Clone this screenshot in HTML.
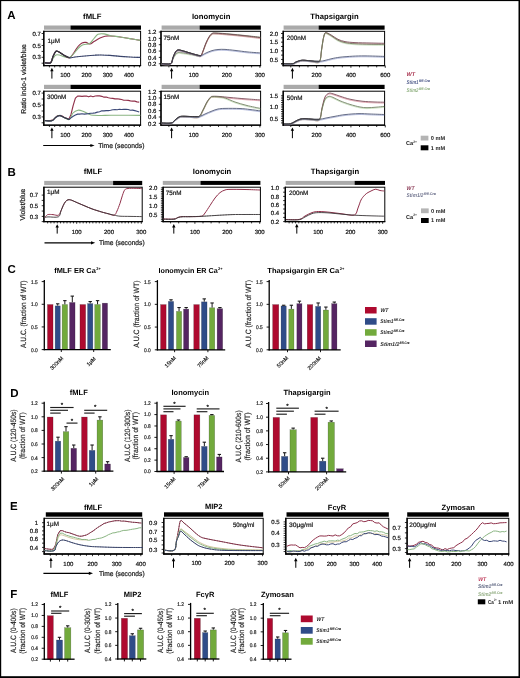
<!DOCTYPE html>
<html><head><meta charset="utf-8"><title>Figure</title>
<style>
html,body{margin:0;padding:0;background:#fff;}
body{width:520px;height:678px;overflow:hidden;}
svg{display:block;will-change:transform;text-rendering:geometricPrecision;font-family:"Liberation Sans", sans-serif;}
</style></head><body>
<svg width="520" height="678" viewBox="0 0 520 678" font-family="'Liberation Sans', sans-serif">
<rect x="0" y="0" width="520" height="678" fill="#fff"/>
<text x="11.50" y="18.74" font-size="11.5" text-anchor="middle" font-weight="bold" font-style="normal" fill="#000">A</text>
<text x="92.30" y="18.97" font-size="7.7" text-anchor="middle" font-weight="bold" font-style="normal" fill="#000">fMLF</text>
<text x="211.20" y="18.97" font-size="7.7" text-anchor="middle" font-weight="bold" font-style="normal" fill="#000">Ionomycin</text>
<text x="334.50" y="19.07" font-size="7.7" text-anchor="middle" font-weight="bold" font-style="normal" fill="#000">Thapsigargin</text>
<rect x="44.00" y="25.50" width="26.50" height="4.20" fill="#aaaaaa"/>
<rect x="70.50" y="25.50" width="70.50" height="4.20" fill="#000"/>
<rect x="43.80" y="31.30" width="96.80" height="34.30" fill="none" stroke="#000" stroke-width="1"/>
<line x1="43.80" y1="30.80" x2="43.80" y2="66.20" stroke="#000" stroke-width="1.3"/>
<line x1="43.20" y1="65.60" x2="141.10" y2="65.60" stroke="#000" stroke-width="1.3"/>
<line x1="41.60" y1="33.50" x2="43.80" y2="33.50" stroke="#000" stroke-width="0.8"/>
<text x="40.80" y="35.66" font-size="6.0" text-anchor="end" font-weight="normal" font-style="normal" fill="#1a1a1a" stroke="#1a1a1a" stroke-width="0.22">0.7</text>
<line x1="41.60" y1="39.40" x2="43.80" y2="39.40" stroke="#000" stroke-width="0.8"/>
<line x1="41.60" y1="45.45" x2="43.80" y2="45.45" stroke="#000" stroke-width="0.8"/>
<text x="40.80" y="47.61" font-size="6.0" text-anchor="end" font-weight="normal" font-style="normal" fill="#1a1a1a" stroke="#1a1a1a" stroke-width="0.22">0.5</text>
<line x1="41.60" y1="51.40" x2="43.80" y2="51.40" stroke="#000" stroke-width="0.8"/>
<line x1="41.60" y1="57.30" x2="43.80" y2="57.30" stroke="#000" stroke-width="0.8"/>
<text x="40.80" y="59.46" font-size="6.0" text-anchor="end" font-weight="normal" font-style="normal" fill="#1a1a1a" stroke="#1a1a1a" stroke-width="0.22">0.3</text>
<line x1="41.60" y1="63.20" x2="43.80" y2="63.20" stroke="#000" stroke-width="0.8"/>
<line x1="65.30" y1="65.60" x2="65.30" y2="67.80" stroke="#000" stroke-width="0.8"/>
<text x="65.30" y="77.36" font-size="6.0" text-anchor="middle" font-weight="normal" font-style="normal" fill="#1a1a1a" stroke="#1a1a1a" stroke-width="0.22">100</text>
<line x1="86.50" y1="65.60" x2="86.50" y2="67.80" stroke="#000" stroke-width="0.8"/>
<text x="86.50" y="77.36" font-size="6.0" text-anchor="middle" font-weight="normal" font-style="normal" fill="#1a1a1a" stroke="#1a1a1a" stroke-width="0.22">200</text>
<line x1="107.70" y1="65.60" x2="107.70" y2="67.80" stroke="#000" stroke-width="0.8"/>
<text x="107.70" y="77.36" font-size="6.0" text-anchor="middle" font-weight="normal" font-style="normal" fill="#1a1a1a" stroke="#1a1a1a" stroke-width="0.22">300</text>
<line x1="128.90" y1="65.60" x2="128.90" y2="67.80" stroke="#000" stroke-width="0.8"/>
<text x="128.90" y="77.36" font-size="6.0" text-anchor="middle" font-weight="normal" font-style="normal" fill="#1a1a1a" stroke="#1a1a1a" stroke-width="0.22">400</text>
<line x1="49.40" y1="65.60" x2="49.40" y2="67.40" stroke="#000" stroke-width="0.8"/>
<line x1="54.70" y1="65.60" x2="54.70" y2="67.40" stroke="#000" stroke-width="0.8"/>
<line x1="60.00" y1="65.60" x2="60.00" y2="67.40" stroke="#000" stroke-width="0.8"/>
<line x1="70.60" y1="65.60" x2="70.60" y2="67.40" stroke="#000" stroke-width="0.8"/>
<line x1="75.90" y1="65.60" x2="75.90" y2="67.40" stroke="#000" stroke-width="0.8"/>
<line x1="81.20" y1="65.60" x2="81.20" y2="67.40" stroke="#000" stroke-width="0.8"/>
<line x1="91.80" y1="65.60" x2="91.80" y2="67.40" stroke="#000" stroke-width="0.8"/>
<line x1="97.10" y1="65.60" x2="97.10" y2="67.40" stroke="#000" stroke-width="0.8"/>
<line x1="102.40" y1="65.60" x2="102.40" y2="67.40" stroke="#000" stroke-width="0.8"/>
<line x1="113.00" y1="65.60" x2="113.00" y2="67.40" stroke="#000" stroke-width="0.8"/>
<line x1="118.30" y1="65.60" x2="118.30" y2="67.40" stroke="#000" stroke-width="0.8"/>
<line x1="123.60" y1="65.60" x2="123.60" y2="67.40" stroke="#000" stroke-width="0.8"/>
<line x1="134.20" y1="65.60" x2="134.20" y2="67.40" stroke="#000" stroke-width="0.8"/>
<line x1="139.50" y1="65.60" x2="139.50" y2="67.40" stroke="#000" stroke-width="0.8"/>
<line x1="51.90" y1="69.80" x2="51.90" y2="78.60" stroke="#000" stroke-width="1.0"/>
<path d="M51.90 67.80 L50.20 71.20 L53.60 71.20 Z" fill="#000"/>
<rect x="161.60" y="25.50" width="38.00" height="4.20" fill="#aaaaaa"/>
<rect x="199.60" y="25.50" width="61.20" height="4.20" fill="#000"/>
<rect x="161.00" y="31.30" width="99.60" height="34.30" fill="none" stroke="#000" stroke-width="1"/>
<line x1="161.00" y1="30.80" x2="161.00" y2="66.20" stroke="#000" stroke-width="1.3"/>
<line x1="160.40" y1="65.60" x2="261.10" y2="65.60" stroke="#000" stroke-width="1.3"/>
<line x1="158.80" y1="32.00" x2="161.00" y2="32.00" stroke="#000" stroke-width="0.8"/>
<text x="156.40" y="34.16" font-size="6.0" text-anchor="end" font-weight="normal" font-style="normal" fill="#1a1a1a" stroke="#1a1a1a" stroke-width="0.22">1.2</text>
<line x1="158.80" y1="38.35" x2="161.00" y2="38.35" stroke="#000" stroke-width="0.8"/>
<text x="156.40" y="40.51" font-size="6.0" text-anchor="end" font-weight="normal" font-style="normal" fill="#1a1a1a" stroke="#1a1a1a" stroke-width="0.22">1.0</text>
<line x1="158.80" y1="44.70" x2="161.00" y2="44.70" stroke="#000" stroke-width="0.8"/>
<text x="156.40" y="46.86" font-size="6.0" text-anchor="end" font-weight="normal" font-style="normal" fill="#1a1a1a" stroke="#1a1a1a" stroke-width="0.22">0.8</text>
<line x1="158.80" y1="51.05" x2="161.00" y2="51.05" stroke="#000" stroke-width="0.8"/>
<text x="156.40" y="53.21" font-size="6.0" text-anchor="end" font-weight="normal" font-style="normal" fill="#1a1a1a" stroke="#1a1a1a" stroke-width="0.22">0.6</text>
<line x1="158.80" y1="57.40" x2="161.00" y2="57.40" stroke="#000" stroke-width="0.8"/>
<text x="156.40" y="59.56" font-size="6.0" text-anchor="end" font-weight="normal" font-style="normal" fill="#1a1a1a" stroke="#1a1a1a" stroke-width="0.22">0.4</text>
<line x1="158.80" y1="63.75" x2="161.00" y2="63.75" stroke="#000" stroke-width="0.8"/>
<text x="156.40" y="65.91" font-size="6.0" text-anchor="end" font-weight="normal" font-style="normal" fill="#1a1a1a" stroke="#1a1a1a" stroke-width="0.22">0.2</text>
<line x1="193.70" y1="65.60" x2="193.70" y2="67.80" stroke="#000" stroke-width="0.8"/>
<text x="193.70" y="77.36" font-size="6.0" text-anchor="middle" font-weight="normal" font-style="normal" fill="#1a1a1a" stroke="#1a1a1a" stroke-width="0.22">100</text>
<line x1="226.80" y1="65.60" x2="226.80" y2="67.80" stroke="#000" stroke-width="0.8"/>
<text x="226.80" y="77.36" font-size="6.0" text-anchor="middle" font-weight="normal" font-style="normal" fill="#1a1a1a" stroke="#1a1a1a" stroke-width="0.22">200</text>
<line x1="259.90" y1="65.60" x2="259.90" y2="67.80" stroke="#000" stroke-width="0.8"/>
<text x="259.90" y="77.36" font-size="6.0" text-anchor="middle" font-weight="normal" font-style="normal" fill="#1a1a1a" stroke="#1a1a1a" stroke-width="0.22">300</text>
<line x1="168.88" y1="65.60" x2="168.88" y2="67.40" stroke="#000" stroke-width="0.8"/>
<line x1="177.15" y1="65.60" x2="177.15" y2="67.40" stroke="#000" stroke-width="0.8"/>
<line x1="185.43" y1="65.60" x2="185.43" y2="67.40" stroke="#000" stroke-width="0.8"/>
<line x1="201.97" y1="65.60" x2="201.97" y2="67.40" stroke="#000" stroke-width="0.8"/>
<line x1="210.25" y1="65.60" x2="210.25" y2="67.40" stroke="#000" stroke-width="0.8"/>
<line x1="218.53" y1="65.60" x2="218.53" y2="67.40" stroke="#000" stroke-width="0.8"/>
<line x1="235.07" y1="65.60" x2="235.07" y2="67.40" stroke="#000" stroke-width="0.8"/>
<line x1="243.35" y1="65.60" x2="243.35" y2="67.40" stroke="#000" stroke-width="0.8"/>
<line x1="251.62" y1="65.60" x2="251.62" y2="67.40" stroke="#000" stroke-width="0.8"/>
<line x1="171.60" y1="69.80" x2="171.60" y2="78.60" stroke="#000" stroke-width="1.0"/>
<path d="M171.60 67.80 L169.90 71.20 L173.30 71.20 Z" fill="#000"/>
<rect x="283.60" y="25.50" width="35.00" height="4.20" fill="#aaaaaa"/>
<rect x="318.60" y="25.50" width="66.00" height="4.20" fill="#000"/>
<rect x="283.20" y="31.30" width="101.40" height="34.30" fill="none" stroke="#000" stroke-width="1"/>
<line x1="283.20" y1="30.80" x2="283.20" y2="66.20" stroke="#000" stroke-width="1.3"/>
<line x1="282.60" y1="65.60" x2="385.10" y2="65.60" stroke="#000" stroke-width="1.3"/>
<line x1="281.00" y1="33.50" x2="283.20" y2="33.50" stroke="#000" stroke-width="0.8"/>
<text x="278.20" y="35.66" font-size="6.0" text-anchor="end" font-weight="normal" font-style="normal" fill="#1a1a1a" stroke="#1a1a1a" stroke-width="0.22">2.0</text>
<line x1="281.00" y1="42.15" x2="283.20" y2="42.15" stroke="#000" stroke-width="0.8"/>
<text x="278.20" y="44.31" font-size="6.0" text-anchor="end" font-weight="normal" font-style="normal" fill="#1a1a1a" stroke="#1a1a1a" stroke-width="0.22">1.5</text>
<line x1="281.00" y1="50.80" x2="283.20" y2="50.80" stroke="#000" stroke-width="0.8"/>
<text x="278.20" y="52.96" font-size="6.0" text-anchor="end" font-weight="normal" font-style="normal" fill="#1a1a1a" stroke="#1a1a1a" stroke-width="0.22">1.0</text>
<line x1="281.00" y1="59.45" x2="283.20" y2="59.45" stroke="#000" stroke-width="0.8"/>
<text x="278.20" y="61.61" font-size="6.0" text-anchor="end" font-weight="normal" font-style="normal" fill="#1a1a1a" stroke="#1a1a1a" stroke-width="0.22">0.5</text>
<line x1="281.00" y1="37.83" x2="283.20" y2="37.83" stroke="#000" stroke-width="0.8"/>
<line x1="281.00" y1="46.48" x2="283.20" y2="46.48" stroke="#000" stroke-width="0.8"/>
<line x1="281.00" y1="55.12" x2="283.20" y2="55.12" stroke="#000" stroke-width="0.8"/>
<line x1="281.00" y1="63.78" x2="283.20" y2="63.78" stroke="#000" stroke-width="0.8"/>
<line x1="281.00" y1="63.80" x2="283.20" y2="63.80" stroke="#000" stroke-width="0.8"/>
<line x1="316.56" y1="65.60" x2="316.56" y2="67.80" stroke="#000" stroke-width="0.8"/>
<text x="316.56" y="77.36" font-size="6.0" text-anchor="middle" font-weight="normal" font-style="normal" fill="#1a1a1a" stroke="#1a1a1a" stroke-width="0.22">200</text>
<line x1="350.92" y1="65.60" x2="350.92" y2="67.80" stroke="#000" stroke-width="0.8"/>
<text x="350.92" y="77.36" font-size="6.0" text-anchor="middle" font-weight="normal" font-style="normal" fill="#1a1a1a" stroke="#1a1a1a" stroke-width="0.22">400</text>
<line x1="385.28" y1="65.60" x2="385.28" y2="67.80" stroke="#000" stroke-width="0.8"/>
<text x="385.28" y="77.36" font-size="6.0" text-anchor="middle" font-weight="normal" font-style="normal" fill="#1a1a1a" stroke="#1a1a1a" stroke-width="0.22">600</text>
<line x1="290.79" y1="65.60" x2="290.79" y2="67.40" stroke="#000" stroke-width="0.8"/>
<line x1="299.38" y1="65.60" x2="299.38" y2="67.40" stroke="#000" stroke-width="0.8"/>
<line x1="307.97" y1="65.60" x2="307.97" y2="67.40" stroke="#000" stroke-width="0.8"/>
<line x1="325.15" y1="65.60" x2="325.15" y2="67.40" stroke="#000" stroke-width="0.8"/>
<line x1="333.74" y1="65.60" x2="333.74" y2="67.40" stroke="#000" stroke-width="0.8"/>
<line x1="342.33" y1="65.60" x2="342.33" y2="67.40" stroke="#000" stroke-width="0.8"/>
<line x1="359.51" y1="65.60" x2="359.51" y2="67.40" stroke="#000" stroke-width="0.8"/>
<line x1="368.10" y1="65.60" x2="368.10" y2="67.40" stroke="#000" stroke-width="0.8"/>
<line x1="376.69" y1="65.60" x2="376.69" y2="67.40" stroke="#000" stroke-width="0.8"/>
<line x1="292.40" y1="69.80" x2="292.40" y2="78.60" stroke="#000" stroke-width="1.0"/>
<path d="M292.40 67.80 L290.70 71.20 L294.10 71.20 Z" fill="#000"/>
<rect x="44.00" y="84.80" width="26.50" height="4.20" fill="#aaaaaa"/>
<rect x="70.50" y="84.80" width="70.50" height="4.20" fill="#000"/>
<rect x="43.80" y="91.20" width="96.80" height="34.00" fill="none" stroke="#000" stroke-width="1"/>
<line x1="43.80" y1="90.70" x2="43.80" y2="125.80" stroke="#000" stroke-width="1.3"/>
<line x1="43.20" y1="125.20" x2="141.10" y2="125.20" stroke="#000" stroke-width="1.3"/>
<line x1="41.60" y1="93.10" x2="43.80" y2="93.10" stroke="#000" stroke-width="0.8"/>
<text x="40.80" y="95.26" font-size="6.0" text-anchor="end" font-weight="normal" font-style="normal" fill="#1a1a1a" stroke="#1a1a1a" stroke-width="0.22">0.7</text>
<line x1="41.60" y1="99.00" x2="43.80" y2="99.00" stroke="#000" stroke-width="0.8"/>
<line x1="41.60" y1="105.05" x2="43.80" y2="105.05" stroke="#000" stroke-width="0.8"/>
<text x="40.80" y="107.21" font-size="6.0" text-anchor="end" font-weight="normal" font-style="normal" fill="#1a1a1a" stroke="#1a1a1a" stroke-width="0.22">0.5</text>
<line x1="41.60" y1="111.00" x2="43.80" y2="111.00" stroke="#000" stroke-width="0.8"/>
<line x1="41.60" y1="116.90" x2="43.80" y2="116.90" stroke="#000" stroke-width="0.8"/>
<text x="40.80" y="119.06" font-size="6.0" text-anchor="end" font-weight="normal" font-style="normal" fill="#1a1a1a" stroke="#1a1a1a" stroke-width="0.22">0.3</text>
<line x1="41.60" y1="122.80" x2="43.80" y2="122.80" stroke="#000" stroke-width="0.8"/>
<line x1="65.30" y1="125.20" x2="65.30" y2="127.40" stroke="#000" stroke-width="0.8"/>
<text x="65.30" y="136.96" font-size="6.0" text-anchor="middle" font-weight="normal" font-style="normal" fill="#1a1a1a" stroke="#1a1a1a" stroke-width="0.22">100</text>
<line x1="86.50" y1="125.20" x2="86.50" y2="127.40" stroke="#000" stroke-width="0.8"/>
<text x="86.50" y="136.96" font-size="6.0" text-anchor="middle" font-weight="normal" font-style="normal" fill="#1a1a1a" stroke="#1a1a1a" stroke-width="0.22">200</text>
<line x1="107.70" y1="125.20" x2="107.70" y2="127.40" stroke="#000" stroke-width="0.8"/>
<text x="107.70" y="136.96" font-size="6.0" text-anchor="middle" font-weight="normal" font-style="normal" fill="#1a1a1a" stroke="#1a1a1a" stroke-width="0.22">300</text>
<line x1="128.90" y1="125.20" x2="128.90" y2="127.40" stroke="#000" stroke-width="0.8"/>
<text x="128.90" y="136.96" font-size="6.0" text-anchor="middle" font-weight="normal" font-style="normal" fill="#1a1a1a" stroke="#1a1a1a" stroke-width="0.22">400</text>
<line x1="49.40" y1="125.20" x2="49.40" y2="127.00" stroke="#000" stroke-width="0.8"/>
<line x1="54.70" y1="125.20" x2="54.70" y2="127.00" stroke="#000" stroke-width="0.8"/>
<line x1="60.00" y1="125.20" x2="60.00" y2="127.00" stroke="#000" stroke-width="0.8"/>
<line x1="70.60" y1="125.20" x2="70.60" y2="127.00" stroke="#000" stroke-width="0.8"/>
<line x1="75.90" y1="125.20" x2="75.90" y2="127.00" stroke="#000" stroke-width="0.8"/>
<line x1="81.20" y1="125.20" x2="81.20" y2="127.00" stroke="#000" stroke-width="0.8"/>
<line x1="91.80" y1="125.20" x2="91.80" y2="127.00" stroke="#000" stroke-width="0.8"/>
<line x1="97.10" y1="125.20" x2="97.10" y2="127.00" stroke="#000" stroke-width="0.8"/>
<line x1="102.40" y1="125.20" x2="102.40" y2="127.00" stroke="#000" stroke-width="0.8"/>
<line x1="113.00" y1="125.20" x2="113.00" y2="127.00" stroke="#000" stroke-width="0.8"/>
<line x1="118.30" y1="125.20" x2="118.30" y2="127.00" stroke="#000" stroke-width="0.8"/>
<line x1="123.60" y1="125.20" x2="123.60" y2="127.00" stroke="#000" stroke-width="0.8"/>
<line x1="134.20" y1="125.20" x2="134.20" y2="127.00" stroke="#000" stroke-width="0.8"/>
<line x1="139.50" y1="125.20" x2="139.50" y2="127.00" stroke="#000" stroke-width="0.8"/>
<line x1="51.90" y1="129.40" x2="51.90" y2="138.20" stroke="#000" stroke-width="1.0"/>
<path d="M51.90 127.40 L50.20 130.80 L53.60 130.80 Z" fill="#000"/>
<rect x="161.60" y="84.80" width="38.00" height="4.20" fill="#aaaaaa"/>
<rect x="199.60" y="84.80" width="61.20" height="4.20" fill="#000"/>
<rect x="161.00" y="91.20" width="99.60" height="34.00" fill="none" stroke="#000" stroke-width="1"/>
<line x1="161.00" y1="90.70" x2="161.00" y2="125.80" stroke="#000" stroke-width="1.3"/>
<line x1="160.40" y1="125.20" x2="261.10" y2="125.20" stroke="#000" stroke-width="1.3"/>
<line x1="158.80" y1="91.60" x2="161.00" y2="91.60" stroke="#000" stroke-width="0.8"/>
<text x="156.40" y="93.76" font-size="6.0" text-anchor="end" font-weight="normal" font-style="normal" fill="#1a1a1a" stroke="#1a1a1a" stroke-width="0.22">1.2</text>
<line x1="158.80" y1="97.95" x2="161.00" y2="97.95" stroke="#000" stroke-width="0.8"/>
<text x="156.40" y="100.11" font-size="6.0" text-anchor="end" font-weight="normal" font-style="normal" fill="#1a1a1a" stroke="#1a1a1a" stroke-width="0.22">1.0</text>
<line x1="158.80" y1="104.30" x2="161.00" y2="104.30" stroke="#000" stroke-width="0.8"/>
<text x="156.40" y="106.46" font-size="6.0" text-anchor="end" font-weight="normal" font-style="normal" fill="#1a1a1a" stroke="#1a1a1a" stroke-width="0.22">0.8</text>
<line x1="158.80" y1="110.65" x2="161.00" y2="110.65" stroke="#000" stroke-width="0.8"/>
<text x="156.40" y="112.81" font-size="6.0" text-anchor="end" font-weight="normal" font-style="normal" fill="#1a1a1a" stroke="#1a1a1a" stroke-width="0.22">0.6</text>
<line x1="158.80" y1="117.00" x2="161.00" y2="117.00" stroke="#000" stroke-width="0.8"/>
<text x="156.40" y="119.16" font-size="6.0" text-anchor="end" font-weight="normal" font-style="normal" fill="#1a1a1a" stroke="#1a1a1a" stroke-width="0.22">0.4</text>
<line x1="158.80" y1="123.35" x2="161.00" y2="123.35" stroke="#000" stroke-width="0.8"/>
<text x="156.40" y="125.51" font-size="6.0" text-anchor="end" font-weight="normal" font-style="normal" fill="#1a1a1a" stroke="#1a1a1a" stroke-width="0.22">0.2</text>
<line x1="193.70" y1="125.20" x2="193.70" y2="127.40" stroke="#000" stroke-width="0.8"/>
<text x="193.70" y="136.96" font-size="6.0" text-anchor="middle" font-weight="normal" font-style="normal" fill="#1a1a1a" stroke="#1a1a1a" stroke-width="0.22">100</text>
<line x1="226.80" y1="125.20" x2="226.80" y2="127.40" stroke="#000" stroke-width="0.8"/>
<text x="226.80" y="136.96" font-size="6.0" text-anchor="middle" font-weight="normal" font-style="normal" fill="#1a1a1a" stroke="#1a1a1a" stroke-width="0.22">200</text>
<line x1="259.90" y1="125.20" x2="259.90" y2="127.40" stroke="#000" stroke-width="0.8"/>
<text x="259.90" y="136.96" font-size="6.0" text-anchor="middle" font-weight="normal" font-style="normal" fill="#1a1a1a" stroke="#1a1a1a" stroke-width="0.22">300</text>
<line x1="168.88" y1="125.20" x2="168.88" y2="127.00" stroke="#000" stroke-width="0.8"/>
<line x1="177.15" y1="125.20" x2="177.15" y2="127.00" stroke="#000" stroke-width="0.8"/>
<line x1="185.43" y1="125.20" x2="185.43" y2="127.00" stroke="#000" stroke-width="0.8"/>
<line x1="201.97" y1="125.20" x2="201.97" y2="127.00" stroke="#000" stroke-width="0.8"/>
<line x1="210.25" y1="125.20" x2="210.25" y2="127.00" stroke="#000" stroke-width="0.8"/>
<line x1="218.53" y1="125.20" x2="218.53" y2="127.00" stroke="#000" stroke-width="0.8"/>
<line x1="235.07" y1="125.20" x2="235.07" y2="127.00" stroke="#000" stroke-width="0.8"/>
<line x1="243.35" y1="125.20" x2="243.35" y2="127.00" stroke="#000" stroke-width="0.8"/>
<line x1="251.62" y1="125.20" x2="251.62" y2="127.00" stroke="#000" stroke-width="0.8"/>
<line x1="171.60" y1="129.40" x2="171.60" y2="138.20" stroke="#000" stroke-width="1.0"/>
<path d="M171.60 127.40 L169.90 130.80 L173.30 130.80 Z" fill="#000"/>
<rect x="283.60" y="84.80" width="35.00" height="4.20" fill="#aaaaaa"/>
<rect x="318.60" y="84.80" width="66.00" height="4.20" fill="#000"/>
<rect x="283.20" y="91.20" width="101.40" height="34.00" fill="none" stroke="#000" stroke-width="1"/>
<line x1="283.20" y1="90.70" x2="283.20" y2="125.80" stroke="#000" stroke-width="1.3"/>
<line x1="282.60" y1="125.20" x2="385.10" y2="125.20" stroke="#000" stroke-width="1.3"/>
<line x1="281.00" y1="95.80" x2="283.20" y2="95.80" stroke="#000" stroke-width="0.8"/>
<text x="278.20" y="97.96" font-size="6.0" text-anchor="end" font-weight="normal" font-style="normal" fill="#1a1a1a" stroke="#1a1a1a" stroke-width="0.22">1.5</text>
<line x1="281.00" y1="107.00" x2="283.20" y2="107.00" stroke="#000" stroke-width="0.8"/>
<text x="278.20" y="109.16" font-size="6.0" text-anchor="end" font-weight="normal" font-style="normal" fill="#1a1a1a" stroke="#1a1a1a" stroke-width="0.22">1.0</text>
<line x1="281.00" y1="118.40" x2="283.20" y2="118.40" stroke="#000" stroke-width="0.8"/>
<text x="278.20" y="120.56" font-size="6.0" text-anchor="end" font-weight="normal" font-style="normal" fill="#1a1a1a" stroke="#1a1a1a" stroke-width="0.22">0.5</text>
<line x1="281.00" y1="98.06" x2="283.20" y2="98.06" stroke="#000" stroke-width="0.8"/>
<line x1="281.00" y1="100.32" x2="283.20" y2="100.32" stroke="#000" stroke-width="0.8"/>
<line x1="281.00" y1="102.58" x2="283.20" y2="102.58" stroke="#000" stroke-width="0.8"/>
<line x1="281.00" y1="104.84" x2="283.20" y2="104.84" stroke="#000" stroke-width="0.8"/>
<line x1="281.00" y1="109.36" x2="283.20" y2="109.36" stroke="#000" stroke-width="0.8"/>
<line x1="281.00" y1="111.62" x2="283.20" y2="111.62" stroke="#000" stroke-width="0.8"/>
<line x1="281.00" y1="113.88" x2="283.20" y2="113.88" stroke="#000" stroke-width="0.8"/>
<line x1="281.00" y1="116.14" x2="283.20" y2="116.14" stroke="#000" stroke-width="0.8"/>
<line x1="281.00" y1="120.66" x2="283.20" y2="120.66" stroke="#000" stroke-width="0.8"/>
<line x1="281.00" y1="122.92" x2="283.20" y2="122.92" stroke="#000" stroke-width="0.8"/>
<line x1="316.56" y1="125.20" x2="316.56" y2="127.40" stroke="#000" stroke-width="0.8"/>
<text x="316.56" y="136.96" font-size="6.0" text-anchor="middle" font-weight="normal" font-style="normal" fill="#1a1a1a" stroke="#1a1a1a" stroke-width="0.22">200</text>
<line x1="350.92" y1="125.20" x2="350.92" y2="127.40" stroke="#000" stroke-width="0.8"/>
<text x="350.92" y="136.96" font-size="6.0" text-anchor="middle" font-weight="normal" font-style="normal" fill="#1a1a1a" stroke="#1a1a1a" stroke-width="0.22">400</text>
<line x1="385.28" y1="125.20" x2="385.28" y2="127.40" stroke="#000" stroke-width="0.8"/>
<text x="385.28" y="136.96" font-size="6.0" text-anchor="middle" font-weight="normal" font-style="normal" fill="#1a1a1a" stroke="#1a1a1a" stroke-width="0.22">600</text>
<line x1="290.79" y1="125.20" x2="290.79" y2="127.00" stroke="#000" stroke-width="0.8"/>
<line x1="299.38" y1="125.20" x2="299.38" y2="127.00" stroke="#000" stroke-width="0.8"/>
<line x1="307.97" y1="125.20" x2="307.97" y2="127.00" stroke="#000" stroke-width="0.8"/>
<line x1="325.15" y1="125.20" x2="325.15" y2="127.00" stroke="#000" stroke-width="0.8"/>
<line x1="333.74" y1="125.20" x2="333.74" y2="127.00" stroke="#000" stroke-width="0.8"/>
<line x1="342.33" y1="125.20" x2="342.33" y2="127.00" stroke="#000" stroke-width="0.8"/>
<line x1="359.51" y1="125.20" x2="359.51" y2="127.00" stroke="#000" stroke-width="0.8"/>
<line x1="368.10" y1="125.20" x2="368.10" y2="127.00" stroke="#000" stroke-width="0.8"/>
<line x1="376.69" y1="125.20" x2="376.69" y2="127.00" stroke="#000" stroke-width="0.8"/>
<line x1="292.40" y1="129.40" x2="292.40" y2="138.20" stroke="#000" stroke-width="1.0"/>
<path d="M292.40 127.40 L290.70 130.80 L294.10 130.80 Z" fill="#000"/>
<text x="47.50" y="43.27" font-size="6.3" text-anchor="start" font-weight="normal" font-style="normal" fill="#1a1a1a" stroke="#1a1a1a" stroke-width="0.22">1μM</text>
<text x="163.60" y="39.77" font-size="6.3" text-anchor="start" font-weight="normal" font-style="normal" fill="#1a1a1a" stroke="#1a1a1a" stroke-width="0.22">75nM</text>
<text x="286.80" y="40.17" font-size="6.3" text-anchor="start" font-weight="normal" font-style="normal" fill="#1a1a1a" stroke="#1a1a1a" stroke-width="0.22">200nM</text>
<text x="46.90" y="99.27" font-size="6.3" text-anchor="start" font-weight="normal" font-style="normal" fill="#1a1a1a" stroke="#1a1a1a" stroke-width="0.22">300nM</text>
<text x="163.60" y="99.47" font-size="6.3" text-anchor="start" font-weight="normal" font-style="normal" fill="#1a1a1a" stroke="#1a1a1a" stroke-width="0.22">15nM</text>
<text x="286.80" y="99.77" font-size="6.3" text-anchor="start" font-weight="normal" font-style="normal" fill="#1a1a1a" stroke="#1a1a1a" stroke-width="0.22">50nM</text>
<text x="23.40" y="81.52" font-size="7.0" text-anchor="middle" font-weight="normal" font-style="normal" fill="#1a1a1a" stroke="#1a1a1a" stroke-width="0.22" textLength="69.50" lengthAdjust="spacingAndGlyphs" transform="rotate(-90 23.40 79.00)">Ratio indo-1 violet/blue</text>
<line x1="43.20" y1="145.50" x2="91.60" y2="145.50" stroke="#000" stroke-width="1.2"/>
<path d="M94.60 145.50 L90.40 143.90 L90.40 147.10 Z" fill="#000"/>
<text x="98.20" y="148.12" font-size="7.0" text-anchor="start" font-weight="normal" font-style="normal" fill="#1a1a1a" stroke="#1a1a1a" stroke-width="0.22" textLength="46.30" lengthAdjust="spacingAndGlyphs">Time (seconds)</text>
<text x="406.50" y="75.92" font-size="5.6" font-style="italic" font-weight="bold" fill="#a8324e" textLength="8.60" lengthAdjust="spacingAndGlyphs">WT</text>
<text x="406.50" y="84.14" font-size="5.4" font-style="italic" font-weight="bold" fill="#54608e" textLength="12.10" lengthAdjust="spacingAndGlyphs">Stim1</text>
<text x="418.90" y="82.14" font-size="3.4" font-style="italic" fill="#54608e" stroke="#54608e" stroke-width="0.15" textLength="11.00" lengthAdjust="spacingAndGlyphs">fl/fl-Cre</text>
<text x="406.50" y="91.64" font-size="5.4" font-style="italic" font-weight="bold" fill="#92b283" textLength="12.10" lengthAdjust="spacingAndGlyphs">Stim2</text>
<text x="418.90" y="89.64" font-size="3.4" font-style="italic" fill="#92b283" stroke="#92b283" stroke-width="0.15" textLength="11.00" lengthAdjust="spacingAndGlyphs">fl/fl-Cre</text>
<text x="406.00" y="145.30" font-size="5.6" font-weight="bold" fill="#1a1a1a">Ca<tspan font-size="3.4" dy="-2.2">2+</tspan></text>
<rect x="420.70" y="135.70" width="7.70" height="4.80" fill="#b4b4b4"/>
<rect x="420.70" y="145.30" width="7.70" height="5.00" fill="#000"/>
<text x="430.80" y="140.12" font-size="5.6" text-anchor="start" font-weight="bold" font-style="normal" fill="#1a1a1a">0 mM</text>
<text x="430.80" y="149.72" font-size="5.6" text-anchor="start" font-weight="bold" font-style="normal" fill="#1a1a1a">1 mM</text>
<path d="M44.60 62.90 C45.60 62.90 49.20 63.63 50.60 62.90 C52.00 62.17 52.10 59.82 53.00 58.50 C53.90 57.18 54.83 55.55 56.00 55.00 C57.17 54.45 58.67 54.93 60.00 55.20 C61.33 55.47 62.42 56.13 64.00 56.60 C65.58 57.07 68.58 57.77 69.50 58.00" fill="none" stroke="#8ab582" stroke-width="1.1" stroke-linejoin="round" opacity="1.0"/>
<path d="M44.60 62.70 C45.60 62.70 49.20 63.73 50.60 62.70 C52.00 61.67 52.10 58.40 53.00 56.50 C53.90 54.60 55.00 52.05 56.00 51.30 C57.00 50.55 57.67 51.33 59.00 52.00 C60.33 52.67 62.25 54.33 64.00 55.30 C65.75 56.27 67.83 58.27 69.50 57.80 C71.17 57.33 72.58 54.38 74.00 52.50 C75.42 50.62 76.67 48.08 78.00 46.50 C79.33 44.92 80.67 43.68 82.00 43.00 C83.33 42.32 84.67 42.23 86.00 42.40 C87.33 42.57 88.67 44.15 90.00 44.00 C91.33 43.85 92.33 42.50 94.00 41.50 C95.67 40.50 98.17 38.88 100.00 38.00 C101.83 37.12 103.33 36.53 105.00 36.20 C106.67 35.87 107.50 35.87 110.00 36.00 C112.50 36.13 116.67 36.57 120.00 37.00 C123.33 37.43 126.62 38.03 130.00 38.60 C133.38 39.17 138.58 40.10 140.30 40.40" fill="none" stroke="#90304a" stroke-width="1.15" stroke-linejoin="round" opacity="1.0"/>
<path d="M69.50 57.80 C70.25 57.08 72.58 55.05 74.00 53.50 C75.42 51.95 76.67 49.88 78.00 48.50 C79.33 47.12 80.67 45.90 82.00 45.20 C83.33 44.50 84.67 44.62 86.00 44.30 C87.33 43.98 88.67 44.27 90.00 43.30 C91.33 42.33 92.67 40.00 94.00 38.50 C95.33 37.00 96.33 35.07 98.00 34.30 C99.67 33.53 102.00 33.70 104.00 33.90 C106.00 34.10 107.33 34.98 110.00 35.50 C112.67 36.02 116.67 36.48 120.00 37.00 C123.33 37.52 126.62 38.03 130.00 38.60 C133.38 39.17 138.58 40.10 140.30 40.40" fill="none" stroke="#8ab582" stroke-width="1.1" stroke-linejoin="round" opacity="1.0"/>
<path d="M44.60 62.70 C45.60 62.70 49.20 63.73 50.60 62.70 C52.00 61.67 52.10 58.40 53.00 56.50 C53.90 54.60 55.00 52.05 56.00 51.30 C57.00 50.55 57.67 51.33 59.00 52.00 C60.33 52.67 62.25 54.33 64.00 55.30 C65.75 56.27 67.67 57.52 69.50 57.80 C71.33 58.08 72.42 57.30 75.00 57.00 C77.58 56.70 81.67 56.30 85.00 56.00 C88.33 55.70 92.33 55.37 95.00 55.20 C97.67 55.03 98.50 54.97 101.00 55.00 C103.50 55.03 106.83 55.17 110.00 55.40 C113.17 55.63 116.67 56.13 120.00 56.40 C123.33 56.67 126.62 56.83 130.00 57.00 C133.38 57.17 138.58 57.33 140.30 57.40" fill="none" stroke="#3b4877" stroke-width="1.15" stroke-linejoin="round" opacity="1.0"/>
<path d="M44.60 62.70 C45.60 62.70 49.20 63.73 50.60 62.70 C52.00 61.67 52.10 58.40 53.00 56.50 C53.90 54.60 55.00 52.05 56.00 51.30 C57.00 50.55 57.67 51.33 59.00 52.00 C60.33 52.67 62.25 54.33 64.00 55.30 C65.75 56.27 67.67 57.52 69.50 57.80 C71.33 58.08 72.42 57.30 75.00 57.00 C77.58 56.70 81.67 56.30 85.00 56.00 C88.33 55.70 92.33 55.37 95.00 55.20 C97.67 55.03 98.50 54.97 101.00 55.00 C103.50 55.03 106.83 55.17 110.00 55.40 C113.17 55.63 116.67 56.13 120.00 56.40 C123.33 56.67 126.62 56.83 130.00 57.00 C133.38 57.17 138.58 57.33 140.30 57.40" fill="none" stroke="#3a3a3a" stroke-width="0.6" stroke-dasharray="1.2 1.4" opacity="0.8"/>
<path d="M44.60 62.70 C45.60 62.70 49.20 63.73 50.60 62.70 C52.00 61.67 52.10 58.40 53.00 56.50 C53.90 54.60 55.00 52.05 56.00 51.30 C57.00 50.55 57.67 51.33 59.00 52.00 C60.33 52.67 62.25 54.33 64.00 55.30 C65.75 56.27 68.58 57.38 69.50 57.80" fill="none" stroke="#3a3538" stroke-width="1.15" stroke-linejoin="round" opacity="1.0"/>
<path d="M161.60 63.60 C163.10 63.60 168.70 64.45 170.60 63.60 C172.50 62.75 172.18 60.02 173.00 58.50 C173.82 56.98 174.67 55.48 175.50 54.50 C176.33 53.52 176.92 52.88 178.00 52.60 C179.08 52.32 180.00 52.57 182.00 52.80 C184.00 53.03 187.50 53.60 190.00 54.00 C192.50 54.40 195.20 54.93 197.00 55.20 C198.80 55.47 200.17 55.53 200.80 55.60" fill="none" stroke="#8fc07a" stroke-width="0.8" opacity="0.55" transform="translate(0 0.9)"/>
<path d="M161.60 63.60 C163.10 63.60 168.70 64.45 170.60 63.60 C172.50 62.75 172.18 60.02 173.00 58.50 C173.82 56.98 174.67 55.48 175.50 54.50 C176.33 53.52 176.92 52.88 178.00 52.60 C179.08 52.32 180.00 52.57 182.00 52.80 C184.00 53.03 187.50 53.60 190.00 54.00 C192.50 54.40 195.20 54.93 197.00 55.20 C198.80 55.47 200.17 55.53 200.80 55.60" fill="none" stroke="#6c7a5c" stroke-width="0.85"/>
<path d="M161.60 63.60 C163.10 63.60 168.70 64.62 170.60 63.60 C172.50 62.58 172.18 59.43 173.00 57.50 C173.82 55.57 174.67 53.25 175.50 52.00 C176.33 50.75 176.92 50.23 178.00 50.00 C179.08 49.77 180.00 50.10 182.00 50.60 C184.00 51.10 187.50 52.27 190.00 53.00 C192.50 53.73 195.20 54.57 197.00 55.00 C198.80 55.43 199.80 56.27 200.80 55.60 C201.80 54.93 202.13 53.10 203.00 51.00 C203.87 48.90 205.00 45.33 206.00 43.00 C207.00 40.67 208.00 38.57 209.00 37.00 C210.00 35.43 210.83 34.27 212.00 33.60 C213.17 32.93 213.00 32.93 216.00 33.00 C219.00 33.07 225.17 33.58 230.00 34.00 C234.83 34.42 239.95 34.97 245.00 35.50 C250.05 36.03 257.75 36.92 260.30 37.20" fill="none" stroke="#8fc07a" stroke-width="0.8" opacity="0.55" transform="translate(0 0.9)"/>
<path d="M161.60 63.60 C163.10 63.60 168.70 64.62 170.60 63.60 C172.50 62.58 172.18 59.43 173.00 57.50 C173.82 55.57 174.67 53.25 175.50 52.00 C176.33 50.75 176.92 50.23 178.00 50.00 C179.08 49.77 180.00 50.10 182.00 50.60 C184.00 51.10 187.50 52.27 190.00 53.00 C192.50 53.73 195.20 54.57 197.00 55.00 C198.80 55.43 199.80 56.27 200.80 55.60 C201.80 54.93 202.13 53.10 203.00 51.00 C203.87 48.90 205.00 45.33 206.00 43.00 C207.00 40.67 208.00 38.57 209.00 37.00 C210.00 35.43 210.83 34.27 212.00 33.60 C213.17 32.93 213.00 32.93 216.00 33.00 C219.00 33.07 225.17 33.58 230.00 34.00 C234.83 34.42 239.95 34.97 245.00 35.50 C250.05 36.03 257.75 36.92 260.30 37.20" fill="none" stroke="#6c7a5c" stroke-width="0.85"/>
<path d="M161.60 63.60 C163.10 63.60 168.70 64.62 170.60 63.60 C172.50 62.58 172.18 59.43 173.00 57.50 C173.82 55.57 174.67 53.25 175.50 52.00 C176.33 50.75 176.92 50.23 178.00 50.00 C179.08 49.77 180.00 50.10 182.00 50.60 C184.00 51.10 187.50 52.27 190.00 53.00 C192.50 53.73 195.20 54.57 197.00 55.00 C198.80 55.43 199.80 56.27 200.80 55.60 C201.80 54.93 202.13 53.10 203.00 51.00 C203.87 48.90 205.00 45.33 206.00 43.00 C207.00 40.67 208.00 38.57 209.00 37.00 C210.00 35.43 210.83 34.23 212.00 33.60 C213.17 32.97 213.00 33.08 216.00 33.20 C219.00 33.32 225.17 33.87 230.00 34.30 C234.83 34.73 239.95 35.25 245.00 35.80 C250.05 36.35 257.75 37.30 260.30 37.60" fill="none" stroke="#c0405a" stroke-width="0.8" opacity="0.55" transform="translate(0 0.9)"/>
<path d="M161.60 63.60 C163.10 63.60 168.70 64.62 170.60 63.60 C172.50 62.58 172.18 59.43 173.00 57.50 C173.82 55.57 174.67 53.25 175.50 52.00 C176.33 50.75 176.92 50.23 178.00 50.00 C179.08 49.77 180.00 50.10 182.00 50.60 C184.00 51.10 187.50 52.27 190.00 53.00 C192.50 53.73 195.20 54.57 197.00 55.00 C198.80 55.43 199.80 56.27 200.80 55.60 C201.80 54.93 202.13 53.10 203.00 51.00 C203.87 48.90 205.00 45.33 206.00 43.00 C207.00 40.67 208.00 38.57 209.00 37.00 C210.00 35.43 210.83 34.23 212.00 33.60 C213.17 32.97 213.00 33.08 216.00 33.20 C219.00 33.32 225.17 33.87 230.00 34.30 C234.83 34.73 239.95 35.25 245.00 35.80 C250.05 36.35 257.75 37.30 260.30 37.60" fill="none" stroke="#74424f" stroke-width="0.85"/>
<path d="M161.60 63.60 C163.10 63.60 168.70 64.62 170.60 63.60 C172.50 62.58 172.18 59.43 173.00 57.50 C173.82 55.57 174.67 53.25 175.50 52.00 C176.33 50.75 176.92 50.23 178.00 50.00 C179.08 49.77 180.00 50.10 182.00 50.60 C184.00 51.10 187.50 52.27 190.00 53.00 C192.50 53.73 195.20 54.57 197.00 55.00 C198.80 55.43 199.30 55.93 200.80 55.60 C202.30 55.27 204.13 53.83 206.00 53.00 C207.87 52.17 210.00 51.18 212.00 50.60 C214.00 50.02 215.83 49.70 218.00 49.50 C220.17 49.30 222.17 49.25 225.00 49.40 C227.83 49.55 231.17 49.97 235.00 50.40 C238.83 50.83 243.78 51.58 248.00 52.00 C252.22 52.42 258.25 52.75 260.30 52.90" fill="none" stroke="#5a6ab0" stroke-width="0.8" opacity="0.55" transform="translate(0 0.9)"/>
<path d="M161.60 63.60 C163.10 63.60 168.70 64.62 170.60 63.60 C172.50 62.58 172.18 59.43 173.00 57.50 C173.82 55.57 174.67 53.25 175.50 52.00 C176.33 50.75 176.92 50.23 178.00 50.00 C179.08 49.77 180.00 50.10 182.00 50.60 C184.00 51.10 187.50 52.27 190.00 53.00 C192.50 53.73 195.20 54.57 197.00 55.00 C198.80 55.43 199.30 55.93 200.80 55.60 C202.30 55.27 204.13 53.83 206.00 53.00 C207.87 52.17 210.00 51.18 212.00 50.60 C214.00 50.02 215.83 49.70 218.00 49.50 C220.17 49.30 222.17 49.25 225.00 49.40 C227.83 49.55 231.17 49.97 235.00 50.40 C238.83 50.83 243.78 51.58 248.00 52.00 C252.22 52.42 258.25 52.75 260.30 52.90" fill="none" stroke="#4a5370" stroke-width="0.85"/>
<path d="M161.60 63.60 C163.10 63.60 168.70 64.62 170.60 63.60 C172.50 62.58 172.18 59.43 173.00 57.50 C173.82 55.57 174.67 53.25 175.50 52.00 C176.33 50.75 176.92 50.23 178.00 50.00 C179.08 49.77 180.00 50.10 182.00 50.60 C184.00 51.10 187.50 52.27 190.00 53.00 C192.50 53.73 195.20 54.57 197.00 55.00 C198.80 55.43 200.17 55.50 200.80 55.60" fill="none" stroke="#3a3538" stroke-width="0.9" stroke-linejoin="round" opacity="1.0"/>
<path d="M284.00 63.70 C285.42 63.70 290.50 63.98 292.50 63.70 C294.50 63.42 294.62 62.55 296.00 62.00 C297.38 61.45 299.30 60.68 300.80 60.40 C302.30 60.12 303.13 60.20 305.00 60.30 C306.87 60.40 309.58 60.83 312.00 61.00 C314.42 61.17 317.92 63.13 319.50 61.30 C321.08 59.47 320.87 53.80 321.50 50.00 C322.13 46.20 322.72 41.33 323.30 38.50 C323.88 35.67 324.38 33.95 325.00 33.00 C325.62 32.05 325.83 32.38 327.00 32.80 C328.17 33.22 330.17 34.42 332.00 35.50 C333.83 36.58 335.83 38.28 338.00 39.30 C340.17 40.32 342.17 41.05 345.00 41.60 C347.83 42.15 350.83 42.37 355.00 42.60 C359.17 42.83 365.12 42.88 370.00 43.00 C374.88 43.12 381.92 43.25 384.30 43.30" fill="none" stroke="#c0405a" stroke-width="0.8" opacity="0.55" transform="translate(0 0.9)"/>
<path d="M284.00 63.70 C285.42 63.70 290.50 63.98 292.50 63.70 C294.50 63.42 294.62 62.55 296.00 62.00 C297.38 61.45 299.30 60.68 300.80 60.40 C302.30 60.12 303.13 60.20 305.00 60.30 C306.87 60.40 309.58 60.83 312.00 61.00 C314.42 61.17 317.92 63.13 319.50 61.30 C321.08 59.47 320.87 53.80 321.50 50.00 C322.13 46.20 322.72 41.33 323.30 38.50 C323.88 35.67 324.38 33.95 325.00 33.00 C325.62 32.05 325.83 32.38 327.00 32.80 C328.17 33.22 330.17 34.42 332.00 35.50 C333.83 36.58 335.83 38.28 338.00 39.30 C340.17 40.32 342.17 41.05 345.00 41.60 C347.83 42.15 350.83 42.37 355.00 42.60 C359.17 42.83 365.12 42.88 370.00 43.00 C374.88 43.12 381.92 43.25 384.30 43.30" fill="none" stroke="#74424f" stroke-width="0.85"/>
<path d="M284.00 63.70 C285.42 63.70 290.50 63.98 292.50 63.70 C294.50 63.42 294.62 62.55 296.00 62.00 C297.38 61.45 299.30 60.68 300.80 60.40 C302.30 60.12 303.13 60.20 305.00 60.30 C306.87 60.40 309.58 60.83 312.00 61.00 C314.42 61.17 317.92 63.13 319.50 61.30 C321.08 59.47 320.87 53.80 321.50 50.00 C322.13 46.20 322.72 41.30 323.30 38.50 C323.88 35.70 324.38 34.08 325.00 33.20 C325.62 32.32 325.83 32.70 327.00 33.20 C328.17 33.70 330.17 35.03 332.00 36.20 C333.83 37.37 335.83 39.13 338.00 40.20 C340.17 41.27 342.17 42.00 345.00 42.60 C347.83 43.20 350.83 43.52 355.00 43.80 C359.17 44.08 365.12 44.20 370.00 44.30 C374.88 44.40 381.92 44.38 384.30 44.40" fill="none" stroke="#8fc07a" stroke-width="0.8" opacity="0.55" transform="translate(0 0.9)"/>
<path d="M284.00 63.70 C285.42 63.70 290.50 63.98 292.50 63.70 C294.50 63.42 294.62 62.55 296.00 62.00 C297.38 61.45 299.30 60.68 300.80 60.40 C302.30 60.12 303.13 60.20 305.00 60.30 C306.87 60.40 309.58 60.83 312.00 61.00 C314.42 61.17 317.92 63.13 319.50 61.30 C321.08 59.47 320.87 53.80 321.50 50.00 C322.13 46.20 322.72 41.30 323.30 38.50 C323.88 35.70 324.38 34.08 325.00 33.20 C325.62 32.32 325.83 32.70 327.00 33.20 C328.17 33.70 330.17 35.03 332.00 36.20 C333.83 37.37 335.83 39.13 338.00 40.20 C340.17 41.27 342.17 42.00 345.00 42.60 C347.83 43.20 350.83 43.52 355.00 43.80 C359.17 44.08 365.12 44.20 370.00 44.30 C374.88 44.40 381.92 44.38 384.30 44.40" fill="none" stroke="#6c7a5c" stroke-width="0.85"/>
<path d="M284.00 63.70 C285.42 63.70 290.50 63.98 292.50 63.70 C294.50 63.42 294.62 62.55 296.00 62.00 C297.38 61.45 299.30 60.68 300.80 60.40 C302.30 60.12 303.13 60.20 305.00 60.30 C306.87 60.40 309.58 60.83 312.00 61.00 C314.42 61.17 317.33 61.40 319.50 61.30 C321.67 61.20 322.92 60.85 325.00 60.40 C327.08 59.95 329.50 59.13 332.00 58.60 C334.50 58.07 336.55 57.60 340.00 57.20 C343.45 56.80 348.53 56.42 352.70 56.20 C356.87 55.98 359.73 55.87 365.00 55.90 C370.27 55.93 381.08 56.32 384.30 56.40" fill="none" stroke="#5a6ab0" stroke-width="0.8" opacity="0.55" transform="translate(0 0.9)"/>
<path d="M284.00 63.70 C285.42 63.70 290.50 63.98 292.50 63.70 C294.50 63.42 294.62 62.55 296.00 62.00 C297.38 61.45 299.30 60.68 300.80 60.40 C302.30 60.12 303.13 60.20 305.00 60.30 C306.87 60.40 309.58 60.83 312.00 61.00 C314.42 61.17 317.33 61.40 319.50 61.30 C321.67 61.20 322.92 60.85 325.00 60.40 C327.08 59.95 329.50 59.13 332.00 58.60 C334.50 58.07 336.55 57.60 340.00 57.20 C343.45 56.80 348.53 56.42 352.70 56.20 C356.87 55.98 359.73 55.87 365.00 55.90 C370.27 55.93 381.08 56.32 384.30 56.40" fill="none" stroke="#4a5370" stroke-width="0.85"/>
<path d="M284.00 63.70 C285.42 63.70 290.50 63.98 292.50 63.70 C294.50 63.42 294.62 62.55 296.00 62.00 C297.38 61.45 299.30 60.68 300.80 60.40 C302.30 60.12 303.13 60.20 305.00 60.30 C306.87 60.40 309.58 60.83 312.00 61.00 C314.42 61.17 318.25 61.25 319.50 61.30" fill="none" stroke="#3a3538" stroke-width="0.9" stroke-linejoin="round" opacity="1.0"/>
<path d="M44.60 120.52 L46.80 120.46 L49.00 121.04 L51.20 120.36 L53.40 119.76 L55.60 117.41 L57.80 115.53 L60.00 115.64 L62.20 116.02 L64.40 117.55 L66.60 118.30 L68.80 119.45 L71.00 114.40 L73.20 105.37 L75.40 98.20 L77.60 96.17 L79.80 96.07 L82.00 96.35 L84.20 96.07 L86.40 96.07 L88.60 96.82 L90.80 95.95 L93.00 96.71 L95.20 96.05 L97.40 95.87 L99.60 95.90 L101.80 96.31 L104.00 97.18 L106.20 96.96 L108.40 97.80 L110.60 98.24 L112.80 98.34 L115.00 98.88 L117.20 98.75 L119.40 99.07 L121.60 99.52 L123.80 100.27 L126.00 100.27 L128.20 100.41 L130.40 100.93 L132.60 101.06 L134.80 101.16 L137.00 101.91 L139.20 102.07" fill="none" stroke="#90304a" stroke-width="1.15" stroke-linejoin="round" opacity="1.0"/>
<path d="M44.60 120.70 C45.80 120.70 50.07 121.15 51.80 120.70 C53.53 120.25 53.85 118.85 55.00 118.00 C56.15 117.15 57.53 115.87 58.70 115.60 C59.87 115.33 60.78 115.93 62.00 116.40 C63.22 116.87 64.75 117.90 66.00 118.40 C67.25 118.90 68.33 120.30 69.50 119.40 C70.67 118.50 71.58 114.53 73.00 113.00 C74.42 111.47 76.33 110.50 78.00 110.20 C79.67 109.90 81.33 110.63 83.00 111.20 C84.67 111.77 86.33 112.92 88.00 113.60 C89.67 114.28 90.17 115.00 93.00 115.30 C95.83 115.60 100.50 115.42 105.00 115.40 C109.50 115.38 114.12 115.20 120.00 115.20 C125.88 115.20 136.92 115.37 140.30 115.40" fill="none" stroke="#8ab582" stroke-width="1.1" stroke-linejoin="round" opacity="1.0"/>
<path d="M44.60 120.52 L46.80 120.86 L49.00 120.91 L51.20 121.05 L53.40 119.89 L55.60 117.39 L57.80 116.31 L60.00 115.37 L62.20 116.43 L64.40 117.79 L66.60 118.42 L68.80 119.46 L71.00 117.90 L73.20 116.29 L75.40 115.09 L77.60 114.15 L79.80 114.12 L82.00 113.79 L84.20 114.07 L86.40 113.84 L88.60 113.58 L90.80 113.20 L93.00 113.15 L95.20 112.87 L97.40 112.11 L99.60 111.74 L101.80 110.83 L104.00 110.89 L106.20 110.56 L108.40 110.57 L110.60 110.26 L112.80 109.72 L115.00 109.66 L117.20 109.76 L119.40 109.25 L121.60 109.54 L123.80 109.37 L126.00 109.41 L128.20 109.52 L130.40 110.24 L132.60 110.13 L134.80 110.63 L137.00 111.20 L139.20 112.03" fill="none" stroke="#3b4877" stroke-width="1.15" stroke-linejoin="round" opacity="1.0"/>
<path d="M44.60 120.70 C45.80 120.70 50.07 121.15 51.80 120.70 C53.53 120.25 53.85 118.85 55.00 118.00 C56.15 117.15 57.53 115.87 58.70 115.60 C59.87 115.33 60.78 115.93 62.00 116.40 C63.22 116.87 64.75 117.90 66.00 118.40 C67.25 118.90 68.92 119.23 69.50 119.40" fill="none" stroke="#3a3538" stroke-width="0.9" stroke-linejoin="round" opacity="1.0"/>
<path d="M161.60 123.00 C163.20 123.00 168.97 123.50 171.20 123.00 C173.43 122.50 173.70 121.00 175.00 120.00 C176.30 119.00 177.75 117.62 179.00 117.00 C180.25 116.38 180.67 116.38 182.50 116.30 C184.33 116.22 187.28 116.45 190.00 116.50 C192.72 116.55 196.63 117.68 198.80 116.60 C200.97 115.52 201.63 112.43 203.00 110.00 C204.37 107.57 205.75 104.13 207.00 102.00 C208.25 99.87 209.50 98.15 210.50 97.20 C211.50 96.25 211.42 96.42 213.00 96.30 C214.58 96.18 217.17 96.30 220.00 96.50 C222.83 96.70 225.83 97.12 230.00 97.50 C234.17 97.88 239.95 98.40 245.00 98.80 C250.05 99.20 257.75 99.72 260.30 99.90" fill="none" stroke="#c0405a" stroke-width="0.8" opacity="0.55" transform="translate(0 0.9)"/>
<path d="M161.60 123.00 C163.20 123.00 168.97 123.50 171.20 123.00 C173.43 122.50 173.70 121.00 175.00 120.00 C176.30 119.00 177.75 117.62 179.00 117.00 C180.25 116.38 180.67 116.38 182.50 116.30 C184.33 116.22 187.28 116.45 190.00 116.50 C192.72 116.55 196.63 117.68 198.80 116.60 C200.97 115.52 201.63 112.43 203.00 110.00 C204.37 107.57 205.75 104.13 207.00 102.00 C208.25 99.87 209.50 98.15 210.50 97.20 C211.50 96.25 211.42 96.42 213.00 96.30 C214.58 96.18 217.17 96.30 220.00 96.50 C222.83 96.70 225.83 97.12 230.00 97.50 C234.17 97.88 239.95 98.40 245.00 98.80 C250.05 99.20 257.75 99.72 260.30 99.90" fill="none" stroke="#74424f" stroke-width="0.85"/>
<path d="M161.60 123.00 C163.20 123.00 168.97 123.50 171.20 123.00 C173.43 122.50 173.70 121.00 175.00 120.00 C176.30 119.00 177.75 117.62 179.00 117.00 C180.25 116.38 180.67 116.38 182.50 116.30 C184.33 116.22 187.28 116.45 190.00 116.50 C192.72 116.55 196.63 117.68 198.80 116.60 C200.97 115.52 201.63 112.43 203.00 110.00 C204.37 107.57 205.75 104.10 207.00 102.00 C208.25 99.90 209.50 98.32 210.50 97.40 C211.50 96.48 211.42 96.58 213.00 96.50 C214.58 96.42 217.95 96.65 220.00 96.90 C222.05 97.15 222.80 97.15 225.30 98.00 C227.80 98.85 231.38 100.75 235.00 102.00 C238.62 103.25 242.78 104.43 247.00 105.50 C251.22 106.57 258.08 107.92 260.30 108.40" fill="none" stroke="#8fc07a" stroke-width="0.8" opacity="0.55" transform="translate(0 0.9)"/>
<path d="M161.60 123.00 C163.20 123.00 168.97 123.50 171.20 123.00 C173.43 122.50 173.70 121.00 175.00 120.00 C176.30 119.00 177.75 117.62 179.00 117.00 C180.25 116.38 180.67 116.38 182.50 116.30 C184.33 116.22 187.28 116.45 190.00 116.50 C192.72 116.55 196.63 117.68 198.80 116.60 C200.97 115.52 201.63 112.43 203.00 110.00 C204.37 107.57 205.75 104.10 207.00 102.00 C208.25 99.90 209.50 98.32 210.50 97.40 C211.50 96.48 211.42 96.58 213.00 96.50 C214.58 96.42 217.95 96.65 220.00 96.90 C222.05 97.15 222.80 97.15 225.30 98.00 C227.80 98.85 231.38 100.75 235.00 102.00 C238.62 103.25 242.78 104.43 247.00 105.50 C251.22 106.57 258.08 107.92 260.30 108.40" fill="none" stroke="#6c7a5c" stroke-width="0.85"/>
<path d="M161.60 123.00 C163.20 123.00 168.97 123.50 171.20 123.00 C173.43 122.50 173.70 121.00 175.00 120.00 C176.30 119.00 177.75 117.62 179.00 117.00 C180.25 116.38 180.67 116.38 182.50 116.30 C184.33 116.22 187.28 116.45 190.00 116.50 C192.72 116.55 196.30 117.02 198.80 116.60 C201.30 116.18 202.80 114.93 205.00 114.00 C207.20 113.07 209.83 111.83 212.00 111.00 C214.17 110.17 215.83 109.43 218.00 109.00 C220.17 108.57 221.33 108.48 225.00 108.40 C228.67 108.32 235.83 108.32 240.00 108.50 C244.17 108.68 246.62 109.10 250.00 109.50 C253.38 109.90 258.58 110.67 260.30 110.90" fill="none" stroke="#5a6ab0" stroke-width="0.8" opacity="0.55" transform="translate(0 0.9)"/>
<path d="M161.60 123.00 C163.20 123.00 168.97 123.50 171.20 123.00 C173.43 122.50 173.70 121.00 175.00 120.00 C176.30 119.00 177.75 117.62 179.00 117.00 C180.25 116.38 180.67 116.38 182.50 116.30 C184.33 116.22 187.28 116.45 190.00 116.50 C192.72 116.55 196.30 117.02 198.80 116.60 C201.30 116.18 202.80 114.93 205.00 114.00 C207.20 113.07 209.83 111.83 212.00 111.00 C214.17 110.17 215.83 109.43 218.00 109.00 C220.17 108.57 221.33 108.48 225.00 108.40 C228.67 108.32 235.83 108.32 240.00 108.50 C244.17 108.68 246.62 109.10 250.00 109.50 C253.38 109.90 258.58 110.67 260.30 110.90" fill="none" stroke="#4a5370" stroke-width="0.85"/>
<path d="M161.60 123.00 C163.20 123.00 168.97 123.50 171.20 123.00 C173.43 122.50 173.70 121.00 175.00 120.00 C176.30 119.00 177.75 117.62 179.00 117.00 C180.25 116.38 180.67 116.38 182.50 116.30 C184.33 116.22 187.28 116.45 190.00 116.50 C192.72 116.55 197.33 116.58 198.80 116.60" fill="none" stroke="#3a3538" stroke-width="0.9" stroke-linejoin="round" opacity="1.0"/>
<path d="M284.00 124.00 C285.07 123.97 288.57 124.22 290.40 123.80 C292.23 123.38 293.40 122.27 295.00 121.50 C296.60 120.73 298.33 119.67 300.00 119.20 C301.67 118.73 303.00 118.70 305.00 118.70 C307.00 118.70 309.58 119.10 312.00 119.20 C314.42 119.30 317.83 121.17 319.50 119.30 C321.17 117.43 321.08 111.72 322.00 108.00 C322.92 104.28 323.87 99.45 325.00 97.00 C326.13 94.55 327.47 93.83 328.80 93.30 C330.13 92.77 331.13 93.32 333.00 93.80 C334.87 94.28 337.17 95.30 340.00 96.20 C342.83 97.10 346.33 98.37 350.00 99.20 C353.67 100.03 357.83 100.73 362.00 101.20 C366.17 101.67 371.28 101.83 375.00 102.00 C378.72 102.17 382.75 102.17 384.30 102.20" fill="none" stroke="#c0405a" stroke-width="0.8" opacity="0.55" transform="translate(0 0.9)"/>
<path d="M284.00 124.00 C285.07 123.97 288.57 124.22 290.40 123.80 C292.23 123.38 293.40 122.27 295.00 121.50 C296.60 120.73 298.33 119.67 300.00 119.20 C301.67 118.73 303.00 118.70 305.00 118.70 C307.00 118.70 309.58 119.10 312.00 119.20 C314.42 119.30 317.83 121.17 319.50 119.30 C321.17 117.43 321.08 111.72 322.00 108.00 C322.92 104.28 323.87 99.45 325.00 97.00 C326.13 94.55 327.47 93.83 328.80 93.30 C330.13 92.77 331.13 93.32 333.00 93.80 C334.87 94.28 337.17 95.30 340.00 96.20 C342.83 97.10 346.33 98.37 350.00 99.20 C353.67 100.03 357.83 100.73 362.00 101.20 C366.17 101.67 371.28 101.83 375.00 102.00 C378.72 102.17 382.75 102.17 384.30 102.20" fill="none" stroke="#74424f" stroke-width="0.85"/>
<path d="M284.00 124.00 C285.07 123.97 288.57 124.22 290.40 123.80 C292.23 123.38 293.40 122.27 295.00 121.50 C296.60 120.73 298.33 119.67 300.00 119.20 C301.67 118.73 303.00 118.70 305.00 118.70 C307.00 118.70 309.58 119.10 312.00 119.20 C314.42 119.30 317.83 121.00 319.50 119.30 C321.17 117.60 321.08 112.30 322.00 109.00 C322.92 105.70 323.87 101.60 325.00 99.50 C326.13 97.40 327.47 96.75 328.80 96.40 C330.13 96.05 331.13 96.67 333.00 97.40 C334.87 98.13 337.17 99.63 340.00 100.80 C342.83 101.97 346.67 103.37 350.00 104.40 C353.33 105.43 357.17 106.45 360.00 107.00 C362.83 107.55 364.33 107.67 367.00 107.70 C369.67 107.73 373.12 107.42 376.00 107.20 C378.88 106.98 382.92 106.53 384.30 106.40" fill="none" stroke="#8fc07a" stroke-width="0.8" opacity="0.55" transform="translate(0 0.9)"/>
<path d="M284.00 124.00 C285.07 123.97 288.57 124.22 290.40 123.80 C292.23 123.38 293.40 122.27 295.00 121.50 C296.60 120.73 298.33 119.67 300.00 119.20 C301.67 118.73 303.00 118.70 305.00 118.70 C307.00 118.70 309.58 119.10 312.00 119.20 C314.42 119.30 317.83 121.00 319.50 119.30 C321.17 117.60 321.08 112.30 322.00 109.00 C322.92 105.70 323.87 101.60 325.00 99.50 C326.13 97.40 327.47 96.75 328.80 96.40 C330.13 96.05 331.13 96.67 333.00 97.40 C334.87 98.13 337.17 99.63 340.00 100.80 C342.83 101.97 346.67 103.37 350.00 104.40 C353.33 105.43 357.17 106.45 360.00 107.00 C362.83 107.55 364.33 107.67 367.00 107.70 C369.67 107.73 373.12 107.42 376.00 107.20 C378.88 106.98 382.92 106.53 384.30 106.40" fill="none" stroke="#6c7a5c" stroke-width="0.85"/>
<path d="M284.00 124.00 C285.07 123.97 288.57 124.22 290.40 123.80 C292.23 123.38 293.40 122.27 295.00 121.50 C296.60 120.73 298.33 119.67 300.00 119.20 C301.67 118.73 303.00 118.70 305.00 118.70 C307.00 118.70 309.58 119.10 312.00 119.20 C314.42 119.30 317.17 119.50 319.50 119.30 C321.83 119.10 323.42 118.50 326.00 118.00 C328.58 117.50 331.83 116.87 335.00 116.30 C338.17 115.73 341.00 115.05 345.00 114.60 C349.00 114.15 354.83 113.70 359.00 113.60 C363.17 113.50 365.78 113.85 370.00 114.00 C374.22 114.15 381.92 114.42 384.30 114.50" fill="none" stroke="#5a6ab0" stroke-width="0.8" opacity="0.55" transform="translate(0 0.9)"/>
<path d="M284.00 124.00 C285.07 123.97 288.57 124.22 290.40 123.80 C292.23 123.38 293.40 122.27 295.00 121.50 C296.60 120.73 298.33 119.67 300.00 119.20 C301.67 118.73 303.00 118.70 305.00 118.70 C307.00 118.70 309.58 119.10 312.00 119.20 C314.42 119.30 317.17 119.50 319.50 119.30 C321.83 119.10 323.42 118.50 326.00 118.00 C328.58 117.50 331.83 116.87 335.00 116.30 C338.17 115.73 341.00 115.05 345.00 114.60 C349.00 114.15 354.83 113.70 359.00 113.60 C363.17 113.50 365.78 113.85 370.00 114.00 C374.22 114.15 381.92 114.42 384.30 114.50" fill="none" stroke="#4a5370" stroke-width="0.85"/>
<path d="M284.00 124.00 C285.07 123.97 288.57 124.22 290.40 123.80 C292.23 123.38 293.40 122.27 295.00 121.50 C296.60 120.73 298.33 119.67 300.00 119.20 C301.67 118.73 303.00 118.70 305.00 118.70 C307.00 118.70 309.58 119.10 312.00 119.20 C314.42 119.30 318.25 119.28 319.50 119.30" fill="none" stroke="#3a3538" stroke-width="0.9" stroke-linejoin="round" opacity="1.0"/>
<text x="11.60" y="176.34" font-size="11.5" text-anchor="middle" font-weight="bold" font-style="normal" fill="#000">B</text>
<text x="92.90" y="174.27" font-size="7.7" text-anchor="middle" font-weight="bold" font-style="normal" fill="#000">fMLF</text>
<text x="212.10" y="173.87" font-size="7.7" text-anchor="middle" font-weight="bold" font-style="normal" fill="#000">Ionomycin</text>
<text x="335.00" y="173.87" font-size="7.7" text-anchor="middle" font-weight="bold" font-style="normal" fill="#000">Thapsigargin</text>
<rect x="44.20" y="180.90" width="68.90" height="4.20" fill="#aaaaaa"/>
<rect x="113.10" y="180.90" width="29.10" height="4.20" fill="#000"/>
<rect x="43.90" y="187.20" width="98.30" height="34.40" fill="none" stroke="#000" stroke-width="1"/>
<line x1="43.90" y1="186.70" x2="43.90" y2="222.20" stroke="#000" stroke-width="1.3"/>
<line x1="43.30" y1="221.60" x2="142.70" y2="221.60" stroke="#000" stroke-width="1.3"/>
<line x1="41.70" y1="195.10" x2="43.90" y2="195.10" stroke="#000" stroke-width="0.8"/>
<text x="38.20" y="197.26" font-size="6.0" text-anchor="end" font-weight="normal" font-style="normal" fill="#1a1a1a" stroke="#1a1a1a" stroke-width="0.22">0.7</text>
<line x1="41.70" y1="200.40" x2="43.90" y2="200.40" stroke="#000" stroke-width="0.8"/>
<line x1="41.70" y1="205.70" x2="43.90" y2="205.70" stroke="#000" stroke-width="0.8"/>
<text x="38.20" y="207.86" font-size="6.0" text-anchor="end" font-weight="normal" font-style="normal" fill="#1a1a1a" stroke="#1a1a1a" stroke-width="0.22">0.5</text>
<line x1="41.70" y1="211.05" x2="43.90" y2="211.05" stroke="#000" stroke-width="0.8"/>
<line x1="41.70" y1="216.40" x2="43.90" y2="216.40" stroke="#000" stroke-width="0.8"/>
<text x="38.20" y="218.56" font-size="6.0" text-anchor="end" font-weight="normal" font-style="normal" fill="#1a1a1a" stroke="#1a1a1a" stroke-width="0.22">0.3</text>
<line x1="41.70" y1="221.60" x2="43.90" y2="221.60" stroke="#000" stroke-width="0.8"/>
<line x1="76.70" y1="221.60" x2="76.70" y2="223.80" stroke="#000" stroke-width="0.8"/>
<text x="76.70" y="233.96" font-size="6.0" text-anchor="middle" font-weight="normal" font-style="normal" fill="#1a1a1a" stroke="#1a1a1a" stroke-width="0.22">100</text>
<line x1="109.00" y1="221.60" x2="109.00" y2="223.80" stroke="#000" stroke-width="0.8"/>
<text x="109.00" y="233.96" font-size="6.0" text-anchor="middle" font-weight="normal" font-style="normal" fill="#1a1a1a" stroke="#1a1a1a" stroke-width="0.22">200</text>
<line x1="141.30" y1="221.60" x2="141.30" y2="223.80" stroke="#000" stroke-width="0.8"/>
<text x="141.30" y="233.96" font-size="6.0" text-anchor="middle" font-weight="normal" font-style="normal" fill="#1a1a1a" stroke="#1a1a1a" stroke-width="0.22">300</text>
<line x1="47.63" y1="221.60" x2="47.63" y2="223.40" stroke="#000" stroke-width="0.8"/>
<line x1="50.86" y1="221.60" x2="50.86" y2="223.40" stroke="#000" stroke-width="0.8"/>
<line x1="54.09" y1="221.60" x2="54.09" y2="223.40" stroke="#000" stroke-width="0.8"/>
<line x1="57.32" y1="221.60" x2="57.32" y2="223.40" stroke="#000" stroke-width="0.8"/>
<line x1="60.55" y1="221.60" x2="60.55" y2="223.40" stroke="#000" stroke-width="0.8"/>
<line x1="63.78" y1="221.60" x2="63.78" y2="223.40" stroke="#000" stroke-width="0.8"/>
<line x1="67.01" y1="221.60" x2="67.01" y2="223.40" stroke="#000" stroke-width="0.8"/>
<line x1="70.24" y1="221.60" x2="70.24" y2="223.40" stroke="#000" stroke-width="0.8"/>
<line x1="73.47" y1="221.60" x2="73.47" y2="223.40" stroke="#000" stroke-width="0.8"/>
<line x1="79.93" y1="221.60" x2="79.93" y2="223.40" stroke="#000" stroke-width="0.8"/>
<line x1="83.16" y1="221.60" x2="83.16" y2="223.40" stroke="#000" stroke-width="0.8"/>
<line x1="86.39" y1="221.60" x2="86.39" y2="223.40" stroke="#000" stroke-width="0.8"/>
<line x1="89.62" y1="221.60" x2="89.62" y2="223.40" stroke="#000" stroke-width="0.8"/>
<line x1="92.85" y1="221.60" x2="92.85" y2="223.40" stroke="#000" stroke-width="0.8"/>
<line x1="96.08" y1="221.60" x2="96.08" y2="223.40" stroke="#000" stroke-width="0.8"/>
<line x1="99.31" y1="221.60" x2="99.31" y2="223.40" stroke="#000" stroke-width="0.8"/>
<line x1="102.54" y1="221.60" x2="102.54" y2="223.40" stroke="#000" stroke-width="0.8"/>
<line x1="105.77" y1="221.60" x2="105.77" y2="223.40" stroke="#000" stroke-width="0.8"/>
<line x1="112.23" y1="221.60" x2="112.23" y2="223.40" stroke="#000" stroke-width="0.8"/>
<line x1="115.46" y1="221.60" x2="115.46" y2="223.40" stroke="#000" stroke-width="0.8"/>
<line x1="118.69" y1="221.60" x2="118.69" y2="223.40" stroke="#000" stroke-width="0.8"/>
<line x1="121.92" y1="221.60" x2="121.92" y2="223.40" stroke="#000" stroke-width="0.8"/>
<line x1="125.15" y1="221.60" x2="125.15" y2="223.40" stroke="#000" stroke-width="0.8"/>
<line x1="128.38" y1="221.60" x2="128.38" y2="223.40" stroke="#000" stroke-width="0.8"/>
<line x1="131.61" y1="221.60" x2="131.61" y2="223.40" stroke="#000" stroke-width="0.8"/>
<line x1="134.84" y1="221.60" x2="134.84" y2="223.40" stroke="#000" stroke-width="0.8"/>
<line x1="138.07" y1="221.60" x2="138.07" y2="223.40" stroke="#000" stroke-width="0.8"/>
<line x1="57.20" y1="226.20" x2="57.20" y2="233.60" stroke="#000" stroke-width="1.0"/>
<path d="M57.20 224.20 L55.50 227.60 L58.90 227.60 Z" fill="#000"/>
<rect x="162.80" y="180.90" width="37.70" height="4.00" fill="#aaaaaa"/>
<rect x="200.50" y="180.90" width="59.90" height="4.00" fill="#000"/>
<rect x="163.10" y="187.20" width="97.30" height="34.40" fill="none" stroke="#000" stroke-width="1"/>
<line x1="163.10" y1="186.70" x2="163.10" y2="222.20" stroke="#000" stroke-width="1.3"/>
<line x1="162.50" y1="221.60" x2="260.90" y2="221.60" stroke="#000" stroke-width="1.3"/>
<line x1="160.90" y1="187.90" x2="163.10" y2="187.90" stroke="#000" stroke-width="0.8"/>
<text x="157.40" y="190.06" font-size="6.0" text-anchor="end" font-weight="normal" font-style="normal" fill="#1a1a1a" stroke="#1a1a1a" stroke-width="0.22">2.0</text>
<line x1="160.90" y1="196.90" x2="163.10" y2="196.90" stroke="#000" stroke-width="0.8"/>
<text x="157.40" y="199.06" font-size="6.0" text-anchor="end" font-weight="normal" font-style="normal" fill="#1a1a1a" stroke="#1a1a1a" stroke-width="0.22">1.5</text>
<line x1="160.90" y1="205.70" x2="163.10" y2="205.70" stroke="#000" stroke-width="0.8"/>
<text x="157.40" y="207.86" font-size="6.0" text-anchor="end" font-weight="normal" font-style="normal" fill="#1a1a1a" stroke="#1a1a1a" stroke-width="0.22">1.0</text>
<line x1="160.90" y1="214.40" x2="163.10" y2="214.40" stroke="#000" stroke-width="0.8"/>
<text x="157.40" y="216.56" font-size="6.0" text-anchor="end" font-weight="normal" font-style="normal" fill="#1a1a1a" stroke="#1a1a1a" stroke-width="0.22">0.5</text>
<line x1="160.90" y1="189.67" x2="163.10" y2="189.67" stroke="#000" stroke-width="0.8"/>
<line x1="160.90" y1="191.43" x2="163.10" y2="191.43" stroke="#000" stroke-width="0.8"/>
<line x1="160.90" y1="193.20" x2="163.10" y2="193.20" stroke="#000" stroke-width="0.8"/>
<line x1="160.90" y1="194.96" x2="163.10" y2="194.96" stroke="#000" stroke-width="0.8"/>
<line x1="160.90" y1="198.50" x2="163.10" y2="198.50" stroke="#000" stroke-width="0.8"/>
<line x1="160.90" y1="200.26" x2="163.10" y2="200.26" stroke="#000" stroke-width="0.8"/>
<line x1="160.90" y1="202.03" x2="163.10" y2="202.03" stroke="#000" stroke-width="0.8"/>
<line x1="160.90" y1="203.79" x2="163.10" y2="203.79" stroke="#000" stroke-width="0.8"/>
<line x1="160.90" y1="207.33" x2="163.10" y2="207.33" stroke="#000" stroke-width="0.8"/>
<line x1="160.90" y1="209.09" x2="163.10" y2="209.09" stroke="#000" stroke-width="0.8"/>
<line x1="160.90" y1="210.86" x2="163.10" y2="210.86" stroke="#000" stroke-width="0.8"/>
<line x1="160.90" y1="212.62" x2="163.10" y2="212.62" stroke="#000" stroke-width="0.8"/>
<line x1="160.90" y1="216.16" x2="163.10" y2="216.16" stroke="#000" stroke-width="0.8"/>
<line x1="160.90" y1="217.92" x2="163.10" y2="217.92" stroke="#000" stroke-width="0.8"/>
<line x1="160.90" y1="219.69" x2="163.10" y2="219.69" stroke="#000" stroke-width="0.8"/>
<line x1="160.90" y1="221.45" x2="163.10" y2="221.45" stroke="#000" stroke-width="0.8"/>
<line x1="194.90" y1="221.60" x2="194.90" y2="223.80" stroke="#000" stroke-width="0.8"/>
<text x="194.90" y="233.66" font-size="6.0" text-anchor="middle" font-weight="normal" font-style="normal" fill="#1a1a1a" stroke="#1a1a1a" stroke-width="0.22">100</text>
<line x1="227.30" y1="221.60" x2="227.30" y2="223.80" stroke="#000" stroke-width="0.8"/>
<text x="227.30" y="233.66" font-size="6.0" text-anchor="middle" font-weight="normal" font-style="normal" fill="#1a1a1a" stroke="#1a1a1a" stroke-width="0.22">200</text>
<line x1="259.70" y1="221.60" x2="259.70" y2="223.80" stroke="#000" stroke-width="0.8"/>
<text x="259.70" y="233.66" font-size="6.0" text-anchor="middle" font-weight="normal" font-style="normal" fill="#1a1a1a" stroke="#1a1a1a" stroke-width="0.22">300</text>
<line x1="170.60" y1="221.60" x2="170.60" y2="223.40" stroke="#000" stroke-width="0.8"/>
<line x1="178.70" y1="221.60" x2="178.70" y2="223.40" stroke="#000" stroke-width="0.8"/>
<line x1="186.80" y1="221.60" x2="186.80" y2="223.40" stroke="#000" stroke-width="0.8"/>
<line x1="203.00" y1="221.60" x2="203.00" y2="223.40" stroke="#000" stroke-width="0.8"/>
<line x1="211.10" y1="221.60" x2="211.10" y2="223.40" stroke="#000" stroke-width="0.8"/>
<line x1="219.20" y1="221.60" x2="219.20" y2="223.40" stroke="#000" stroke-width="0.8"/>
<line x1="235.40" y1="221.60" x2="235.40" y2="223.40" stroke="#000" stroke-width="0.8"/>
<line x1="243.50" y1="221.60" x2="243.50" y2="223.40" stroke="#000" stroke-width="0.8"/>
<line x1="251.60" y1="221.60" x2="251.60" y2="223.40" stroke="#000" stroke-width="0.8"/>
<line x1="173.80" y1="226.00" x2="173.80" y2="233.60" stroke="#000" stroke-width="1.0"/>
<path d="M173.80 224.00 L172.10 227.40 L175.50 227.40 Z" fill="#000"/>
<rect x="285.70" y="180.90" width="68.90" height="4.00" fill="#aaaaaa"/>
<rect x="354.60" y="180.90" width="30.40" height="4.00" fill="#000"/>
<rect x="285.30" y="187.20" width="99.50" height="34.40" fill="none" stroke="#000" stroke-width="1"/>
<line x1="285.30" y1="186.70" x2="285.30" y2="222.20" stroke="#000" stroke-width="1.3"/>
<line x1="284.70" y1="221.60" x2="385.30" y2="221.60" stroke="#000" stroke-width="1.3"/>
<line x1="283.10" y1="188.00" x2="285.30" y2="188.00" stroke="#000" stroke-width="0.8"/>
<text x="279.20" y="190.16" font-size="6.0" text-anchor="end" font-weight="normal" font-style="normal" fill="#1a1a1a" stroke="#1a1a1a" stroke-width="0.22">1.0</text>
<line x1="283.10" y1="196.40" x2="285.30" y2="196.40" stroke="#000" stroke-width="0.8"/>
<text x="279.20" y="198.56" font-size="6.0" text-anchor="end" font-weight="normal" font-style="normal" fill="#1a1a1a" stroke="#1a1a1a" stroke-width="0.22">0.8</text>
<line x1="283.10" y1="204.80" x2="285.30" y2="204.80" stroke="#000" stroke-width="0.8"/>
<text x="279.20" y="206.96" font-size="6.0" text-anchor="end" font-weight="normal" font-style="normal" fill="#1a1a1a" stroke="#1a1a1a" stroke-width="0.22">0.6</text>
<line x1="283.10" y1="213.20" x2="285.30" y2="213.20" stroke="#000" stroke-width="0.8"/>
<text x="279.20" y="215.36" font-size="6.0" text-anchor="end" font-weight="normal" font-style="normal" fill="#1a1a1a" stroke="#1a1a1a" stroke-width="0.22">0.4</text>
<line x1="283.10" y1="221.60" x2="285.30" y2="221.60" stroke="#000" stroke-width="0.8"/>
<text x="279.20" y="223.76" font-size="6.0" text-anchor="end" font-weight="normal" font-style="normal" fill="#1a1a1a" stroke="#1a1a1a" stroke-width="0.22">0.2</text>
<line x1="283.10" y1="192.20" x2="285.30" y2="192.20" stroke="#000" stroke-width="0.8"/>
<line x1="283.10" y1="200.60" x2="285.30" y2="200.60" stroke="#000" stroke-width="0.8"/>
<line x1="283.10" y1="209.00" x2="285.30" y2="209.00" stroke="#000" stroke-width="0.8"/>
<line x1="283.10" y1="217.40" x2="285.30" y2="217.40" stroke="#000" stroke-width="0.8"/>
<line x1="318.15" y1="221.60" x2="318.15" y2="223.80" stroke="#000" stroke-width="0.8"/>
<text x="318.15" y="233.66" font-size="6.0" text-anchor="middle" font-weight="normal" font-style="normal" fill="#1a1a1a" stroke="#1a1a1a" stroke-width="0.22">100</text>
<line x1="350.40" y1="221.60" x2="350.40" y2="223.80" stroke="#000" stroke-width="0.8"/>
<text x="350.40" y="233.66" font-size="6.0" text-anchor="middle" font-weight="normal" font-style="normal" fill="#1a1a1a" stroke="#1a1a1a" stroke-width="0.22">200</text>
<line x1="382.65" y1="221.60" x2="382.65" y2="223.80" stroke="#000" stroke-width="0.8"/>
<text x="382.65" y="233.66" font-size="6.0" text-anchor="middle" font-weight="normal" font-style="normal" fill="#1a1a1a" stroke="#1a1a1a" stroke-width="0.22">300</text>
<line x1="289.12" y1="221.60" x2="289.12" y2="223.40" stroke="#000" stroke-width="0.8"/>
<line x1="292.35" y1="221.60" x2="292.35" y2="223.40" stroke="#000" stroke-width="0.8"/>
<line x1="295.57" y1="221.60" x2="295.57" y2="223.40" stroke="#000" stroke-width="0.8"/>
<line x1="298.80" y1="221.60" x2="298.80" y2="223.40" stroke="#000" stroke-width="0.8"/>
<line x1="302.02" y1="221.60" x2="302.02" y2="223.40" stroke="#000" stroke-width="0.8"/>
<line x1="305.25" y1="221.60" x2="305.25" y2="223.40" stroke="#000" stroke-width="0.8"/>
<line x1="308.47" y1="221.60" x2="308.47" y2="223.40" stroke="#000" stroke-width="0.8"/>
<line x1="311.70" y1="221.60" x2="311.70" y2="223.40" stroke="#000" stroke-width="0.8"/>
<line x1="314.92" y1="221.60" x2="314.92" y2="223.40" stroke="#000" stroke-width="0.8"/>
<line x1="321.38" y1="221.60" x2="321.38" y2="223.40" stroke="#000" stroke-width="0.8"/>
<line x1="324.60" y1="221.60" x2="324.60" y2="223.40" stroke="#000" stroke-width="0.8"/>
<line x1="327.82" y1="221.60" x2="327.82" y2="223.40" stroke="#000" stroke-width="0.8"/>
<line x1="331.05" y1="221.60" x2="331.05" y2="223.40" stroke="#000" stroke-width="0.8"/>
<line x1="334.27" y1="221.60" x2="334.27" y2="223.40" stroke="#000" stroke-width="0.8"/>
<line x1="337.50" y1="221.60" x2="337.50" y2="223.40" stroke="#000" stroke-width="0.8"/>
<line x1="340.72" y1="221.60" x2="340.72" y2="223.40" stroke="#000" stroke-width="0.8"/>
<line x1="343.95" y1="221.60" x2="343.95" y2="223.40" stroke="#000" stroke-width="0.8"/>
<line x1="347.17" y1="221.60" x2="347.17" y2="223.40" stroke="#000" stroke-width="0.8"/>
<line x1="353.62" y1="221.60" x2="353.62" y2="223.40" stroke="#000" stroke-width="0.8"/>
<line x1="356.85" y1="221.60" x2="356.85" y2="223.40" stroke="#000" stroke-width="0.8"/>
<line x1="360.07" y1="221.60" x2="360.07" y2="223.40" stroke="#000" stroke-width="0.8"/>
<line x1="363.30" y1="221.60" x2="363.30" y2="223.40" stroke="#000" stroke-width="0.8"/>
<line x1="366.52" y1="221.60" x2="366.52" y2="223.40" stroke="#000" stroke-width="0.8"/>
<line x1="369.75" y1="221.60" x2="369.75" y2="223.40" stroke="#000" stroke-width="0.8"/>
<line x1="372.97" y1="221.60" x2="372.97" y2="223.40" stroke="#000" stroke-width="0.8"/>
<line x1="376.20" y1="221.60" x2="376.20" y2="223.40" stroke="#000" stroke-width="0.8"/>
<line x1="379.42" y1="221.60" x2="379.42" y2="223.40" stroke="#000" stroke-width="0.8"/>
<line x1="296.80" y1="225.80" x2="296.80" y2="233.60" stroke="#000" stroke-width="1.0"/>
<path d="M296.80 223.80 L295.10 227.20 L298.50 227.20 Z" fill="#000"/>
<text x="47.10" y="194.47" font-size="6.3" text-anchor="start" font-weight="normal" font-style="normal" fill="#1a1a1a" stroke="#1a1a1a" stroke-width="0.22">1μM</text>
<text x="165.70" y="194.57" font-size="6.3" text-anchor="start" font-weight="normal" font-style="normal" fill="#1a1a1a" stroke="#1a1a1a" stroke-width="0.22">75nM</text>
<text x="288.90" y="194.77" font-size="6.3" text-anchor="start" font-weight="normal" font-style="normal" fill="#1a1a1a" stroke="#1a1a1a" stroke-width="0.22">200nM</text>
<text x="22.90" y="207.02" font-size="7.0" text-anchor="middle" font-weight="normal" font-style="normal" fill="#1a1a1a" stroke="#1a1a1a" stroke-width="0.22" textLength="31.80" lengthAdjust="spacingAndGlyphs" transform="rotate(-90 22.90 204.50)">Violet/blue</text>
<line x1="44.50" y1="242.80" x2="92.20" y2="242.80" stroke="#000" stroke-width="1.2"/>
<path d="M95.20 242.80 L91.00 241.20 L91.00 244.40 Z" fill="#000"/>
<text x="99.00" y="245.42" font-size="7.0" text-anchor="start" font-weight="normal" font-style="normal" fill="#1a1a1a" stroke="#1a1a1a" stroke-width="0.22" textLength="45.60" lengthAdjust="spacingAndGlyphs">Time (seconds)</text>
<text x="406.60" y="190.02" font-size="5.6" font-style="italic" font-weight="bold" fill="#8a3a55" textLength="7.90" lengthAdjust="spacingAndGlyphs">WT</text>
<text x="406.60" y="197.44" font-size="5.4" font-style="italic" font-weight="bold" fill="#70748e" textLength="16.90" lengthAdjust="spacingAndGlyphs">Stim1/2</text>
<text x="423.80" y="195.44" font-size="3.4" font-style="italic" fill="#70748e" stroke="#70748e" stroke-width="0.15" textLength="12.00" lengthAdjust="spacingAndGlyphs">fl/fl-Cre</text>
<text x="406.00" y="218.50" font-size="5.6" font-weight="bold" fill="#1a1a1a">Ca<tspan font-size="3.4" dy="-2.2">2+</tspan></text>
<rect x="421.00" y="208.40" width="7.70" height="4.80" fill="#b4b4b4"/>
<rect x="421.00" y="218.00" width="7.70" height="5.00" fill="#000"/>
<text x="431.10" y="212.82" font-size="5.6" text-anchor="start" font-weight="bold" font-style="normal" fill="#1a1a1a">0 mM</text>
<text x="431.10" y="222.42" font-size="5.6" text-anchor="start" font-weight="bold" font-style="normal" fill="#1a1a1a">1 mM</text>
<path d="M44.60 217.60 C44.92 217.25 45.90 216.02 46.50 215.50 C47.10 214.98 47.12 214.65 48.20 214.50 C49.28 214.35 51.30 214.48 53.00 214.60 C54.70 214.72 57.07 215.83 58.40 215.20 C59.73 214.57 60.20 212.40 61.00 210.80 C61.80 209.20 62.45 207.13 63.20 205.60 C63.95 204.07 64.70 202.57 65.50 201.60 C66.30 200.63 67.17 200.08 68.00 199.80 C68.83 199.52 69.63 199.72 70.50 199.90 C71.37 200.08 72.00 200.40 73.20 200.90 C74.40 201.40 75.73 202.05 77.70 202.90 C79.67 203.75 82.62 205.00 85.00 206.00 C87.38 207.00 89.22 207.90 92.00 208.90 C94.78 209.90 99.03 211.20 101.70 212.00 C104.37 212.80 105.92 213.17 108.00 213.70 C110.08 214.23 112.70 215.65 114.20 215.20 C115.70 214.75 116.03 212.98 117.00 211.00 C117.97 209.02 119.08 205.93 120.00 203.30 C120.92 200.67 121.70 197.45 122.50 195.20 C123.30 192.95 123.88 190.92 124.80 189.80 C125.72 188.68 126.30 188.75 128.00 188.50 C129.70 188.25 132.70 188.28 135.00 188.30 C137.30 188.32 140.67 188.55 141.80 188.60" fill="none" stroke="#90304a" stroke-width="1.0" stroke-linejoin="round" opacity="1.0"/>
<path d="M44.60 217.70 C45.17 217.57 45.70 217.05 48.00 216.90 C50.30 216.75 56.23 217.82 58.40 216.80 C60.57 215.78 60.20 212.67 61.00 210.80 C61.80 208.93 62.45 207.13 63.20 205.60 C63.95 204.07 64.70 202.57 65.50 201.60 C66.30 200.63 67.17 200.08 68.00 199.80 C68.83 199.52 69.63 199.72 70.50 199.90 C71.37 200.08 72.00 200.40 73.20 200.90 C74.40 201.40 75.73 202.05 77.70 202.90 C79.67 203.75 82.62 205.00 85.00 206.00 C87.38 207.00 89.22 207.90 92.00 208.90 C94.78 209.90 99.03 211.20 101.70 212.00 C104.37 212.80 105.92 213.17 108.00 213.70 C110.08 214.23 112.20 214.78 114.20 215.20 C116.20 215.62 117.37 216.00 120.00 216.20 C122.63 216.40 126.37 216.33 130.00 216.40 C133.63 216.47 139.83 216.57 141.80 216.60" fill="none" stroke="#3a3538" stroke-width="0.9" stroke-linejoin="round" opacity="1.0"/>
<path d="M163.50 219.00 C165.25 219.00 171.58 219.27 174.00 219.00 C176.42 218.73 176.67 217.80 178.00 217.40 C179.33 217.00 180.00 216.73 182.00 216.60 C184.00 216.47 186.75 216.67 190.00 216.60 C193.25 216.53 199.00 216.80 201.50 216.20 C204.00 215.60 203.58 214.78 205.00 213.00 C206.42 211.22 208.33 208.00 210.00 205.50 C211.67 203.00 213.33 200.15 215.00 198.00 C216.67 195.85 218.33 193.93 220.00 192.60 C221.67 191.27 223.33 190.53 225.00 190.00 C226.67 189.47 226.67 189.48 230.00 189.40 C233.33 189.32 240.00 189.40 245.00 189.50 C250.00 189.60 257.50 189.92 260.00 190.00" fill="none" stroke="#90304a" stroke-width="1.0" stroke-linejoin="round" opacity="1.0"/>
<path d="M163.50 219.20 C165.25 219.20 171.58 219.47 174.00 219.20 C176.42 218.93 176.67 218.00 178.00 217.60 C179.33 217.20 180.00 216.95 182.00 216.80 C184.00 216.65 186.67 216.78 190.00 216.70 C193.33 216.62 197.83 216.50 202.00 216.30 C206.17 216.10 210.00 215.78 215.00 215.50 C220.00 215.22 227.00 214.77 232.00 214.60 C237.00 214.43 240.33 214.52 245.00 214.50 C249.67 214.48 257.50 214.50 260.00 214.50" fill="none" stroke="#3a3538" stroke-width="0.9" stroke-linejoin="round" opacity="1.0"/>
<path d="M163.50 219.20 C165.25 219.20 171.58 219.47 174.00 219.20 C176.42 218.93 176.67 218.00 178.00 217.60 C179.33 217.20 180.00 216.95 182.00 216.80 C184.00 216.65 186.67 216.78 190.00 216.70 C193.33 216.62 197.83 216.50 202.00 216.30 C206.17 216.10 210.00 215.78 215.00 215.50 C220.00 215.22 227.00 214.77 232.00 214.60 C237.00 214.43 240.33 214.52 245.00 214.50 C249.67 214.48 257.50 214.50 260.00 214.50" fill="none" stroke="#3a3a3a" stroke-width="0.6" stroke-dasharray="1.2 1.4" opacity="0.8"/>
<path d="M286.00 219.50 C288.20 219.48 296.03 219.98 299.20 219.40 C302.37 218.82 302.87 217.13 305.00 216.00 C307.13 214.87 309.72 213.35 312.00 212.60 C314.28 211.85 315.70 211.55 318.70 211.50 C321.70 211.45 326.12 211.92 330.00 212.30 C333.88 212.68 337.93 213.35 342.00 213.80 C346.07 214.25 351.73 215.97 354.40 215.00 C357.07 214.03 356.90 210.50 358.00 208.00 C359.10 205.50 359.90 202.13 361.00 200.00 C362.10 197.87 363.43 196.45 364.60 195.20 C365.77 193.95 366.77 193.28 368.00 192.50 C369.23 191.72 370.70 191.05 372.00 190.50 C373.30 189.95 374.47 189.20 375.80 189.20 C377.13 189.20 378.57 190.20 380.00 190.50 C381.43 190.80 383.67 190.92 384.40 191.00" fill="none" stroke="#90304a" stroke-width="1.0" stroke-linejoin="round" opacity="1.0"/>
<path d="M286.00 219.80 C288.20 219.78 296.03 220.17 299.20 219.70 C302.37 219.23 302.87 218.02 305.00 217.00 C307.13 215.98 309.72 214.33 312.00 213.60 C314.28 212.87 315.70 212.70 318.70 212.60 C321.70 212.50 326.12 212.73 330.00 213.00 C333.88 213.27 337.93 213.83 342.00 214.20 C346.07 214.57 349.73 214.93 354.40 215.20 C359.07 215.47 365.00 215.63 370.00 215.80 C375.00 215.97 382.00 216.13 384.40 216.20" fill="none" stroke="#3a3538" stroke-width="0.9" stroke-linejoin="round" opacity="1.0"/>
<text x="11.60" y="272.84" font-size="11.5" text-anchor="middle" font-weight="bold" font-style="normal" fill="#000">C</text>
<text x="54.20" y="273.09" font-size="7.2" font-weight="bold" fill="#000" textLength="41.60" lengthAdjust="spacingAndGlyphs">fMLF ER Ca</text>
<text x="96.20" y="270.49" font-size="3.96" font-weight="bold" fill="#000">2+</text>
<rect x="47.45" y="304.52" width="5.60" height="45.08" fill="#ae0a2f" stroke="#000" stroke-width="0.5" stroke-opacity="0.35"/>
<rect x="55.15" y="305.88" width="5.10" height="43.72" fill="#2f4c88" stroke="#000" stroke-width="0.5" stroke-opacity="0.35"/>
<line x1="57.70" y1="305.63" x2="57.70" y2="303.81" stroke="#1a1a1a" stroke-width="1.0"/>
<line x1="56.00" y1="303.81" x2="59.40" y2="303.81" stroke="#1a1a1a" stroke-width="1.1"/>
<rect x="62.15" y="304.52" width="5.40" height="45.08" fill="#72aa3c" stroke="#000" stroke-width="0.5" stroke-opacity="0.35"/>
<line x1="64.85" y1="304.27" x2="64.85" y2="300.64" stroke="#1a1a1a" stroke-width="1.0"/>
<line x1="63.15" y1="300.64" x2="66.55" y2="300.64" stroke="#1a1a1a" stroke-width="1.1"/>
<rect x="69.55" y="302.48" width="5.50" height="47.12" fill="#552562" stroke="#000" stroke-width="0.5" stroke-opacity="0.35"/>
<line x1="72.30" y1="302.23" x2="72.30" y2="296.11" stroke="#1a1a1a" stroke-width="1.0"/>
<line x1="70.60" y1="296.11" x2="74.00" y2="296.11" stroke="#1a1a1a" stroke-width="1.1"/>
<rect x="79.95" y="304.52" width="5.70" height="45.08" fill="#ae0a2f" stroke="#000" stroke-width="0.5" stroke-opacity="0.35"/>
<rect x="87.55" y="303.61" width="5.30" height="45.99" fill="#2f4c88" stroke="#000" stroke-width="0.5" stroke-opacity="0.35"/>
<line x1="90.20" y1="303.36" x2="90.20" y2="301.55" stroke="#1a1a1a" stroke-width="1.0"/>
<line x1="88.50" y1="301.55" x2="91.90" y2="301.55" stroke="#1a1a1a" stroke-width="1.1"/>
<rect x="94.75" y="304.52" width="5.60" height="45.08" fill="#72aa3c" stroke="#000" stroke-width="0.5" stroke-opacity="0.35"/>
<line x1="97.55" y1="304.27" x2="97.55" y2="300.64" stroke="#1a1a1a" stroke-width="1.0"/>
<line x1="95.85" y1="300.64" x2="99.25" y2="300.64" stroke="#1a1a1a" stroke-width="1.1"/>
<rect x="102.25" y="303.16" width="5.30" height="46.44" fill="#552562" stroke="#000" stroke-width="0.5" stroke-opacity="0.35"/>
<line x1="44.30" y1="280.10" x2="44.30" y2="350.20" stroke="#000" stroke-width="1.3"/>
<line x1="43.70" y1="349.60" x2="110.80" y2="349.60" stroke="#000" stroke-width="1.3"/>
<line x1="41.70" y1="349.60" x2="44.30" y2="349.60" stroke="#000" stroke-width="0.9"/>
<text x="37.80" y="351.51" font-size="5.3" text-anchor="end" font-weight="normal" font-style="normal" fill="#2a2a2a" stroke="#2a2a2a" stroke-width="0.22" textLength="6.70" lengthAdjust="spacingAndGlyphs">0.0</text>
<line x1="41.70" y1="326.93" x2="44.30" y2="326.93" stroke="#000" stroke-width="0.9"/>
<text x="37.80" y="328.84" font-size="5.3" text-anchor="end" font-weight="normal" font-style="normal" fill="#2a2a2a" stroke="#2a2a2a" stroke-width="0.22" textLength="6.70" lengthAdjust="spacingAndGlyphs">0.5</text>
<line x1="41.70" y1="304.27" x2="44.30" y2="304.27" stroke="#000" stroke-width="0.9"/>
<text x="37.80" y="306.17" font-size="5.3" text-anchor="end" font-weight="normal" font-style="normal" fill="#2a2a2a" stroke="#2a2a2a" stroke-width="0.22" textLength="6.70" lengthAdjust="spacingAndGlyphs">1.0</text>
<line x1="41.70" y1="281.60" x2="44.30" y2="281.60" stroke="#000" stroke-width="0.9"/>
<text x="37.80" y="283.51" font-size="5.3" text-anchor="end" font-weight="normal" font-style="normal" fill="#2a2a2a" stroke="#2a2a2a" stroke-width="0.22" textLength="6.70" lengthAdjust="spacingAndGlyphs">1.5</text>
<line x1="61.30" y1="349.60" x2="61.30" y2="352.00" stroke="#000" stroke-width="0.9"/>
<line x1="93.70" y1="349.60" x2="93.70" y2="352.00" stroke="#000" stroke-width="0.9"/>
<text x="23.00" y="316.97" font-size="7.7" text-anchor="middle" font-weight="normal" font-style="normal" fill="#1e1e1e" stroke="#1e1e1e" stroke-width="0.16" textLength="67.60" lengthAdjust="spacingAndGlyphs" transform="rotate(-90 23.00 314.20)">A.U.C. (fraction of WT)</text>
<text x="0" y="0" font-size="5.4" text-anchor="end" fill="#1a1a1a" stroke="#1a1a1a" stroke-width="0.2" transform="translate(63.80 358.60) rotate(-45)">300nM</text>
<text x="0" y="0" font-size="5.4" text-anchor="end" fill="#1a1a1a" stroke="#1a1a1a" stroke-width="0.2" transform="translate(96.20 359.00) rotate(-45)">1μM</text>
<text x="158.50" y="273.09" font-size="7.2" font-weight="bold" fill="#000" textLength="59.20" lengthAdjust="spacingAndGlyphs">Ionomycin ER Ca</text>
<text x="218.10" y="270.49" font-size="3.96" font-weight="bold" fill="#000">2+</text>
<rect x="160.55" y="304.58" width="5.60" height="45.22" fill="#ae0a2f" stroke="#000" stroke-width="0.5" stroke-opacity="0.35"/>
<rect x="168.35" y="301.40" width="5.30" height="48.40" fill="#2f4c88" stroke="#000" stroke-width="0.5" stroke-opacity="0.35"/>
<line x1="171.00" y1="301.15" x2="171.00" y2="299.79" stroke="#1a1a1a" stroke-width="1.0"/>
<line x1="169.30" y1="299.79" x2="172.70" y2="299.79" stroke="#1a1a1a" stroke-width="1.1"/>
<rect x="176.45" y="311.40" width="5.20" height="38.40" fill="#72aa3c" stroke="#000" stroke-width="0.5" stroke-opacity="0.35"/>
<line x1="179.05" y1="311.15" x2="179.05" y2="307.52" stroke="#1a1a1a" stroke-width="1.0"/>
<line x1="177.35" y1="307.52" x2="180.75" y2="307.52" stroke="#1a1a1a" stroke-width="1.1"/>
<rect x="183.55" y="309.13" width="5.20" height="40.67" fill="#552562" stroke="#000" stroke-width="0.5" stroke-opacity="0.35"/>
<line x1="186.15" y1="308.88" x2="186.15" y2="307.52" stroke="#1a1a1a" stroke-width="1.0"/>
<line x1="184.45" y1="307.52" x2="187.85" y2="307.52" stroke="#1a1a1a" stroke-width="1.1"/>
<rect x="193.75" y="304.58" width="5.60" height="45.22" fill="#ae0a2f" stroke="#000" stroke-width="0.5" stroke-opacity="0.35"/>
<rect x="201.45" y="301.86" width="5.60" height="47.94" fill="#2f4c88" stroke="#000" stroke-width="0.5" stroke-opacity="0.35"/>
<line x1="204.25" y1="301.61" x2="204.25" y2="298.88" stroke="#1a1a1a" stroke-width="1.0"/>
<line x1="202.55" y1="298.88" x2="205.95" y2="298.88" stroke="#1a1a1a" stroke-width="1.1"/>
<rect x="209.45" y="307.77" width="5.30" height="42.03" fill="#72aa3c" stroke="#000" stroke-width="0.5" stroke-opacity="0.35"/>
<line x1="212.10" y1="307.52" x2="212.10" y2="302.97" stroke="#1a1a1a" stroke-width="1.0"/>
<line x1="210.40" y1="302.97" x2="213.80" y2="302.97" stroke="#1a1a1a" stroke-width="1.1"/>
<rect x="217.15" y="308.68" width="5.50" height="41.12" fill="#552562" stroke="#000" stroke-width="0.5" stroke-opacity="0.35"/>
<line x1="219.90" y1="308.43" x2="219.90" y2="307.52" stroke="#1a1a1a" stroke-width="1.0"/>
<line x1="218.20" y1="307.52" x2="221.60" y2="307.52" stroke="#1a1a1a" stroke-width="1.1"/>
<line x1="157.40" y1="280.10" x2="157.40" y2="350.40" stroke="#000" stroke-width="1.3"/>
<line x1="156.80" y1="349.80" x2="225.20" y2="349.80" stroke="#000" stroke-width="1.3"/>
<line x1="154.80" y1="349.80" x2="157.40" y2="349.80" stroke="#000" stroke-width="0.9"/>
<text x="150.60" y="351.71" font-size="5.3" text-anchor="end" font-weight="normal" font-style="normal" fill="#2a2a2a" stroke="#2a2a2a" stroke-width="0.22" textLength="6.70" lengthAdjust="spacingAndGlyphs">0.0</text>
<line x1="154.80" y1="327.07" x2="157.40" y2="327.07" stroke="#000" stroke-width="0.9"/>
<text x="150.60" y="328.97" font-size="5.3" text-anchor="end" font-weight="normal" font-style="normal" fill="#2a2a2a" stroke="#2a2a2a" stroke-width="0.22" textLength="6.70" lengthAdjust="spacingAndGlyphs">0.5</text>
<line x1="154.80" y1="304.33" x2="157.40" y2="304.33" stroke="#000" stroke-width="0.9"/>
<text x="150.60" y="306.24" font-size="5.3" text-anchor="end" font-weight="normal" font-style="normal" fill="#2a2a2a" stroke="#2a2a2a" stroke-width="0.22" textLength="6.70" lengthAdjust="spacingAndGlyphs">1.0</text>
<line x1="154.80" y1="281.60" x2="157.40" y2="281.60" stroke="#000" stroke-width="0.9"/>
<text x="150.60" y="283.51" font-size="5.3" text-anchor="end" font-weight="normal" font-style="normal" fill="#2a2a2a" stroke="#2a2a2a" stroke-width="0.22" textLength="6.70" lengthAdjust="spacingAndGlyphs">1.5</text>
<line x1="174.60" y1="349.80" x2="174.60" y2="352.20" stroke="#000" stroke-width="0.9"/>
<line x1="207.90" y1="349.80" x2="207.90" y2="352.20" stroke="#000" stroke-width="0.9"/>
<text x="136.50" y="316.87" font-size="7.7" text-anchor="middle" font-weight="normal" font-style="normal" fill="#1e1e1e" stroke="#1e1e1e" stroke-width="0.16" textLength="67.20" lengthAdjust="spacingAndGlyphs" transform="rotate(-90 136.50 314.10)">A.U.C (fraction of WT)</text>
<text x="0" y="0" font-size="5.4" text-anchor="end" fill="#1a1a1a" stroke="#1a1a1a" stroke-width="0.2" transform="translate(176.40 358.40) rotate(-45)">15nM</text>
<text x="0" y="0" font-size="5.4" text-anchor="end" fill="#1a1a1a" stroke="#1a1a1a" stroke-width="0.2" transform="translate(209.00 358.40) rotate(-45)">75nM</text>
<text x="267.30" y="272.99" font-size="7.2" font-weight="bold" fill="#000" textLength="72.00" lengthAdjust="spacingAndGlyphs">Thapsigargin ER Ca</text>
<text x="339.70" y="270.39" font-size="3.96" font-weight="bold" fill="#000">2+</text>
<rect x="272.65" y="304.58" width="6.10" height="45.22" fill="#ae0a2f" stroke="#000" stroke-width="0.5" stroke-opacity="0.35"/>
<rect x="281.05" y="305.95" width="5.20" height="43.85" fill="#2f4c88" stroke="#000" stroke-width="0.5" stroke-opacity="0.35"/>
<line x1="283.65" y1="305.70" x2="283.65" y2="305.24" stroke="#1a1a1a" stroke-width="1.0"/>
<line x1="281.95" y1="305.24" x2="285.35" y2="305.24" stroke="#1a1a1a" stroke-width="1.1"/>
<rect x="288.75" y="309.13" width="5.20" height="40.67" fill="#72aa3c" stroke="#000" stroke-width="0.5" stroke-opacity="0.35"/>
<line x1="291.35" y1="308.88" x2="291.35" y2="305.24" stroke="#1a1a1a" stroke-width="1.0"/>
<line x1="289.65" y1="305.24" x2="293.05" y2="305.24" stroke="#1a1a1a" stroke-width="1.1"/>
<rect x="296.85" y="303.67" width="5.10" height="46.13" fill="#552562" stroke="#000" stroke-width="0.5" stroke-opacity="0.35"/>
<line x1="299.40" y1="303.42" x2="299.40" y2="301.15" stroke="#1a1a1a" stroke-width="1.0"/>
<line x1="297.70" y1="301.15" x2="301.10" y2="301.15" stroke="#1a1a1a" stroke-width="1.1"/>
<rect x="307.25" y="304.58" width="5.50" height="45.22" fill="#ae0a2f" stroke="#000" stroke-width="0.5" stroke-opacity="0.35"/>
<rect x="315.55" y="306.40" width="5.20" height="43.40" fill="#2f4c88" stroke="#000" stroke-width="0.5" stroke-opacity="0.35"/>
<line x1="318.15" y1="306.15" x2="318.15" y2="302.97" stroke="#1a1a1a" stroke-width="1.0"/>
<line x1="316.45" y1="302.97" x2="319.85" y2="302.97" stroke="#1a1a1a" stroke-width="1.1"/>
<rect x="323.25" y="310.04" width="5.30" height="39.76" fill="#72aa3c" stroke="#000" stroke-width="0.5" stroke-opacity="0.35"/>
<line x1="325.90" y1="309.79" x2="325.90" y2="307.06" stroke="#1a1a1a" stroke-width="1.0"/>
<line x1="324.20" y1="307.06" x2="327.60" y2="307.06" stroke="#1a1a1a" stroke-width="1.1"/>
<rect x="331.65" y="303.67" width="5.30" height="46.13" fill="#552562" stroke="#000" stroke-width="0.5" stroke-opacity="0.35"/>
<line x1="334.30" y1="303.42" x2="334.30" y2="302.06" stroke="#1a1a1a" stroke-width="1.0"/>
<line x1="332.60" y1="302.06" x2="336.00" y2="302.06" stroke="#1a1a1a" stroke-width="1.1"/>
<line x1="269.20" y1="280.10" x2="269.20" y2="350.40" stroke="#000" stroke-width="1.3"/>
<line x1="268.60" y1="349.80" x2="340.70" y2="349.80" stroke="#000" stroke-width="1.3"/>
<line x1="266.60" y1="349.80" x2="269.20" y2="349.80" stroke="#000" stroke-width="0.9"/>
<text x="262.80" y="351.71" font-size="5.3" text-anchor="end" font-weight="normal" font-style="normal" fill="#2a2a2a" stroke="#2a2a2a" stroke-width="0.22" textLength="6.70" lengthAdjust="spacingAndGlyphs">0.0</text>
<line x1="266.60" y1="327.07" x2="269.20" y2="327.07" stroke="#000" stroke-width="0.9"/>
<text x="262.80" y="328.97" font-size="5.3" text-anchor="end" font-weight="normal" font-style="normal" fill="#2a2a2a" stroke="#2a2a2a" stroke-width="0.22" textLength="6.70" lengthAdjust="spacingAndGlyphs">0.5</text>
<line x1="266.60" y1="304.33" x2="269.20" y2="304.33" stroke="#000" stroke-width="0.9"/>
<text x="262.80" y="306.24" font-size="5.3" text-anchor="end" font-weight="normal" font-style="normal" fill="#2a2a2a" stroke="#2a2a2a" stroke-width="0.22" textLength="6.70" lengthAdjust="spacingAndGlyphs">1.0</text>
<line x1="266.60" y1="281.60" x2="269.20" y2="281.60" stroke="#000" stroke-width="0.9"/>
<text x="262.80" y="283.51" font-size="5.3" text-anchor="end" font-weight="normal" font-style="normal" fill="#2a2a2a" stroke="#2a2a2a" stroke-width="0.22" textLength="6.70" lengthAdjust="spacingAndGlyphs">1.5</text>
<line x1="287.50" y1="349.80" x2="287.50" y2="352.20" stroke="#000" stroke-width="0.9"/>
<line x1="320.50" y1="349.80" x2="320.50" y2="352.20" stroke="#000" stroke-width="0.9"/>
<text x="248.00" y="316.57" font-size="7.7" text-anchor="middle" font-weight="normal" font-style="normal" fill="#1e1e1e" stroke="#1e1e1e" stroke-width="0.16" textLength="67.80" lengthAdjust="spacingAndGlyphs" transform="rotate(-90 248.00 313.80)">A.U.C (fraction of  WT)</text>
<text x="0" y="0" font-size="5.4" text-anchor="end" fill="#1a1a1a" stroke="#1a1a1a" stroke-width="0.2" transform="translate(288.60 358.40) rotate(-45)">50nM</text>
<text x="0" y="0" font-size="5.4" text-anchor="end" fill="#1a1a1a" stroke="#1a1a1a" stroke-width="0.2" transform="translate(321.40 358.60) rotate(-45)">200nM</text>
<rect x="365.00" y="307.00" width="11.60" height="6.50" fill="#ae0a2f"/>
<text x="380.50" y="312.27" font-size="5.6" font-style="italic" font-weight="bold" fill="#222" textLength="8.00" lengthAdjust="spacingAndGlyphs">WT</text>
<rect x="365.00" y="318.20" width="11.60" height="6.50" fill="#2f4c88"/>
<text x="380.30" y="323.39" font-size="5.4" font-style="italic" font-weight="bold" fill="#262626" textLength="13.20" lengthAdjust="spacingAndGlyphs">Stim1</text>
<text x="393.80" y="321.39" font-size="3.4" font-style="italic" fill="#262626" stroke="#262626" stroke-width="0.15" textLength="10.50" lengthAdjust="spacingAndGlyphs">fl/fl-Cre</text>
<rect x="365.00" y="329.20" width="11.60" height="6.50" fill="#72aa3c"/>
<text x="380.30" y="334.39" font-size="5.4" font-style="italic" font-weight="bold" fill="#262626" textLength="13.20" lengthAdjust="spacingAndGlyphs">Stim2</text>
<text x="393.80" y="332.39" font-size="3.4" font-style="italic" fill="#262626" stroke="#262626" stroke-width="0.15" textLength="10.50" lengthAdjust="spacingAndGlyphs">fl/fl-Cre</text>
<rect x="365.00" y="340.50" width="11.60" height="6.50" fill="#552562"/>
<text x="380.30" y="345.69" font-size="5.4" font-style="italic" font-weight="bold" fill="#262626" textLength="19.20" lengthAdjust="spacingAndGlyphs">Stim1/2</text>
<text x="399.80" y="343.69" font-size="3.4" font-style="italic" fill="#262626" stroke="#262626" stroke-width="0.15" textLength="9.50" lengthAdjust="spacingAndGlyphs">fl/fl-Cre</text>
<text x="14.40" y="396.54" font-size="11.5" text-anchor="middle" font-weight="bold" font-style="normal" fill="#000">D</text>
<text x="78.80" y="395.20" font-size="7.5" text-anchor="middle" font-weight="bold" font-style="normal" fill="#000">fMLF</text>
<text x="190.30" y="395.30" font-size="7.5" text-anchor="middle" font-weight="bold" font-style="normal" fill="#000">Ionomycin</text>
<text x="307.00" y="395.20" font-size="7.5" text-anchor="middle" font-weight="bold" font-style="normal" fill="#000">Thapsigargin</text>
<rect x="47.25" y="417.05" width="5.80" height="54.15" fill="#ae0a2f" stroke="#000" stroke-width="0.5" stroke-opacity="0.35"/>
<rect x="55.25" y="441.19" width="5.50" height="30.01" fill="#2f4c88" stroke="#000" stroke-width="0.5" stroke-opacity="0.35"/>
<line x1="58.00" y1="440.94" x2="58.00" y2="437.20" stroke="#1a1a1a" stroke-width="1.0"/>
<line x1="56.30" y1="437.20" x2="59.70" y2="437.20" stroke="#1a1a1a" stroke-width="1.1"/>
<rect x="63.25" y="431.67" width="5.50" height="39.53" fill="#72aa3c" stroke="#000" stroke-width="0.5" stroke-opacity="0.35"/>
<line x1="66.00" y1="431.42" x2="66.00" y2="426.66" stroke="#1a1a1a" stroke-width="1.0"/>
<line x1="64.30" y1="426.66" x2="67.70" y2="426.66" stroke="#1a1a1a" stroke-width="1.1"/>
<rect x="70.95" y="448.33" width="5.60" height="22.87" fill="#552562" stroke="#000" stroke-width="0.5" stroke-opacity="0.35"/>
<line x1="73.75" y1="448.08" x2="73.75" y2="445.02" stroke="#1a1a1a" stroke-width="1.0"/>
<line x1="72.05" y1="445.02" x2="75.45" y2="445.02" stroke="#1a1a1a" stroke-width="1.1"/>
<rect x="81.55" y="417.05" width="5.70" height="54.15" fill="#ae0a2f" stroke="#000" stroke-width="0.5" stroke-opacity="0.35"/>
<rect x="89.25" y="450.37" width="5.70" height="20.83" fill="#2f4c88" stroke="#000" stroke-width="0.5" stroke-opacity="0.35"/>
<line x1="92.10" y1="450.12" x2="92.10" y2="445.02" stroke="#1a1a1a" stroke-width="1.0"/>
<line x1="90.40" y1="445.02" x2="93.80" y2="445.02" stroke="#1a1a1a" stroke-width="1.1"/>
<rect x="97.05" y="420.11" width="5.70" height="51.09" fill="#72aa3c" stroke="#000" stroke-width="0.5" stroke-opacity="0.35"/>
<line x1="99.90" y1="419.86" x2="99.90" y2="416.80" stroke="#1a1a1a" stroke-width="1.0"/>
<line x1="98.20" y1="416.80" x2="101.60" y2="416.80" stroke="#1a1a1a" stroke-width="1.1"/>
<rect x="104.75" y="463.97" width="5.70" height="7.23" fill="#552562" stroke="#000" stroke-width="0.5" stroke-opacity="0.35"/>
<line x1="107.60" y1="463.72" x2="107.60" y2="461.68" stroke="#1a1a1a" stroke-width="1.0"/>
<line x1="105.90" y1="461.68" x2="109.30" y2="461.68" stroke="#1a1a1a" stroke-width="1.1"/>
<line x1="44.20" y1="401.70" x2="44.20" y2="471.80" stroke="#000" stroke-width="1.3"/>
<line x1="43.60" y1="471.20" x2="113.40" y2="471.20" stroke="#000" stroke-width="1.3"/>
<line x1="41.60" y1="471.20" x2="44.20" y2="471.20" stroke="#000" stroke-width="0.9"/>
<text x="37.80" y="473.11" font-size="5.3" text-anchor="end" font-weight="normal" font-style="normal" fill="#2a2a2a" stroke="#2a2a2a" stroke-width="0.22" textLength="6.70" lengthAdjust="spacingAndGlyphs">0.2</text>
<line x1="41.60" y1="457.60" x2="44.20" y2="457.60" stroke="#000" stroke-width="0.9"/>
<text x="37.80" y="459.51" font-size="5.3" text-anchor="end" font-weight="normal" font-style="normal" fill="#2a2a2a" stroke="#2a2a2a" stroke-width="0.22" textLength="6.70" lengthAdjust="spacingAndGlyphs">0.4</text>
<line x1="41.60" y1="444.00" x2="44.20" y2="444.00" stroke="#000" stroke-width="0.9"/>
<text x="37.80" y="445.91" font-size="5.3" text-anchor="end" font-weight="normal" font-style="normal" fill="#2a2a2a" stroke="#2a2a2a" stroke-width="0.22" textLength="6.70" lengthAdjust="spacingAndGlyphs">0.6</text>
<line x1="41.60" y1="430.40" x2="44.20" y2="430.40" stroke="#000" stroke-width="0.9"/>
<text x="37.80" y="432.31" font-size="5.3" text-anchor="end" font-weight="normal" font-style="normal" fill="#2a2a2a" stroke="#2a2a2a" stroke-width="0.22" textLength="6.70" lengthAdjust="spacingAndGlyphs">0.8</text>
<line x1="41.60" y1="416.80" x2="44.20" y2="416.80" stroke="#000" stroke-width="0.9"/>
<text x="37.80" y="418.71" font-size="5.3" text-anchor="end" font-weight="normal" font-style="normal" fill="#2a2a2a" stroke="#2a2a2a" stroke-width="0.22" textLength="6.70" lengthAdjust="spacingAndGlyphs">1.0</text>
<line x1="41.60" y1="403.20" x2="44.20" y2="403.20" stroke="#000" stroke-width="0.9"/>
<text x="37.80" y="405.11" font-size="5.3" text-anchor="end" font-weight="normal" font-style="normal" fill="#2a2a2a" stroke="#2a2a2a" stroke-width="0.22" textLength="6.70" lengthAdjust="spacingAndGlyphs">1.2</text>
<line x1="61.40" y1="471.20" x2="61.40" y2="473.60" stroke="#000" stroke-width="0.9"/>
<line x1="95.70" y1="471.20" x2="95.70" y2="473.60" stroke="#000" stroke-width="0.9"/>
<line x1="50.20" y1="407.50" x2="73.60" y2="407.50" stroke="#1e1e1e" stroke-width="1.15"/>
<line x1="50.20" y1="410.30" x2="68.00" y2="410.30" stroke="#1e1e1e" stroke-width="1.15"/>
<line x1="50.20" y1="413.10" x2="60.70" y2="413.10" stroke="#1e1e1e" stroke-width="1.15"/>
<text x="62.00" y="406.53" font-size="6.2" text-anchor="middle" font-weight="normal" font-style="normal" fill="#111" stroke="#111" stroke-width="0.22">*</text>
<line x1="66.50" y1="423.10" x2="77.50" y2="423.10" stroke="#1e1e1e" stroke-width="1.15"/>
<text x="72.00" y="423.13" font-size="6.2" text-anchor="middle" font-weight="normal" font-style="normal" fill="#111" stroke="#111" stroke-width="0.22">*</text>
<line x1="84.20" y1="410.30" x2="107.20" y2="410.30" stroke="#1e1e1e" stroke-width="1.15"/>
<line x1="84.20" y1="413.10" x2="94.60" y2="413.10" stroke="#1e1e1e" stroke-width="1.15"/>
<text x="95.20" y="409.43" font-size="6.2" text-anchor="middle" font-weight="normal" font-style="normal" fill="#111" stroke="#111" stroke-width="0.22">*</text>
<text x="13.50" y="438.37" font-size="7.7" text-anchor="middle" font-weight="normal" font-style="normal" fill="#1e1e1e" stroke="#1e1e1e" stroke-width="0.16" textLength="52.30" lengthAdjust="spacingAndGlyphs" transform="rotate(-90 13.50 435.60)">A.U.C (120-450s)</text>
<text x="22.00" y="438.37" font-size="7.7" text-anchor="middle" font-weight="normal" font-style="normal" fill="#1e1e1e" stroke="#1e1e1e" stroke-width="0.16" textLength="47.00" lengthAdjust="spacingAndGlyphs" transform="rotate(-90 22.00 435.60)">(fraction of WT)</text>
<text x="0" y="0" font-size="5.4" text-anchor="end" fill="#1a1a1a" stroke="#1a1a1a" stroke-width="0.2" transform="translate(64.60 479.40) rotate(-45)">300nM</text>
<text x="0" y="0" font-size="5.4" text-anchor="end" fill="#1a1a1a" stroke="#1a1a1a" stroke-width="0.2" transform="translate(98.60 479.20) rotate(-45)">1μM</text>
<rect x="160.55" y="414.83" width="6.00" height="56.67" fill="#ae0a2f" stroke="#000" stroke-width="0.5" stroke-opacity="0.35"/>
<rect x="168.25" y="439.31" width="5.60" height="32.19" fill="#2f4c88" stroke="#000" stroke-width="0.5" stroke-opacity="0.35"/>
<line x1="171.05" y1="439.06" x2="171.05" y2="435.64" stroke="#1a1a1a" stroke-width="1.0"/>
<line x1="169.35" y1="435.64" x2="172.75" y2="435.64" stroke="#1a1a1a" stroke-width="1.1"/>
<rect x="175.75" y="421.09" width="5.50" height="50.41" fill="#72aa3c" stroke="#000" stroke-width="0.5" stroke-opacity="0.35"/>
<line x1="178.50" y1="420.84" x2="178.50" y2="419.99" stroke="#1a1a1a" stroke-width="1.0"/>
<line x1="176.80" y1="419.99" x2="180.20" y2="419.99" stroke="#1a1a1a" stroke-width="1.1"/>
<rect x="183.45" y="457.52" width="5.50" height="13.98" fill="#552562" stroke="#000" stroke-width="0.5" stroke-opacity="0.35"/>
<line x1="186.20" y1="457.27" x2="186.20" y2="456.70" stroke="#1a1a1a" stroke-width="1.0"/>
<line x1="184.50" y1="456.70" x2="187.90" y2="456.70" stroke="#1a1a1a" stroke-width="1.1"/>
<rect x="193.95" y="414.83" width="5.90" height="56.67" fill="#ae0a2f" stroke="#000" stroke-width="0.5" stroke-opacity="0.35"/>
<rect x="201.55" y="446.42" width="5.60" height="25.08" fill="#2f4c88" stroke="#000" stroke-width="0.5" stroke-opacity="0.35"/>
<line x1="204.35" y1="446.17" x2="204.35" y2="442.19" stroke="#1a1a1a" stroke-width="1.0"/>
<line x1="202.65" y1="442.19" x2="206.05" y2="442.19" stroke="#1a1a1a" stroke-width="1.1"/>
<rect x="209.05" y="415.40" width="5.60" height="56.10" fill="#72aa3c" stroke="#000" stroke-width="0.5" stroke-opacity="0.35"/>
<line x1="211.85" y1="415.15" x2="211.85" y2="414.58" stroke="#1a1a1a" stroke-width="1.0"/>
<line x1="210.15" y1="414.58" x2="213.55" y2="414.58" stroke="#1a1a1a" stroke-width="1.1"/>
<rect x="216.55" y="456.95" width="5.50" height="14.55" fill="#552562" stroke="#000" stroke-width="0.5" stroke-opacity="0.35"/>
<line x1="219.30" y1="456.70" x2="219.30" y2="454.43" stroke="#1a1a1a" stroke-width="1.0"/>
<line x1="217.60" y1="454.43" x2="221.00" y2="454.43" stroke="#1a1a1a" stroke-width="1.1"/>
<line x1="157.00" y1="401.70" x2="157.00" y2="472.10" stroke="#000" stroke-width="1.3"/>
<line x1="156.40" y1="471.50" x2="224.00" y2="471.50" stroke="#000" stroke-width="1.3"/>
<line x1="154.40" y1="471.50" x2="157.00" y2="471.50" stroke="#000" stroke-width="0.9"/>
<text x="150.80" y="473.41" font-size="5.3" text-anchor="end" font-weight="normal" font-style="normal" fill="#2a2a2a" stroke="#2a2a2a" stroke-width="0.22" textLength="6.70" lengthAdjust="spacingAndGlyphs">0.0</text>
<line x1="154.40" y1="460.12" x2="157.00" y2="460.12" stroke="#000" stroke-width="0.9"/>
<text x="150.80" y="462.02" font-size="5.3" text-anchor="end" font-weight="normal" font-style="normal" fill="#2a2a2a" stroke="#2a2a2a" stroke-width="0.22" textLength="6.70" lengthAdjust="spacingAndGlyphs">0.2</text>
<line x1="154.40" y1="448.73" x2="157.00" y2="448.73" stroke="#000" stroke-width="0.9"/>
<text x="150.80" y="450.64" font-size="5.3" text-anchor="end" font-weight="normal" font-style="normal" fill="#2a2a2a" stroke="#2a2a2a" stroke-width="0.22" textLength="6.70" lengthAdjust="spacingAndGlyphs">0.4</text>
<line x1="154.40" y1="437.35" x2="157.00" y2="437.35" stroke="#000" stroke-width="0.9"/>
<text x="150.80" y="439.26" font-size="5.3" text-anchor="end" font-weight="normal" font-style="normal" fill="#2a2a2a" stroke="#2a2a2a" stroke-width="0.22" textLength="6.70" lengthAdjust="spacingAndGlyphs">0.6</text>
<line x1="154.40" y1="425.97" x2="157.00" y2="425.97" stroke="#000" stroke-width="0.9"/>
<text x="150.80" y="427.87" font-size="5.3" text-anchor="end" font-weight="normal" font-style="normal" fill="#2a2a2a" stroke="#2a2a2a" stroke-width="0.22" textLength="6.70" lengthAdjust="spacingAndGlyphs">0.8</text>
<line x1="154.40" y1="414.58" x2="157.00" y2="414.58" stroke="#000" stroke-width="0.9"/>
<text x="150.80" y="416.49" font-size="5.3" text-anchor="end" font-weight="normal" font-style="normal" fill="#2a2a2a" stroke="#2a2a2a" stroke-width="0.22" textLength="6.70" lengthAdjust="spacingAndGlyphs">1.0</text>
<line x1="154.40" y1="403.20" x2="157.00" y2="403.20" stroke="#000" stroke-width="0.9"/>
<text x="150.80" y="405.11" font-size="5.3" text-anchor="end" font-weight="normal" font-style="normal" fill="#2a2a2a" stroke="#2a2a2a" stroke-width="0.22" textLength="6.70" lengthAdjust="spacingAndGlyphs">1.2</text>
<line x1="174.10" y1="471.50" x2="174.10" y2="473.90" stroke="#000" stroke-width="0.9"/>
<line x1="207.80" y1="471.50" x2="207.80" y2="473.90" stroke="#000" stroke-width="0.9"/>
<line x1="163.40" y1="406.30" x2="185.60" y2="406.30" stroke="#1e1e1e" stroke-width="1.15"/>
<line x1="163.40" y1="408.90" x2="180.50" y2="408.90" stroke="#1e1e1e" stroke-width="1.15"/>
<line x1="163.40" y1="411.70" x2="173.50" y2="411.70" stroke="#1e1e1e" stroke-width="1.15"/>
<text x="174.50" y="405.93" font-size="6.2" text-anchor="middle" font-weight="normal" font-style="normal" fill="#111" stroke="#111" stroke-width="0.22">*</text>
<line x1="196.70" y1="408.90" x2="219.50" y2="408.90" stroke="#1e1e1e" stroke-width="1.15"/>
<line x1="196.70" y1="411.70" x2="207.40" y2="411.70" stroke="#1e1e1e" stroke-width="1.15"/>
<text x="207.80" y="408.53" font-size="6.2" text-anchor="middle" font-weight="normal" font-style="normal" fill="#111" stroke="#111" stroke-width="0.22">*</text>
<text x="127.20" y="438.57" font-size="7.7" text-anchor="middle" font-weight="normal" font-style="normal" fill="#1e1e1e" stroke="#1e1e1e" stroke-width="0.16" textLength="52.60" lengthAdjust="spacingAndGlyphs" transform="rotate(-90 127.20 435.80)">A.U.C (120-300s)</text>
<text x="135.60" y="438.57" font-size="7.7" text-anchor="middle" font-weight="normal" font-style="normal" fill="#1e1e1e" stroke="#1e1e1e" stroke-width="0.16" textLength="47.60" lengthAdjust="spacingAndGlyphs" transform="rotate(-90 135.60 435.80)">(fraction of WT)</text>
<text x="0" y="0" font-size="5.4" text-anchor="end" fill="#1a1a1a" stroke="#1a1a1a" stroke-width="0.2" transform="translate(176.00 479.40) rotate(-45)">15nM</text>
<text x="0" y="0" font-size="5.4" text-anchor="end" fill="#1a1a1a" stroke="#1a1a1a" stroke-width="0.2" transform="translate(209.60 479.40) rotate(-45)">75nM</text>
<rect x="273.05" y="417.43" width="6.50" height="54.47" fill="#ae0a2f" stroke="#000" stroke-width="0.5" stroke-opacity="0.35"/>
<rect x="281.45" y="456.42" width="6.40" height="15.48" fill="#2f4c88" stroke="#000" stroke-width="0.5" stroke-opacity="0.35"/>
<line x1="284.65" y1="456.17" x2="284.65" y2="452.75" stroke="#1a1a1a" stroke-width="1.0"/>
<line x1="282.95" y1="452.75" x2="286.35" y2="452.75" stroke="#1a1a1a" stroke-width="1.1"/>
<rect x="289.95" y="429.74" width="6.40" height="42.16" fill="#72aa3c" stroke="#000" stroke-width="0.5" stroke-opacity="0.35"/>
<line x1="293.15" y1="429.49" x2="293.15" y2="428.12" stroke="#1a1a1a" stroke-width="1.0"/>
<line x1="291.45" y1="428.12" x2="294.85" y2="428.12" stroke="#1a1a1a" stroke-width="1.1"/>
<rect x="310.75" y="417.43" width="6.90" height="54.47" fill="#ae0a2f" stroke="#000" stroke-width="0.5" stroke-opacity="0.35"/>
<rect x="319.45" y="461.21" width="6.50" height="10.69" fill="#2f4c88" stroke="#000" stroke-width="0.5" stroke-opacity="0.35"/>
<line x1="322.70" y1="460.96" x2="322.70" y2="458.22" stroke="#1a1a1a" stroke-width="1.0"/>
<line x1="321.00" y1="458.22" x2="324.40" y2="458.22" stroke="#1a1a1a" stroke-width="1.1"/>
<rect x="328.05" y="422.22" width="6.40" height="49.68" fill="#72aa3c" stroke="#000" stroke-width="0.5" stroke-opacity="0.35"/>
<line x1="331.25" y1="421.97" x2="331.25" y2="420.94" stroke="#1a1a1a" stroke-width="1.0"/>
<line x1="329.55" y1="420.94" x2="332.95" y2="420.94" stroke="#1a1a1a" stroke-width="1.1"/>
<rect x="336.55" y="468.73" width="6.70" height="3.17" fill="#552562" stroke="#000" stroke-width="0.5" stroke-opacity="0.35"/>
<line x1="268.60" y1="402.00" x2="268.60" y2="472.50" stroke="#000" stroke-width="1.3"/>
<line x1="268.00" y1="471.90" x2="346.20" y2="471.90" stroke="#000" stroke-width="1.3"/>
<line x1="266.00" y1="471.90" x2="268.60" y2="471.90" stroke="#000" stroke-width="0.9"/>
<text x="263.00" y="473.81" font-size="5.3" text-anchor="end" font-weight="normal" font-style="normal" fill="#2a2a2a" stroke="#2a2a2a" stroke-width="0.22" textLength="6.70" lengthAdjust="spacingAndGlyphs">0.2</text>
<line x1="266.00" y1="458.22" x2="268.60" y2="458.22" stroke="#000" stroke-width="0.9"/>
<text x="263.00" y="460.13" font-size="5.3" text-anchor="end" font-weight="normal" font-style="normal" fill="#2a2a2a" stroke="#2a2a2a" stroke-width="0.22" textLength="6.70" lengthAdjust="spacingAndGlyphs">0.4</text>
<line x1="266.00" y1="444.54" x2="268.60" y2="444.54" stroke="#000" stroke-width="0.9"/>
<text x="263.00" y="446.45" font-size="5.3" text-anchor="end" font-weight="normal" font-style="normal" fill="#2a2a2a" stroke="#2a2a2a" stroke-width="0.22" textLength="6.70" lengthAdjust="spacingAndGlyphs">0.6</text>
<line x1="266.00" y1="430.86" x2="268.60" y2="430.86" stroke="#000" stroke-width="0.9"/>
<text x="263.00" y="432.77" font-size="5.3" text-anchor="end" font-weight="normal" font-style="normal" fill="#2a2a2a" stroke="#2a2a2a" stroke-width="0.22" textLength="6.70" lengthAdjust="spacingAndGlyphs">0.8</text>
<line x1="266.00" y1="417.18" x2="268.60" y2="417.18" stroke="#000" stroke-width="0.9"/>
<text x="263.00" y="419.09" font-size="5.3" text-anchor="end" font-weight="normal" font-style="normal" fill="#2a2a2a" stroke="#2a2a2a" stroke-width="0.22" textLength="6.70" lengthAdjust="spacingAndGlyphs">1.0</text>
<line x1="266.00" y1="403.50" x2="268.60" y2="403.50" stroke="#000" stroke-width="0.9"/>
<text x="263.00" y="405.41" font-size="5.3" text-anchor="end" font-weight="normal" font-style="normal" fill="#2a2a2a" stroke="#2a2a2a" stroke-width="0.22" textLength="6.70" lengthAdjust="spacingAndGlyphs">1.2</text>
<line x1="288.50" y1="471.90" x2="288.50" y2="474.30" stroke="#000" stroke-width="0.9"/>
<line x1="326.60" y1="471.90" x2="326.60" y2="474.30" stroke="#000" stroke-width="0.9"/>
<line x1="276.30" y1="408.20" x2="298.90" y2="408.20" stroke="#1e1e1e" stroke-width="1.15"/>
<line x1="276.30" y1="411.20" x2="293.90" y2="411.20" stroke="#1e1e1e" stroke-width="1.15"/>
<line x1="276.30" y1="414.20" x2="286.90" y2="414.20" stroke="#1e1e1e" stroke-width="1.15"/>
<text x="287.40" y="407.53" font-size="6.2" text-anchor="middle" font-weight="normal" font-style="normal" fill="#111" stroke="#111" stroke-width="0.22">*</text>
<line x1="314.60" y1="411.20" x2="338.60" y2="411.20" stroke="#1e1e1e" stroke-width="1.15"/>
<line x1="314.60" y1="414.20" x2="325.50" y2="414.20" stroke="#1e1e1e" stroke-width="1.15"/>
<text x="326.60" y="410.53" font-size="6.2" text-anchor="middle" font-weight="normal" font-style="normal" fill="#111" stroke="#111" stroke-width="0.22">*</text>
<text x="237.80" y="439.17" font-size="7.7" text-anchor="middle" font-weight="normal" font-style="normal" fill="#1e1e1e" stroke="#1e1e1e" stroke-width="0.16" textLength="52.10" lengthAdjust="spacingAndGlyphs" transform="rotate(-90 237.80 436.40)">A.U.C (210-600s)</text>
<text x="246.90" y="439.17" font-size="7.7" text-anchor="middle" font-weight="normal" font-style="normal" fill="#1e1e1e" stroke="#1e1e1e" stroke-width="0.16" textLength="48.20" lengthAdjust="spacingAndGlyphs" transform="rotate(-90 246.90 436.40)">(fraction of WT)</text>
<text x="0" y="0" font-size="5.4" text-anchor="end" fill="#1a1a1a" stroke="#1a1a1a" stroke-width="0.2" transform="translate(290.20 478.60) rotate(-45)">50nM</text>
<text x="0" y="0" font-size="5.4" text-anchor="end" fill="#1a1a1a" stroke="#1a1a1a" stroke-width="0.2" transform="translate(329.00 479.20) rotate(-45)">200nM</text>
<text x="13.80" y="509.64" font-size="11.5" text-anchor="middle" font-weight="bold" font-style="normal" fill="#000">E</text>
<text x="93.10" y="509.57" font-size="7.7" text-anchor="middle" font-weight="bold" font-style="normal" fill="#000">fMLF</text>
<text x="213.70" y="509.30" font-size="7.5" text-anchor="middle" font-weight="bold" font-style="normal" fill="#000">MIP2</text>
<text x="337.00" y="509.50" font-size="7.5" text-anchor="middle" font-weight="bold" font-style="normal" fill="#000">FcγR</text>
<text x="458.20" y="509.94" font-size="7.6" text-anchor="middle" font-weight="bold" font-style="normal" fill="#000">Zymosan</text>
<rect x="45.80" y="512.30" width="96.40" height="4.40" fill="#000"/>
<rect x="44.20" y="518.30" width="98.00" height="35.70" fill="none" stroke="#000" stroke-width="1"/>
<line x1="44.20" y1="517.80" x2="44.20" y2="554.60" stroke="#000" stroke-width="1.3"/>
<line x1="43.60" y1="554.00" x2="142.70" y2="554.00" stroke="#000" stroke-width="1.3"/>
<line x1="42.00" y1="522.70" x2="44.20" y2="522.70" stroke="#000" stroke-width="0.8"/>
<text x="38.20" y="524.86" font-size="6.0" text-anchor="end" font-weight="normal" font-style="normal" fill="#1a1a1a" stroke="#1a1a1a" stroke-width="0.22">1</text>
<line x1="42.00" y1="526.80" x2="44.20" y2="526.80" stroke="#000" stroke-width="0.8"/>
<line x1="42.00" y1="530.90" x2="44.20" y2="530.90" stroke="#000" stroke-width="0.8"/>
<text x="38.20" y="533.06" font-size="6.0" text-anchor="end" font-weight="normal" font-style="normal" fill="#1a1a1a" stroke="#1a1a1a" stroke-width="0.22">0.8</text>
<line x1="42.00" y1="534.90" x2="44.20" y2="534.90" stroke="#000" stroke-width="0.8"/>
<line x1="42.00" y1="538.90" x2="44.20" y2="538.90" stroke="#000" stroke-width="0.8"/>
<text x="38.20" y="541.06" font-size="6.0" text-anchor="end" font-weight="normal" font-style="normal" fill="#1a1a1a" stroke="#1a1a1a" stroke-width="0.22">0.6</text>
<line x1="42.00" y1="543.15" x2="44.20" y2="543.15" stroke="#000" stroke-width="0.8"/>
<line x1="42.00" y1="547.40" x2="44.20" y2="547.40" stroke="#000" stroke-width="0.8"/>
<text x="38.20" y="549.56" font-size="6.0" text-anchor="end" font-weight="normal" font-style="normal" fill="#1a1a1a" stroke="#1a1a1a" stroke-width="0.22">0.4</text>
<line x1="42.00" y1="551.60" x2="44.20" y2="551.60" stroke="#000" stroke-width="0.8"/>
<line x1="68.35" y1="554.00" x2="68.35" y2="556.20" stroke="#000" stroke-width="0.8"/>
<text x="68.35" y="565.76" font-size="6.0" text-anchor="middle" font-weight="normal" font-style="normal" fill="#1a1a1a" stroke="#1a1a1a" stroke-width="0.22">100</text>
<line x1="92.50" y1="554.00" x2="92.50" y2="556.20" stroke="#000" stroke-width="0.8"/>
<text x="92.50" y="565.76" font-size="6.0" text-anchor="middle" font-weight="normal" font-style="normal" fill="#1a1a1a" stroke="#1a1a1a" stroke-width="0.22">200</text>
<line x1="116.65" y1="554.00" x2="116.65" y2="556.20" stroke="#000" stroke-width="0.8"/>
<text x="116.65" y="565.76" font-size="6.0" text-anchor="middle" font-weight="normal" font-style="normal" fill="#1a1a1a" stroke="#1a1a1a" stroke-width="0.22">300</text>
<line x1="140.80" y1="554.00" x2="140.80" y2="556.20" stroke="#000" stroke-width="0.8"/>
<text x="140.80" y="565.76" font-size="6.0" text-anchor="middle" font-weight="normal" font-style="normal" fill="#1a1a1a" stroke="#1a1a1a" stroke-width="0.22">400</text>
<line x1="50.24" y1="554.00" x2="50.24" y2="555.80" stroke="#000" stroke-width="0.8"/>
<line x1="56.28" y1="554.00" x2="56.28" y2="555.80" stroke="#000" stroke-width="0.8"/>
<line x1="62.31" y1="554.00" x2="62.31" y2="555.80" stroke="#000" stroke-width="0.8"/>
<line x1="74.39" y1="554.00" x2="74.39" y2="555.80" stroke="#000" stroke-width="0.8"/>
<line x1="80.43" y1="554.00" x2="80.43" y2="555.80" stroke="#000" stroke-width="0.8"/>
<line x1="86.46" y1="554.00" x2="86.46" y2="555.80" stroke="#000" stroke-width="0.8"/>
<line x1="98.54" y1="554.00" x2="98.54" y2="555.80" stroke="#000" stroke-width="0.8"/>
<line x1="104.58" y1="554.00" x2="104.58" y2="555.80" stroke="#000" stroke-width="0.8"/>
<line x1="110.61" y1="554.00" x2="110.61" y2="555.80" stroke="#000" stroke-width="0.8"/>
<line x1="122.69" y1="554.00" x2="122.69" y2="555.80" stroke="#000" stroke-width="0.8"/>
<line x1="128.72" y1="554.00" x2="128.72" y2="555.80" stroke="#000" stroke-width="0.8"/>
<line x1="134.76" y1="554.00" x2="134.76" y2="555.80" stroke="#000" stroke-width="0.8"/>
<line x1="50.90" y1="559.60" x2="50.90" y2="567.80" stroke="#000" stroke-width="1.0"/>
<path d="M50.90 557.60 L49.20 561.00 L52.60 561.00 Z" fill="#000"/>
<rect x="164.00" y="512.30" width="99.20" height="4.40" fill="#000"/>
<rect x="163.80" y="518.30" width="99.40" height="35.70" fill="none" stroke="#000" stroke-width="1"/>
<line x1="163.80" y1="517.80" x2="163.80" y2="554.60" stroke="#000" stroke-width="1.3"/>
<line x1="163.20" y1="554.00" x2="263.70" y2="554.00" stroke="#000" stroke-width="1.3"/>
<line x1="161.60" y1="522.50" x2="163.80" y2="522.50" stroke="#000" stroke-width="0.8"/>
<text x="157.40" y="524.66" font-size="6.0" text-anchor="end" font-weight="normal" font-style="normal" fill="#1a1a1a" stroke="#1a1a1a" stroke-width="0.22">0.9</text>
<line x1="161.60" y1="531.50" x2="163.80" y2="531.50" stroke="#000" stroke-width="0.8"/>
<text x="157.40" y="533.66" font-size="6.0" text-anchor="end" font-weight="normal" font-style="normal" fill="#1a1a1a" stroke="#1a1a1a" stroke-width="0.22">0.7</text>
<line x1="161.60" y1="540.30" x2="163.80" y2="540.30" stroke="#000" stroke-width="0.8"/>
<text x="157.40" y="542.46" font-size="6.0" text-anchor="end" font-weight="normal" font-style="normal" fill="#1a1a1a" stroke="#1a1a1a" stroke-width="0.22">0.5</text>
<line x1="161.60" y1="549.40" x2="163.80" y2="549.40" stroke="#000" stroke-width="0.8"/>
<text x="157.40" y="551.56" font-size="6.0" text-anchor="end" font-weight="normal" font-style="normal" fill="#1a1a1a" stroke="#1a1a1a" stroke-width="0.22">0.3</text>
<line x1="161.60" y1="526.98" x2="163.80" y2="526.98" stroke="#000" stroke-width="0.8"/>
<line x1="161.60" y1="535.94" x2="163.80" y2="535.94" stroke="#000" stroke-width="0.8"/>
<line x1="161.60" y1="544.90" x2="163.80" y2="544.90" stroke="#000" stroke-width="0.8"/>
<line x1="161.60" y1="553.00" x2="163.80" y2="553.00" stroke="#000" stroke-width="0.8"/>
<line x1="196.45" y1="554.00" x2="196.45" y2="556.20" stroke="#000" stroke-width="0.8"/>
<text x="196.45" y="564.96" font-size="6.0" text-anchor="middle" font-weight="normal" font-style="normal" fill="#1a1a1a" stroke="#1a1a1a" stroke-width="0.22">100</text>
<line x1="229.50" y1="554.00" x2="229.50" y2="556.20" stroke="#000" stroke-width="0.8"/>
<text x="229.50" y="564.96" font-size="6.0" text-anchor="middle" font-weight="normal" font-style="normal" fill="#1a1a1a" stroke="#1a1a1a" stroke-width="0.22">200</text>
<line x1="262.55" y1="554.00" x2="262.55" y2="556.20" stroke="#000" stroke-width="0.8"/>
<text x="262.55" y="564.96" font-size="6.0" text-anchor="middle" font-weight="normal" font-style="normal" fill="#1a1a1a" stroke="#1a1a1a" stroke-width="0.22">300</text>
<line x1="171.66" y1="554.00" x2="171.66" y2="555.80" stroke="#000" stroke-width="0.8"/>
<line x1="179.93" y1="554.00" x2="179.93" y2="555.80" stroke="#000" stroke-width="0.8"/>
<line x1="188.19" y1="554.00" x2="188.19" y2="555.80" stroke="#000" stroke-width="0.8"/>
<line x1="204.71" y1="554.00" x2="204.71" y2="555.80" stroke="#000" stroke-width="0.8"/>
<line x1="212.98" y1="554.00" x2="212.98" y2="555.80" stroke="#000" stroke-width="0.8"/>
<line x1="221.24" y1="554.00" x2="221.24" y2="555.80" stroke="#000" stroke-width="0.8"/>
<line x1="237.76" y1="554.00" x2="237.76" y2="555.80" stroke="#000" stroke-width="0.8"/>
<line x1="246.03" y1="554.00" x2="246.03" y2="555.80" stroke="#000" stroke-width="0.8"/>
<line x1="254.29" y1="554.00" x2="254.29" y2="555.80" stroke="#000" stroke-width="0.8"/>
<line x1="173.50" y1="559.80" x2="173.50" y2="567.80" stroke="#000" stroke-width="1.0"/>
<path d="M173.50 557.80 L171.80 561.20 L175.20 561.20 Z" fill="#000"/>
<rect x="286.50" y="512.30" width="102.30" height="4.40" fill="#000"/>
<rect x="285.80" y="518.30" width="103.00" height="35.70" fill="none" stroke="#000" stroke-width="1"/>
<line x1="285.80" y1="517.80" x2="285.80" y2="554.60" stroke="#000" stroke-width="1.3"/>
<line x1="285.20" y1="554.00" x2="389.30" y2="554.00" stroke="#000" stroke-width="1.3"/>
<line x1="283.60" y1="521.90" x2="285.80" y2="521.90" stroke="#000" stroke-width="0.8"/>
<text x="279.60" y="524.06" font-size="6.0" text-anchor="end" font-weight="normal" font-style="normal" fill="#1a1a1a" stroke="#1a1a1a" stroke-width="0.22">0.5</text>
<line x1="283.60" y1="533.30" x2="285.80" y2="533.30" stroke="#000" stroke-width="0.8"/>
<text x="279.60" y="535.46" font-size="6.0" text-anchor="end" font-weight="normal" font-style="normal" fill="#1a1a1a" stroke="#1a1a1a" stroke-width="0.22">0.4</text>
<line x1="283.60" y1="544.70" x2="285.80" y2="544.70" stroke="#000" stroke-width="0.8"/>
<text x="279.60" y="546.86" font-size="6.0" text-anchor="end" font-weight="normal" font-style="normal" fill="#1a1a1a" stroke="#1a1a1a" stroke-width="0.22">0.3</text>
<line x1="283.60" y1="524.18" x2="285.80" y2="524.18" stroke="#000" stroke-width="0.8"/>
<line x1="283.60" y1="526.46" x2="285.80" y2="526.46" stroke="#000" stroke-width="0.8"/>
<line x1="283.60" y1="528.74" x2="285.80" y2="528.74" stroke="#000" stroke-width="0.8"/>
<line x1="283.60" y1="531.02" x2="285.80" y2="531.02" stroke="#000" stroke-width="0.8"/>
<line x1="283.60" y1="535.58" x2="285.80" y2="535.58" stroke="#000" stroke-width="0.8"/>
<line x1="283.60" y1="537.86" x2="285.80" y2="537.86" stroke="#000" stroke-width="0.8"/>
<line x1="283.60" y1="540.14" x2="285.80" y2="540.14" stroke="#000" stroke-width="0.8"/>
<line x1="283.60" y1="542.42" x2="285.80" y2="542.42" stroke="#000" stroke-width="0.8"/>
<line x1="283.60" y1="546.98" x2="285.80" y2="546.98" stroke="#000" stroke-width="0.8"/>
<line x1="283.60" y1="549.26" x2="285.80" y2="549.26" stroke="#000" stroke-width="0.8"/>
<line x1="283.60" y1="551.54" x2="285.80" y2="551.54" stroke="#000" stroke-width="0.8"/>
<line x1="308.95" y1="554.00" x2="308.95" y2="556.20" stroke="#000" stroke-width="0.8"/>
<text x="308.95" y="565.56" font-size="6.0" text-anchor="middle" font-weight="normal" font-style="normal" fill="#1a1a1a" stroke="#1a1a1a" stroke-width="0.22">100</text>
<line x1="331.70" y1="554.00" x2="331.70" y2="556.20" stroke="#000" stroke-width="0.8"/>
<text x="331.70" y="565.56" font-size="6.0" text-anchor="middle" font-weight="normal" font-style="normal" fill="#1a1a1a" stroke="#1a1a1a" stroke-width="0.22">200</text>
<line x1="354.45" y1="554.00" x2="354.45" y2="556.20" stroke="#000" stroke-width="0.8"/>
<text x="354.45" y="565.56" font-size="6.0" text-anchor="middle" font-weight="normal" font-style="normal" fill="#1a1a1a" stroke="#1a1a1a" stroke-width="0.22">300</text>
<line x1="377.20" y1="554.00" x2="377.20" y2="556.20" stroke="#000" stroke-width="0.8"/>
<text x="377.20" y="565.56" font-size="6.0" text-anchor="middle" font-weight="normal" font-style="normal" fill="#1a1a1a" stroke="#1a1a1a" stroke-width="0.22">400</text>
<line x1="291.89" y1="554.00" x2="291.89" y2="555.80" stroke="#000" stroke-width="0.8"/>
<line x1="297.57" y1="554.00" x2="297.57" y2="555.80" stroke="#000" stroke-width="0.8"/>
<line x1="303.26" y1="554.00" x2="303.26" y2="555.80" stroke="#000" stroke-width="0.8"/>
<line x1="314.64" y1="554.00" x2="314.64" y2="555.80" stroke="#000" stroke-width="0.8"/>
<line x1="320.32" y1="554.00" x2="320.32" y2="555.80" stroke="#000" stroke-width="0.8"/>
<line x1="326.01" y1="554.00" x2="326.01" y2="555.80" stroke="#000" stroke-width="0.8"/>
<line x1="337.39" y1="554.00" x2="337.39" y2="555.80" stroke="#000" stroke-width="0.8"/>
<line x1="343.07" y1="554.00" x2="343.07" y2="555.80" stroke="#000" stroke-width="0.8"/>
<line x1="348.76" y1="554.00" x2="348.76" y2="555.80" stroke="#000" stroke-width="0.8"/>
<line x1="360.14" y1="554.00" x2="360.14" y2="555.80" stroke="#000" stroke-width="0.8"/>
<line x1="365.82" y1="554.00" x2="365.82" y2="555.80" stroke="#000" stroke-width="0.8"/>
<line x1="371.51" y1="554.00" x2="371.51" y2="555.80" stroke="#000" stroke-width="0.8"/>
<line x1="382.89" y1="554.00" x2="382.89" y2="555.80" stroke="#000" stroke-width="0.8"/>
<line x1="388.57" y1="554.00" x2="388.57" y2="555.80" stroke="#000" stroke-width="0.8"/>
<line x1="295.80" y1="559.80" x2="295.80" y2="567.80" stroke="#000" stroke-width="1.0"/>
<path d="M295.80 557.80 L294.10 561.20 L297.50 561.20 Z" fill="#000"/>
<rect x="407.20" y="512.30" width="101.60" height="4.40" fill="#000"/>
<rect x="407.10" y="518.30" width="101.70" height="35.70" fill="none" stroke="#000" stroke-width="1"/>
<line x1="407.10" y1="517.80" x2="407.10" y2="554.60" stroke="#000" stroke-width="1.3"/>
<line x1="406.50" y1="554.00" x2="509.30" y2="554.00" stroke="#000" stroke-width="1.3"/>
<line x1="404.90" y1="527.70" x2="407.10" y2="527.70" stroke="#000" stroke-width="0.8"/>
<text x="400.80" y="529.86" font-size="6.0" text-anchor="end" font-weight="normal" font-style="normal" fill="#1a1a1a" stroke="#1a1a1a" stroke-width="0.22">0.7</text>
<line x1="404.90" y1="538.00" x2="407.10" y2="538.00" stroke="#000" stroke-width="0.8"/>
<text x="400.80" y="540.16" font-size="6.0" text-anchor="end" font-weight="normal" font-style="normal" fill="#1a1a1a" stroke="#1a1a1a" stroke-width="0.22">0.5</text>
<line x1="404.90" y1="548.60" x2="407.10" y2="548.60" stroke="#000" stroke-width="0.8"/>
<text x="400.80" y="550.76" font-size="6.0" text-anchor="end" font-weight="normal" font-style="normal" fill="#1a1a1a" stroke="#1a1a1a" stroke-width="0.22">0.3</text>
<line x1="404.90" y1="522.50" x2="407.10" y2="522.50" stroke="#000" stroke-width="0.8"/>
<line x1="404.90" y1="532.85" x2="407.10" y2="532.85" stroke="#000" stroke-width="0.8"/>
<line x1="404.90" y1="543.30" x2="407.10" y2="543.30" stroke="#000" stroke-width="0.8"/>
<line x1="404.90" y1="552.50" x2="407.10" y2="552.50" stroke="#000" stroke-width="0.8"/>
<line x1="430.15" y1="554.00" x2="430.15" y2="556.20" stroke="#000" stroke-width="0.8"/>
<text x="430.15" y="565.56" font-size="6.0" text-anchor="middle" font-weight="normal" font-style="normal" fill="#1a1a1a" stroke="#1a1a1a" stroke-width="0.22">100</text>
<line x1="456.30" y1="554.00" x2="456.30" y2="556.20" stroke="#000" stroke-width="0.8"/>
<text x="456.30" y="565.56" font-size="6.0" text-anchor="middle" font-weight="normal" font-style="normal" fill="#1a1a1a" stroke="#1a1a1a" stroke-width="0.22">200</text>
<line x1="482.45" y1="554.00" x2="482.45" y2="556.20" stroke="#000" stroke-width="0.8"/>
<text x="482.45" y="565.56" font-size="6.0" text-anchor="middle" font-weight="normal" font-style="normal" fill="#1a1a1a" stroke="#1a1a1a" stroke-width="0.22">300</text>
<line x1="508.60" y1="554.00" x2="508.60" y2="556.20" stroke="#000" stroke-width="0.8"/>
<text x="508.60" y="565.56" font-size="6.0" text-anchor="middle" font-weight="normal" font-style="normal" fill="#1a1a1a" stroke="#1a1a1a" stroke-width="0.22">400</text>
<line x1="410.54" y1="554.00" x2="410.54" y2="555.80" stroke="#000" stroke-width="0.8"/>
<line x1="417.07" y1="554.00" x2="417.07" y2="555.80" stroke="#000" stroke-width="0.8"/>
<line x1="423.61" y1="554.00" x2="423.61" y2="555.80" stroke="#000" stroke-width="0.8"/>
<line x1="436.69" y1="554.00" x2="436.69" y2="555.80" stroke="#000" stroke-width="0.8"/>
<line x1="443.23" y1="554.00" x2="443.23" y2="555.80" stroke="#000" stroke-width="0.8"/>
<line x1="449.76" y1="554.00" x2="449.76" y2="555.80" stroke="#000" stroke-width="0.8"/>
<line x1="462.84" y1="554.00" x2="462.84" y2="555.80" stroke="#000" stroke-width="0.8"/>
<line x1="469.38" y1="554.00" x2="469.38" y2="555.80" stroke="#000" stroke-width="0.8"/>
<line x1="475.91" y1="554.00" x2="475.91" y2="555.80" stroke="#000" stroke-width="0.8"/>
<line x1="488.99" y1="554.00" x2="488.99" y2="555.80" stroke="#000" stroke-width="0.8"/>
<line x1="495.52" y1="554.00" x2="495.52" y2="555.80" stroke="#000" stroke-width="0.8"/>
<line x1="502.06" y1="554.00" x2="502.06" y2="555.80" stroke="#000" stroke-width="0.8"/>
<line x1="409.60" y1="559.80" x2="409.60" y2="567.80" stroke="#000" stroke-width="1.0"/>
<path d="M409.60 557.80 L407.90 561.20 L411.30 561.20 Z" fill="#000"/>
<text x="46.60" y="526.47" font-size="6.3" text-anchor="start" font-weight="normal" font-style="normal" fill="#1a1a1a" stroke="#1a1a1a" stroke-width="0.22">1μM</text>
<text x="232.90" y="526.77" font-size="6.3" text-anchor="start" font-weight="normal" font-style="normal" fill="#1a1a1a" stroke="#1a1a1a" stroke-width="0.22" textLength="21.50" lengthAdjust="spacingAndGlyphs">50ng/ml</text>
<text x="289.00" y="526.57" font-size="6.3" text-anchor="start" font-weight="normal" font-style="normal" fill="#1a1a1a" stroke="#1a1a1a" stroke-width="0.22" textLength="24.00" lengthAdjust="spacingAndGlyphs">30μg/ml</text>
<text x="409.30" y="526.57" font-size="6.3" text-anchor="start" font-weight="normal" font-style="normal" fill="#1a1a1a" stroke="#1a1a1a" stroke-width="0.22" textLength="27.00" lengthAdjust="spacingAndGlyphs">200μg/ml</text>
<line x1="43.40" y1="573.30" x2="90.00" y2="573.30" stroke="#000" stroke-width="1.2"/>
<path d="M93.00 573.30 L88.80 571.70 L88.80 574.90 Z" fill="#000"/>
<text x="99.00" y="575.92" font-size="7.0" text-anchor="start" font-weight="normal" font-style="normal" fill="#1a1a1a" stroke="#1a1a1a" stroke-width="0.22" textLength="45.60" lengthAdjust="spacingAndGlyphs">Time (seconds)</text>
<text x="478.20" y="580.52" font-size="5.6" font-style="italic" font-weight="bold" fill="#c0405e" textLength="8.00" lengthAdjust="spacingAndGlyphs">WT</text>
<text x="478.00" y="588.14" font-size="5.4" font-style="italic" font-weight="bold" fill="#5e6680" textLength="13.30" lengthAdjust="spacingAndGlyphs">Stim1</text>
<text x="491.60" y="586.14" font-size="3.4" font-style="italic" fill="#5e6680" stroke="#5e6680" stroke-width="0.15" textLength="10.70" lengthAdjust="spacingAndGlyphs">fl/fl-Cre</text>
<text x="478.00" y="596.04" font-size="5.4" font-style="italic" font-weight="bold" fill="#94ae84" textLength="13.30" lengthAdjust="spacingAndGlyphs">Stim2</text>
<text x="491.60" y="594.04" font-size="3.4" font-style="italic" fill="#94ae84" stroke="#94ae84" stroke-width="0.15" textLength="10.70" lengthAdjust="spacingAndGlyphs">fl/fl-Cre</text>
<rect x="477.80" y="599.30" width="7.50" height="5.00" fill="#000"/>
<text x="488.00" y="603.72" font-size="5.6" text-anchor="start" font-weight="bold" font-style="normal" fill="#1a1a1a" textLength="5.80" lengthAdjust="spacingAndGlyphs">Ca</text>
<text x="493.90" y="600.82" font-size="3.4" text-anchor="start" font-weight="bold" font-style="normal" fill="#1a1a1a" textLength="2.90" lengthAdjust="spacingAndGlyphs">2+</text>
<text x="497.90" y="603.72" font-size="5.6" text-anchor="start" font-weight="bold" font-style="normal" fill="#1a1a1a" textLength="15.20" lengthAdjust="spacingAndGlyphs">1 mM</text>
<path d="M44.60 550.60 C46.17 550.60 52.10 551.53 54.00 550.60 C55.90 549.67 55.33 547.02 56.00 545.00 C56.67 542.98 57.28 540.17 58.00 538.50 C58.72 536.83 59.30 535.48 60.30 535.00 C61.30 534.52 62.38 535.13 64.00 535.60 C65.62 536.07 67.67 537.13 70.00 537.80 C72.33 538.47 75.00 539.23 78.00 539.60 C81.00 539.97 86.33 539.93 88.00 540.00" fill="none" stroke="#cfc39a" stroke-width="0.9" stroke-linejoin="round" opacity="1.0"/>
<path d="M44.60 548.49 L46.80 548.87 L49.00 549.13 L51.20 549.38 L53.40 549.05 L55.60 544.82 L57.80 534.51 L60.00 530.78 L62.20 530.59 L64.40 531.52 L66.60 532.29 L68.80 532.63 L71.00 533.38 L73.20 534.19 L75.40 534.96 L77.60 535.76 L79.80 536.26 L82.00 536.14 L84.20 535.57 L86.40 534.98 L88.60 533.76 L90.80 532.35 L93.00 531.05 L95.20 529.37 L97.40 527.72 L99.60 526.31 L101.80 525.01 L104.00 523.48 L106.20 522.90 L108.40 522.10 L110.60 521.61 L112.80 521.19 L115.00 520.75 L117.20 520.70 L119.40 520.67 L121.60 521.14 L123.80 521.06 L126.00 521.31 L128.20 521.66 L130.40 521.92 L132.60 522.27 L134.80 522.37 L137.00 522.56 L139.20 522.86 L141.40 523.04" fill="none" stroke="#90304a" stroke-width="1.0" stroke-linejoin="round" opacity="1.0"/>
<path d="M44.60 548.49 L46.80 548.87 L49.00 549.13 L51.20 549.38 L53.40 549.05 L55.60 544.82 L57.80 534.51 L60.00 530.78 L62.20 530.59 L64.40 531.52 L66.60 532.29 L68.80 532.63 L71.00 533.38 L73.20 534.19 L75.40 534.96 L77.60 535.76 L79.80 536.26 L82.00 536.14 L84.20 535.57 L86.40 534.98 L88.60 533.76 L90.80 532.35 L93.00 531.05 L95.20 529.37 L97.40 527.72 L99.60 526.31 L101.80 525.01 L104.00 523.48 L106.20 522.90 L108.40 522.10 L110.60 521.61 L112.80 521.19 L115.00 520.75 L117.20 520.70 L119.40 520.67 L121.60 521.14 L123.80 521.06 L126.00 521.31 L128.20 521.66 L130.40 521.92 L132.60 522.27 L134.80 522.37 L137.00 522.56 L139.20 522.86 L141.40 523.04" fill="none" stroke="#3a3a3a" stroke-width="0.6" stroke-dasharray="1.2 1.4" opacity="0.8"/>
<path d="M44.60 550.50 L46.80 550.46 L49.00 551.26 L51.20 551.16 L53.40 550.54 L55.60 546.40 L57.80 536.97 L60.00 533.37 L62.20 533.06 L64.40 534.29 L66.60 535.34 L68.80 535.93 L71.00 536.72 L73.20 537.12 L75.40 537.73 L77.60 538.40 L79.80 538.79 L82.00 539.57 L84.20 539.44 L86.40 539.58 L88.60 540.31 L90.80 539.94 L93.00 539.46 L95.20 539.39 L97.40 538.57 L99.60 538.31 L101.80 537.85 L104.00 536.94 L106.20 535.96 L108.40 534.68 L110.60 533.82 L112.80 532.92 L115.00 532.74 L117.20 532.04 L119.40 531.73 L121.60 530.93 L123.80 530.38 L126.00 530.35 L128.20 530.06 L130.40 529.58 L132.60 529.20 L134.80 528.88 L137.00 528.51 L139.20 527.84 L141.40 527.74" fill="none" stroke="#8ab582" stroke-width="1.0" stroke-linejoin="round" opacity="1.0"/>
<path d="M44.60 550.80 C46.17 550.80 52.10 551.52 54.00 550.80 C55.90 550.08 55.25 547.97 56.00 546.50 C56.75 545.03 57.50 543.08 58.50 542.00 C59.50 540.92 60.75 540.23 62.00 540.00 C63.25 539.77 64.33 540.17 66.00 540.60 C67.67 541.03 69.67 541.90 72.00 542.60 C74.33 543.30 77.00 544.17 80.00 544.80 C83.00 545.43 86.67 546.05 90.00 546.40 C93.33 546.75 95.83 546.73 100.00 546.90 C104.17 547.07 110.00 547.30 115.00 547.40 C120.00 547.50 125.33 547.48 130.00 547.50 C134.67 547.52 140.83 547.50 143.00 547.50" fill="none" stroke="#3b4877" stroke-width="1.0" stroke-linejoin="round" opacity="1.0"/>
<path d="M44.60 550.80 C46.17 550.80 52.10 551.52 54.00 550.80 C55.90 550.08 55.25 547.97 56.00 546.50 C56.75 545.03 57.50 543.08 58.50 542.00 C59.50 540.92 60.75 540.23 62.00 540.00 C63.25 539.77 64.33 540.17 66.00 540.60 C67.67 541.03 69.67 541.90 72.00 542.60 C74.33 543.30 77.00 544.17 80.00 544.80 C83.00 545.43 86.67 546.05 90.00 546.40 C93.33 546.75 95.83 546.73 100.00 546.90 C104.17 547.07 110.00 547.30 115.00 547.40 C120.00 547.50 125.33 547.48 130.00 547.50 C134.67 547.52 140.83 547.50 143.00 547.50" fill="none" stroke="#3a3a3a" stroke-width="0.6" stroke-dasharray="1.2 1.4" opacity="0.8"/>
<path d="M164.40 550.20 C166.05 550.20 172.28 551.73 174.30 550.20 C176.32 548.67 175.80 544.37 176.50 541.00 C177.20 537.63 177.83 533.38 178.50 530.00 C179.17 526.62 179.58 521.87 180.50 520.70 C181.42 519.53 182.42 521.78 184.00 523.00 C185.58 524.22 188.00 526.25 190.00 528.00 C192.00 529.75 194.20 532.00 196.00 533.50 C197.80 535.00 199.13 536.15 200.80 537.00 C202.47 537.85 202.63 537.85 206.00 538.60 C209.37 539.35 215.33 540.43 221.00 541.50 C226.67 542.57 233.03 543.95 240.00 545.00 C246.97 546.05 259.00 547.33 262.80 547.80" fill="none" stroke="#90304a" stroke-width="1.0" stroke-linejoin="round" opacity="1.0"/>
<path d="M164.40 550.20 C166.05 550.20 172.28 551.73 174.30 550.20 C176.32 548.67 175.80 544.37 176.50 541.00 C177.20 537.63 177.83 533.38 178.50 530.00 C179.17 526.62 179.58 521.87 180.50 520.70 C181.42 519.53 182.42 521.78 184.00 523.00 C185.58 524.22 188.00 526.25 190.00 528.00 C192.00 529.75 194.20 532.00 196.00 533.50 C197.80 535.00 199.13 536.15 200.80 537.00 C202.47 537.85 202.63 537.85 206.00 538.60 C209.37 539.35 215.33 540.43 221.00 541.50 C226.67 542.57 233.03 543.95 240.00 545.00 C246.97 546.05 259.00 547.33 262.80 547.80" fill="none" stroke="#3a3a3a" stroke-width="0.6" stroke-dasharray="1.2 1.4" opacity="0.8"/>
<path d="M164.40 550.20 C166.05 550.20 172.28 551.73 174.30 550.20 C176.32 548.67 175.80 543.54 176.50 541.00 C177.20 538.46 177.83 536.98 178.50 534.98 C179.17 532.98 179.58 529.66 180.50 529.00 C181.42 528.34 182.42 529.92 184.00 531.00 C185.58 532.08 188.00 534.00 190.00 535.50 C192.00 537.00 194.20 538.75 196.00 540.00 C197.80 541.25 198.47 541.90 200.80 543.00 C203.13 544.10 205.97 545.63 210.00 546.60 C214.03 547.57 220.00 548.30 225.00 548.80 C230.00 549.30 233.70 549.40 240.00 549.60 C246.30 549.80 259.00 549.93 262.80 550.00" fill="none" stroke="#cfc39a" stroke-width="1.0" stroke-linejoin="round" opacity="1.0"/>
<path d="M164.40 550.20 C166.05 550.20 172.28 551.73 174.30 550.20 C176.32 548.67 175.80 543.46 176.50 541.00 C177.20 538.54 177.83 537.33 178.50 535.46 C179.17 533.59 179.58 530.38 180.50 529.80 C181.42 529.22 182.42 530.80 184.00 532.00 C185.58 533.20 188.00 535.42 190.00 537.00 C192.00 538.58 194.20 540.28 196.00 541.50 C197.80 542.72 198.47 543.28 200.80 544.30 C203.13 545.32 205.97 546.72 210.00 547.60 C214.03 548.48 220.00 549.18 225.00 549.60 C230.00 550.02 233.70 549.97 240.00 550.10 C246.30 550.23 259.00 550.35 262.80 550.40" fill="none" stroke="#8ab582" stroke-width="1.0" stroke-linejoin="round" opacity="1.0"/>
<path d="M164.40 550.20 C166.05 550.20 172.28 551.73 174.30 550.20 C176.32 548.67 175.80 543.31 176.50 541.00 C177.20 538.69 177.83 537.98 178.50 536.36 C179.17 534.74 179.58 531.69 180.50 531.30 C181.42 530.91 182.42 532.63 184.00 534.00 C185.58 535.37 188.00 537.83 190.00 539.50 C192.00 541.17 194.20 542.82 196.00 544.00 C197.80 545.18 198.47 545.77 200.80 546.60 C203.13 547.43 205.97 548.37 210.00 549.00 C214.03 549.63 216.20 550.13 225.00 550.40 C233.80 550.67 256.50 550.57 262.80 550.60" fill="none" stroke="#3b4877" stroke-width="1.0" stroke-linejoin="round" opacity="1.0"/>
<path d="M164.40 550.20 C166.05 550.20 172.28 551.73 174.30 550.20 C176.32 548.67 175.80 543.31 176.50 541.00 C177.20 538.69 177.83 537.98 178.50 536.36 C179.17 534.74 179.58 531.69 180.50 531.30 C181.42 530.91 182.42 532.63 184.00 534.00 C185.58 535.37 188.00 537.83 190.00 539.50 C192.00 541.17 194.20 542.82 196.00 544.00 C197.80 545.18 198.47 545.77 200.80 546.60 C203.13 547.43 205.97 548.37 210.00 549.00 C214.03 549.63 216.20 550.13 225.00 550.40 C233.80 550.67 256.50 550.57 262.80 550.60" fill="none" stroke="#3a3a3a" stroke-width="0.6" stroke-dasharray="1.2 1.4" opacity="0.8"/>
<path d="M286.80 546.34 L289.00 545.33 L291.20 544.93 L293.40 545.08 L295.60 545.00 L297.80 546.40 L300.00 547.85 L302.20 547.40 L304.40 547.68 L306.60 546.42 L308.80 544.69 L311.00 542.04 L313.20 540.03 L315.40 538.40 L317.60 537.03 L319.80 535.94 L322.00 535.93 L324.20 536.10 L326.40 535.97 L328.60 535.38 L330.80 535.68 L333.00 536.03 L335.20 534.85 L337.40 535.81 L339.60 535.84 L341.80 534.58 L344.00 532.89 L346.20 530.46 L348.40 527.92 L350.60 526.83 L352.80 523.86 L355.00 523.29 L357.20 522.61 L359.40 521.01 L361.60 520.79 L363.80 521.72 L366.00 521.37 L368.20 520.46 L370.40 520.54 L372.60 520.83 L374.80 522.59 L377.00 523.07 L379.20 522.83 L381.40 525.24 L383.60 526.91 L385.80 527.94 L388.00 529.08" fill="none" stroke="#90304a" stroke-width="1.0" stroke-linejoin="round" opacity="1.0"/>
<path d="M286.80 551.37 L289.00 550.68 L291.20 550.42 L293.40 551.62 L295.60 550.99 L297.80 550.60 L300.00 550.87 L302.20 549.65 L304.40 549.48 L306.60 548.41 L308.80 546.50 L311.00 545.57 L313.20 544.75 L315.40 543.87 L317.60 543.58 L319.80 542.41 L322.00 542.00 L324.20 541.11 L326.40 541.92 L328.60 540.95 L330.80 540.86 L333.00 540.84 L335.20 541.11 L337.40 540.17 L339.60 540.47 L341.80 539.27 L344.00 538.49 L346.20 537.57 L348.40 535.95 L350.60 535.69 L352.80 534.52 L355.00 533.46 L357.20 533.80 L359.40 532.22 L361.60 532.02 L363.80 531.80 L366.00 531.08 L368.20 530.45 L370.40 530.60 L372.60 530.77 L374.80 531.37 L377.00 530.78 L379.20 531.80 L381.40 531.81 L383.60 532.33 L385.80 533.53 L388.00 533.67" fill="none" stroke="#8ab582" stroke-width="1.0" stroke-linejoin="round" opacity="1.0"/>
<path d="M286.80 551.67 L289.00 551.83 L291.20 551.93 L293.40 551.26 L295.60 551.32 L297.80 551.04 L300.00 550.83 L302.20 550.64 L304.40 549.74 L306.60 549.06 L308.80 548.16 L311.00 547.89 L313.20 546.81 L315.40 546.24 L317.60 545.53 L319.80 543.97 L322.00 543.68 L324.20 543.67 L326.40 543.30 L328.60 542.30 L330.80 542.07 L333.00 542.28 L335.20 541.67 L337.40 541.63 L339.60 541.06 L341.80 541.21 L344.00 540.59 L346.20 539.89 L348.40 538.16 L350.60 538.06 L352.80 537.24 L355.00 535.88 L357.20 536.07 L359.40 535.53 L361.60 534.05 L363.80 534.38 L366.00 533.26 L368.20 533.07 L370.40 533.58 L372.60 533.55 L374.80 533.05 L377.00 533.75 L379.20 534.23 L381.40 534.42 L383.60 534.69 L385.80 535.29 L388.00 536.23" fill="none" stroke="#cfc39a" stroke-width="0.9" stroke-linejoin="round" opacity="1.0"/>
<path d="M286.80 551.13 L289.00 551.81 L291.20 551.58 L293.40 550.91 L295.60 551.26 L297.80 551.62 L300.00 551.38 L302.20 550.48 L304.40 551.25 L306.60 550.28 L308.80 549.77 L311.00 547.79 L313.20 547.25 L315.40 546.14 L317.60 546.36 L319.80 544.90 L322.00 544.08 L324.20 544.15 L326.40 544.81 L328.60 544.77 L330.80 543.93 L333.00 543.72 L335.20 544.73 L337.40 544.08 L339.60 543.95 L341.80 542.55 L344.00 541.76 L346.20 541.79 L348.40 540.53 L350.60 539.17 L352.80 539.52 L355.00 538.21 L357.20 537.55 L359.40 535.66 L361.60 535.78 L363.80 533.56 L366.00 533.79 L368.20 532.84 L370.40 532.83 L372.60 533.57 L374.80 534.68 L377.00 534.39 L379.20 534.83 L381.40 536.06 L383.60 536.37 L385.80 536.94 L388.00 537.76" fill="none" stroke="#3b4877" stroke-width="1.0" stroke-linejoin="round" opacity="1.0"/>
<path d="M407.60 545.88 L409.80 546.00 L412.00 545.97 L414.20 545.26 L416.40 544.29 L418.60 542.30 L420.80 541.73 L423.00 541.23 L425.20 542.40 L427.40 542.91 L429.60 544.46 L431.80 545.20 L434.00 547.29 L436.20 547.91 L438.40 548.12 L440.60 549.05 L442.80 549.95 L445.00 548.58 L447.20 549.51 L449.40 548.52 L451.60 548.05 L453.80 547.68 L456.00 545.67 L458.20 544.29 L460.40 543.02 L462.60 541.93 L464.80 539.28 L467.00 538.39 L469.20 536.47 L471.40 534.58 L473.60 532.36 L475.80 530.34 L478.00 527.79 L480.20 524.73 L482.40 522.69 L484.60 523.86 L486.80 523.53 L489.00 523.38 L491.20 522.90 L493.40 523.73 L495.60 523.58 L497.80 523.31 L500.00 522.83 L502.20 522.77 L504.40 522.64 L506.60 522.59" fill="none" stroke="#90304a" stroke-width="1.0" stroke-linejoin="round" opacity="1.0"/>
<path d="M407.60 546.05 L409.80 546.52 L412.00 546.17 L414.20 546.85 L416.40 545.66 L418.60 543.85 L420.80 542.62 L423.00 544.00 L425.20 543.68 L427.40 544.72 L429.60 545.32 L431.80 547.07 L434.00 548.18 L436.20 549.15 L438.40 549.48 L440.60 550.54 L442.80 550.08 L445.00 550.61 L447.20 550.34 L449.40 550.79 L451.60 550.17 L453.80 550.14 L456.00 550.61 L458.20 550.50 L460.40 551.03 L462.60 550.79 L464.80 550.73 L467.00 549.66 L469.20 548.04 L471.40 546.25 L473.60 542.92 L475.80 540.31 L478.00 538.98 L480.20 537.42 L482.40 539.57 L484.60 540.52 L486.80 540.24 L489.00 541.53 L491.20 541.46 L493.40 540.87 L495.60 540.98 L497.80 541.19 L500.00 540.27 L502.20 541.05 L504.40 541.19 L506.60 541.89" fill="none" stroke="#3b4877" stroke-width="1.0" stroke-linejoin="round" opacity="1.0"/>
<path d="M407.60 549.67 L409.80 549.60 L412.00 549.14 L414.20 548.90 L416.40 547.12 L418.60 545.59 L420.80 543.92 L423.00 543.86 L425.20 544.75 L427.40 545.96 L429.60 546.76 L431.80 548.71 L434.00 549.26 L436.20 550.19 L438.40 550.88 L440.60 551.39 L442.80 551.41 L445.00 550.93 L447.20 551.91 L449.40 551.83 L451.60 551.49 L453.80 551.47 L456.00 551.57 L458.20 550.83 L460.40 551.60 L462.60 550.97 L464.80 550.67 L467.00 550.75 L469.20 551.01 L471.40 549.78 L473.60 548.51 L475.80 546.24 L478.00 543.17 L480.20 540.51 L482.40 538.25 L484.60 536.31 L486.80 534.81 L489.00 533.40 L491.20 532.44 L493.40 531.08 L495.60 531.00 L497.80 531.35 L500.00 532.09 L502.20 531.54 L504.40 531.80 L506.60 531.07" fill="none" stroke="#8ab582" stroke-width="1.0" stroke-linejoin="round" opacity="1.0"/>
<text x="13.80" y="597.64" font-size="11.5" text-anchor="middle" font-weight="bold" font-style="normal" fill="#000">F</text>
<text x="59.50" y="596.70" font-size="7.5" text-anchor="middle" font-weight="bold" font-style="normal" fill="#000">fMLF</text>
<text x="132.60" y="596.80" font-size="7.5" text-anchor="middle" font-weight="bold" font-style="normal" fill="#000">MIP2</text>
<text x="205.20" y="596.70" font-size="7.5" text-anchor="middle" font-weight="bold" font-style="normal" fill="#000">FcγR</text>
<text x="277.40" y="597.10" font-size="7.5" text-anchor="middle" font-weight="bold" font-style="normal" fill="#000">Zymosan</text>
<rect x="47.35" y="615.69" width="6.00" height="43.51" fill="#ae0a2f" stroke="#000" stroke-width="0.5" stroke-opacity="0.35"/>
<rect x="56.45" y="640.03" width="6.10" height="19.17" fill="#2f4c88" stroke="#000" stroke-width="0.5" stroke-opacity="0.35"/>
<line x1="59.50" y1="639.78" x2="59.50" y2="637.32" stroke="#1a1a1a" stroke-width="1.0"/>
<line x1="57.80" y1="637.32" x2="61.20" y2="637.32" stroke="#1a1a1a" stroke-width="1.1"/>
<rect x="64.55" y="627.72" width="6.30" height="31.48" fill="#72aa3c" stroke="#000" stroke-width="0.5" stroke-opacity="0.35"/>
<line x1="67.70" y1="627.47" x2="67.70" y2="625.83" stroke="#1a1a1a" stroke-width="1.0"/>
<line x1="66.00" y1="625.83" x2="69.40" y2="625.83" stroke="#1a1a1a" stroke-width="1.1"/>
<line x1="44.30" y1="603.00" x2="44.30" y2="659.80" stroke="#000" stroke-width="1.3"/>
<line x1="43.70" y1="659.20" x2="74.60" y2="659.20" stroke="#000" stroke-width="1.3"/>
<line x1="41.70" y1="659.20" x2="44.30" y2="659.20" stroke="#000" stroke-width="0.9"/>
<text x="37.90" y="661.11" font-size="5.3" text-anchor="end" font-weight="normal" font-style="normal" fill="#2a2a2a" stroke="#2a2a2a" stroke-width="0.22" textLength="6.70" lengthAdjust="spacingAndGlyphs">0.2</text>
<line x1="41.70" y1="648.26" x2="44.30" y2="648.26" stroke="#000" stroke-width="0.9"/>
<text x="37.90" y="650.17" font-size="5.3" text-anchor="end" font-weight="normal" font-style="normal" fill="#2a2a2a" stroke="#2a2a2a" stroke-width="0.22" textLength="6.70" lengthAdjust="spacingAndGlyphs">0.4</text>
<line x1="41.70" y1="637.32" x2="44.30" y2="637.32" stroke="#000" stroke-width="0.9"/>
<text x="37.90" y="639.23" font-size="5.3" text-anchor="end" font-weight="normal" font-style="normal" fill="#2a2a2a" stroke="#2a2a2a" stroke-width="0.22" textLength="6.70" lengthAdjust="spacingAndGlyphs">0.6</text>
<line x1="41.70" y1="626.38" x2="44.30" y2="626.38" stroke="#000" stroke-width="0.9"/>
<text x="37.90" y="628.29" font-size="5.3" text-anchor="end" font-weight="normal" font-style="normal" fill="#2a2a2a" stroke="#2a2a2a" stroke-width="0.22" textLength="6.70" lengthAdjust="spacingAndGlyphs">0.8</text>
<line x1="41.70" y1="615.44" x2="44.30" y2="615.44" stroke="#000" stroke-width="0.9"/>
<text x="37.90" y="617.35" font-size="5.3" text-anchor="end" font-weight="normal" font-style="normal" fill="#2a2a2a" stroke="#2a2a2a" stroke-width="0.22" textLength="6.70" lengthAdjust="spacingAndGlyphs">1.0</text>
<line x1="41.70" y1="604.50" x2="44.30" y2="604.50" stroke="#000" stroke-width="0.9"/>
<text x="37.90" y="606.41" font-size="5.3" text-anchor="end" font-weight="normal" font-style="normal" fill="#2a2a2a" stroke="#2a2a2a" stroke-width="0.22" textLength="6.70" lengthAdjust="spacingAndGlyphs">1.2</text>
<line x1="50.40" y1="659.20" x2="50.40" y2="661.60" stroke="#000" stroke-width="0.9"/>
<line x1="59.50" y1="659.20" x2="59.50" y2="661.60" stroke="#000" stroke-width="0.9"/>
<line x1="67.70" y1="659.20" x2="67.70" y2="661.60" stroke="#000" stroke-width="0.9"/>
<line x1="51.10" y1="611.00" x2="69.20" y2="611.00" stroke="#1e1e1e" stroke-width="1.15"/>
<line x1="51.10" y1="613.30" x2="61.50" y2="613.30" stroke="#1e1e1e" stroke-width="1.15"/>
<text x="60.30" y="609.93" font-size="6.2" text-anchor="middle" font-weight="normal" font-style="normal" fill="#111" stroke="#111" stroke-width="0.22">*</text>
<text x="13.40" y="633.47" font-size="7.7" text-anchor="middle" font-weight="normal" font-style="normal" fill="#1e1e1e" stroke="#1e1e1e" stroke-width="0.16" textLength="44.70" lengthAdjust="spacingAndGlyphs" transform="rotate(-90 13.40 630.70)">A.U.C (0-400s)</text>
<text x="22.40" y="633.47" font-size="7.7" text-anchor="middle" font-weight="normal" font-style="normal" fill="#1e1e1e" stroke="#1e1e1e" stroke-width="0.16" textLength="46.00" lengthAdjust="spacingAndGlyphs" transform="rotate(-90 22.40 630.70)">(fraction of WT)</text>
<rect x="121.35" y="618.30" width="6.20" height="40.70" fill="#ae0a2f" stroke="#000" stroke-width="0.5" stroke-opacity="0.35"/>
<rect x="129.35" y="635.70" width="5.90" height="23.30" fill="#2f4c88" stroke="#000" stroke-width="0.5" stroke-opacity="0.35"/>
<line x1="132.30" y1="635.45" x2="132.30" y2="633.75" stroke="#1a1a1a" stroke-width="1.0"/>
<line x1="130.60" y1="633.75" x2="134.00" y2="633.75" stroke="#1a1a1a" stroke-width="1.1"/>
<rect x="137.45" y="629.90" width="6.20" height="29.10" fill="#72aa3c" stroke="#000" stroke-width="0.5" stroke-opacity="0.35"/>
<line x1="140.55" y1="629.65" x2="140.55" y2="628.29" stroke="#1a1a1a" stroke-width="1.0"/>
<line x1="138.85" y1="628.29" x2="142.25" y2="628.29" stroke="#1a1a1a" stroke-width="1.1"/>
<line x1="117.80" y1="602.90" x2="117.80" y2="659.60" stroke="#000" stroke-width="1.3"/>
<line x1="117.20" y1="659.00" x2="146.30" y2="659.00" stroke="#000" stroke-width="1.3"/>
<line x1="115.20" y1="659.00" x2="117.80" y2="659.00" stroke="#000" stroke-width="0.9"/>
<text x="111.40" y="660.91" font-size="5.3" text-anchor="end" font-weight="normal" font-style="normal" fill="#2a2a2a" stroke="#2a2a2a" stroke-width="0.22" textLength="6.70" lengthAdjust="spacingAndGlyphs">0.4</text>
<line x1="115.20" y1="645.35" x2="117.80" y2="645.35" stroke="#000" stroke-width="0.9"/>
<text x="111.40" y="647.26" font-size="5.3" text-anchor="end" font-weight="normal" font-style="normal" fill="#2a2a2a" stroke="#2a2a2a" stroke-width="0.22" textLength="6.70" lengthAdjust="spacingAndGlyphs">0.6</text>
<line x1="115.20" y1="631.70" x2="117.80" y2="631.70" stroke="#000" stroke-width="0.9"/>
<text x="111.40" y="633.61" font-size="5.3" text-anchor="end" font-weight="normal" font-style="normal" fill="#2a2a2a" stroke="#2a2a2a" stroke-width="0.22" textLength="6.70" lengthAdjust="spacingAndGlyphs">0.8</text>
<line x1="115.20" y1="618.05" x2="117.80" y2="618.05" stroke="#000" stroke-width="0.9"/>
<text x="111.40" y="619.96" font-size="5.3" text-anchor="end" font-weight="normal" font-style="normal" fill="#2a2a2a" stroke="#2a2a2a" stroke-width="0.22" textLength="6.70" lengthAdjust="spacingAndGlyphs">1.0</text>
<line x1="115.20" y1="604.40" x2="117.80" y2="604.40" stroke="#000" stroke-width="0.9"/>
<text x="111.40" y="606.31" font-size="5.3" text-anchor="end" font-weight="normal" font-style="normal" fill="#2a2a2a" stroke="#2a2a2a" stroke-width="0.22" textLength="6.70" lengthAdjust="spacingAndGlyphs">1.2</text>
<line x1="124.40" y1="659.00" x2="124.40" y2="661.40" stroke="#000" stroke-width="0.9"/>
<line x1="132.30" y1="659.00" x2="132.30" y2="661.40" stroke="#000" stroke-width="0.9"/>
<line x1="140.50" y1="659.00" x2="140.50" y2="661.40" stroke="#000" stroke-width="0.9"/>
<line x1="124.10" y1="613.60" x2="141.90" y2="613.60" stroke="#1e1e1e" stroke-width="1.15"/>
<line x1="124.10" y1="616.20" x2="134.90" y2="616.20" stroke="#1e1e1e" stroke-width="1.15"/>
<text x="132.80" y="612.53" font-size="6.2" text-anchor="middle" font-weight="normal" font-style="normal" fill="#111" stroke="#111" stroke-width="0.22">*</text>
<text x="87.60" y="633.47" font-size="7.7" text-anchor="middle" font-weight="normal" font-style="normal" fill="#1e1e1e" stroke="#1e1e1e" stroke-width="0.16" textLength="44.70" lengthAdjust="spacingAndGlyphs" transform="rotate(-90 87.60 630.70)">A.U.C (0-300s)</text>
<text x="96.90" y="633.47" font-size="7.7" text-anchor="middle" font-weight="normal" font-style="normal" fill="#1e1e1e" stroke="#1e1e1e" stroke-width="0.16" textLength="46.00" lengthAdjust="spacingAndGlyphs" transform="rotate(-90 96.90 630.70)">(fraction of WT)</text>
<rect x="194.25" y="618.30" width="6.10" height="40.70" fill="#ae0a2f" stroke="#000" stroke-width="0.5" stroke-opacity="0.35"/>
<rect x="202.55" y="632.63" width="5.30" height="26.37" fill="#2f4c88" stroke="#000" stroke-width="0.5" stroke-opacity="0.35"/>
<line x1="205.20" y1="632.38" x2="205.20" y2="631.02" stroke="#1a1a1a" stroke-width="1.0"/>
<line x1="203.50" y1="631.02" x2="206.90" y2="631.02" stroke="#1a1a1a" stroke-width="1.1"/>
<rect x="210.25" y="629.90" width="6.10" height="29.10" fill="#72aa3c" stroke="#000" stroke-width="0.5" stroke-opacity="0.35"/>
<line x1="213.30" y1="629.65" x2="213.30" y2="627.95" stroke="#1a1a1a" stroke-width="1.0"/>
<line x1="211.60" y1="627.95" x2="215.00" y2="627.95" stroke="#1a1a1a" stroke-width="1.1"/>
<line x1="190.60" y1="602.90" x2="190.60" y2="659.60" stroke="#000" stroke-width="1.3"/>
<line x1="190.00" y1="659.00" x2="219.40" y2="659.00" stroke="#000" stroke-width="1.3"/>
<line x1="188.00" y1="659.00" x2="190.60" y2="659.00" stroke="#000" stroke-width="0.9"/>
<text x="184.00" y="660.91" font-size="5.3" text-anchor="end" font-weight="normal" font-style="normal" fill="#2a2a2a" stroke="#2a2a2a" stroke-width="0.22" textLength="6.70" lengthAdjust="spacingAndGlyphs">0.4</text>
<line x1="188.00" y1="645.35" x2="190.60" y2="645.35" stroke="#000" stroke-width="0.9"/>
<text x="184.00" y="647.26" font-size="5.3" text-anchor="end" font-weight="normal" font-style="normal" fill="#2a2a2a" stroke="#2a2a2a" stroke-width="0.22" textLength="6.70" lengthAdjust="spacingAndGlyphs">0.6</text>
<line x1="188.00" y1="631.70" x2="190.60" y2="631.70" stroke="#000" stroke-width="0.9"/>
<text x="184.00" y="633.61" font-size="5.3" text-anchor="end" font-weight="normal" font-style="normal" fill="#2a2a2a" stroke="#2a2a2a" stroke-width="0.22" textLength="6.70" lengthAdjust="spacingAndGlyphs">0.8</text>
<line x1="188.00" y1="618.05" x2="190.60" y2="618.05" stroke="#000" stroke-width="0.9"/>
<text x="184.00" y="619.96" font-size="5.3" text-anchor="end" font-weight="normal" font-style="normal" fill="#2a2a2a" stroke="#2a2a2a" stroke-width="0.22" textLength="6.70" lengthAdjust="spacingAndGlyphs">1.0</text>
<line x1="188.00" y1="604.40" x2="190.60" y2="604.40" stroke="#000" stroke-width="0.9"/>
<text x="184.00" y="606.31" font-size="5.3" text-anchor="end" font-weight="normal" font-style="normal" fill="#2a2a2a" stroke="#2a2a2a" stroke-width="0.22" textLength="6.70" lengthAdjust="spacingAndGlyphs">1.2</text>
<line x1="197.30" y1="659.00" x2="197.30" y2="661.40" stroke="#000" stroke-width="0.9"/>
<line x1="205.20" y1="659.00" x2="205.20" y2="661.40" stroke="#000" stroke-width="0.9"/>
<line x1="213.30" y1="659.00" x2="213.30" y2="661.40" stroke="#000" stroke-width="0.9"/>
<line x1="196.30" y1="613.30" x2="213.80" y2="613.30" stroke="#1e1e1e" stroke-width="1.15"/>
<line x1="196.30" y1="615.70" x2="206.90" y2="615.70" stroke="#1e1e1e" stroke-width="1.15"/>
<text x="204.80" y="612.23" font-size="6.2" text-anchor="middle" font-weight="normal" font-style="normal" fill="#111" stroke="#111" stroke-width="0.22">*</text>
<text x="160.30" y="633.47" font-size="7.7" text-anchor="middle" font-weight="normal" font-style="normal" fill="#1e1e1e" stroke="#1e1e1e" stroke-width="0.16" textLength="44.70" lengthAdjust="spacingAndGlyphs" transform="rotate(-90 160.30 630.70)">A.U.C (0-450s)</text>
<text x="169.40" y="633.47" font-size="7.7" text-anchor="middle" font-weight="normal" font-style="normal" fill="#1e1e1e" stroke="#1e1e1e" stroke-width="0.16" textLength="46.00" lengthAdjust="spacingAndGlyphs" transform="rotate(-90 169.40 630.70)">(fraction of WT)</text>
<rect x="267.25" y="618.42" width="5.40" height="40.78" fill="#ae0a2f" stroke="#000" stroke-width="0.5" stroke-opacity="0.35"/>
<rect x="275.05" y="638.94" width="5.30" height="20.26" fill="#2f4c88" stroke="#000" stroke-width="0.5" stroke-opacity="0.35"/>
<line x1="277.70" y1="638.69" x2="277.70" y2="636.98" stroke="#1a1a1a" stroke-width="1.0"/>
<line x1="276.00" y1="636.98" x2="279.40" y2="636.98" stroke="#1a1a1a" stroke-width="1.1"/>
<rect x="282.55" y="632.78" width="5.90" height="26.42" fill="#72aa3c" stroke="#000" stroke-width="0.5" stroke-opacity="0.35"/>
<line x1="285.50" y1="632.53" x2="285.50" y2="630.48" stroke="#1a1a1a" stroke-width="1.0"/>
<line x1="283.80" y1="630.48" x2="287.20" y2="630.48" stroke="#1a1a1a" stroke-width="1.1"/>
<line x1="263.30" y1="603.00" x2="263.30" y2="659.80" stroke="#000" stroke-width="1.3"/>
<line x1="262.70" y1="659.20" x2="291.50" y2="659.20" stroke="#000" stroke-width="1.3"/>
<line x1="260.70" y1="659.20" x2="263.30" y2="659.20" stroke="#000" stroke-width="0.9"/>
<text x="256.40" y="661.11" font-size="5.3" text-anchor="end" font-weight="normal" font-style="normal" fill="#2a2a2a" stroke="#2a2a2a" stroke-width="0.22" textLength="6.70" lengthAdjust="spacingAndGlyphs">0.4</text>
<line x1="260.70" y1="645.53" x2="263.30" y2="645.53" stroke="#000" stroke-width="0.9"/>
<text x="256.40" y="647.43" font-size="5.3" text-anchor="end" font-weight="normal" font-style="normal" fill="#2a2a2a" stroke="#2a2a2a" stroke-width="0.22" textLength="6.70" lengthAdjust="spacingAndGlyphs">0.6</text>
<line x1="260.70" y1="631.85" x2="263.30" y2="631.85" stroke="#000" stroke-width="0.9"/>
<text x="256.40" y="633.76" font-size="5.3" text-anchor="end" font-weight="normal" font-style="normal" fill="#2a2a2a" stroke="#2a2a2a" stroke-width="0.22" textLength="6.70" lengthAdjust="spacingAndGlyphs">0.8</text>
<line x1="260.70" y1="618.17" x2="263.30" y2="618.17" stroke="#000" stroke-width="0.9"/>
<text x="256.40" y="620.08" font-size="5.3" text-anchor="end" font-weight="normal" font-style="normal" fill="#2a2a2a" stroke="#2a2a2a" stroke-width="0.22" textLength="6.70" lengthAdjust="spacingAndGlyphs">1.0</text>
<line x1="260.70" y1="604.50" x2="263.30" y2="604.50" stroke="#000" stroke-width="0.9"/>
<text x="256.40" y="606.41" font-size="5.3" text-anchor="end" font-weight="normal" font-style="normal" fill="#2a2a2a" stroke="#2a2a2a" stroke-width="0.22" textLength="6.70" lengthAdjust="spacingAndGlyphs">1.2</text>
<line x1="270.00" y1="659.20" x2="270.00" y2="661.60" stroke="#000" stroke-width="0.9"/>
<line x1="277.70" y1="659.20" x2="277.70" y2="661.60" stroke="#000" stroke-width="0.9"/>
<line x1="285.50" y1="659.20" x2="285.50" y2="661.60" stroke="#000" stroke-width="0.9"/>
<line x1="269.80" y1="613.30" x2="289.10" y2="613.30" stroke="#1e1e1e" stroke-width="1.15"/>
<line x1="269.80" y1="615.70" x2="280.50" y2="615.70" stroke="#1e1e1e" stroke-width="1.15"/>
<text x="279.50" y="611.73" font-size="6.2" text-anchor="middle" font-weight="normal" font-style="normal" fill="#111" stroke="#111" stroke-width="0.22">*</text>
<text x="233.00" y="633.47" font-size="7.7" text-anchor="middle" font-weight="normal" font-style="normal" fill="#1e1e1e" stroke="#1e1e1e" stroke-width="0.16" textLength="44.70" lengthAdjust="spacingAndGlyphs" transform="rotate(-90 233.00 630.70)">A.U.C (0-400s)</text>
<text x="241.40" y="633.47" font-size="7.7" text-anchor="middle" font-weight="normal" font-style="normal" fill="#1e1e1e" stroke="#1e1e1e" stroke-width="0.16" textLength="46.00" lengthAdjust="spacingAndGlyphs" transform="rotate(-90 241.40 630.70)">(fraction of WT)</text>
<rect x="300.80" y="615.50" width="11.90" height="6.70" fill="#ae0a2f"/>
<text x="316.50" y="620.87" font-size="5.6" font-style="italic" font-weight="bold" fill="#222" textLength="7.70" lengthAdjust="spacingAndGlyphs">WT</text>
<rect x="300.80" y="627.00" width="11.90" height="6.70" fill="#2f4c88"/>
<text x="316.30" y="632.29" font-size="5.4" font-style="italic" font-weight="bold" fill="#262626" textLength="13.10" lengthAdjust="spacingAndGlyphs">Stim1</text>
<text x="329.70" y="630.29" font-size="3.4" font-style="italic" fill="#262626" stroke="#262626" stroke-width="0.15" textLength="11.30" lengthAdjust="spacingAndGlyphs">fl/fl-Cre</text>
<rect x="300.80" y="638.00" width="11.90" height="6.70" fill="#72aa3c"/>
<text x="316.30" y="643.29" font-size="5.4" font-style="italic" font-weight="bold" fill="#262626" textLength="13.10" lengthAdjust="spacingAndGlyphs">Stim2</text>
<text x="329.70" y="641.29" font-size="3.4" font-style="italic" fill="#262626" stroke="#262626" stroke-width="0.15" textLength="11.30" lengthAdjust="spacingAndGlyphs">fl/fl-Cre</text>
<rect x="0" y="0" width="520" height="1.1" fill="#000"/>
<rect x="0" y="0" width="1.2" height="678" fill="#000"/>
<rect x="518.5" y="0" width="1.5" height="678" fill="#000"/>
<rect x="0" y="676.2" width="520" height="1.8" fill="#000"/>
</svg>
</body></html>
